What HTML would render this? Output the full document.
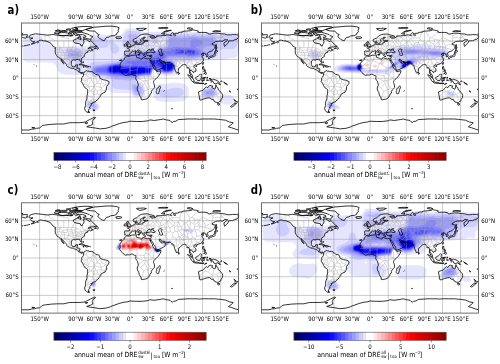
<!DOCTYPE html><html><head><meta charset="utf-8"><style>html,body{margin:0;padding:0;background:#fff;width:500px;height:364px;overflow:hidden}svg{display:block}text{font-family:"DejaVu Sans","Liberation Sans",sans-serif;fill:#000}.tk{font-size:5.45px}.cap{font-size:6.2px}.ss{font-size:4.0px}.ss2{font-size:3.6px}.let{font-size:10.2px;font-weight:bold;fill:#000}.frame{fill:none;stroke:#4a4a4a;stroke-width:0.8}.cbf{fill:none;stroke:#555;stroke-width:0.6}.tick{stroke:#444;stroke-width:0.6}.co{fill:none;stroke:#000;stroke-width:0.8;stroke-linejoin:round}.bd{fill:none;stroke:#a0a0a4;stroke-width:0.4}.gr{fill:none;stroke:#999;stroke-width:0.5}</style></head><body>
<svg width="500" height="364" viewBox="0 0 500 364">
<defs><clipPath id="mapclip"><rect x="21.5" y="23.0" width="217.0" height="110.3"/></clipPath>
<linearGradient id="cbg" x1="0" x2="1" y1="0" y2="0"><stop offset="0.0000" stop-color="#00005d"/><stop offset="0.0238" stop-color="#00005d"/><stop offset="0.0238" stop-color="#00006e"/><stop offset="0.0476" stop-color="#00006e"/><stop offset="0.0476" stop-color="#00007f"/><stop offset="0.0714" stop-color="#00007f"/><stop offset="0.0714" stop-color="#000090"/><stop offset="0.0952" stop-color="#000090"/><stop offset="0.0952" stop-color="#0000a0"/><stop offset="0.1190" stop-color="#0000a0"/><stop offset="0.1190" stop-color="#0000b1"/><stop offset="0.1429" stop-color="#0000b1"/><stop offset="0.1429" stop-color="#0000c2"/><stop offset="0.1667" stop-color="#0000c2"/><stop offset="0.1667" stop-color="#0000d3"/><stop offset="0.1905" stop-color="#0000d3"/><stop offset="0.1905" stop-color="#0000e4"/><stop offset="0.2143" stop-color="#0000e4"/><stop offset="0.2143" stop-color="#0000f4"/><stop offset="0.2381" stop-color="#0000f4"/><stop offset="0.2381" stop-color="#0d0dff"/><stop offset="0.2619" stop-color="#0d0dff"/><stop offset="0.2619" stop-color="#2525ff"/><stop offset="0.2857" stop-color="#2525ff"/><stop offset="0.2857" stop-color="#3d3dff"/><stop offset="0.3095" stop-color="#3d3dff"/><stop offset="0.3095" stop-color="#5555ff"/><stop offset="0.3333" stop-color="#5555ff"/><stop offset="0.3333" stop-color="#6d6dff"/><stop offset="0.3571" stop-color="#6d6dff"/><stop offset="0.3571" stop-color="#8585ff"/><stop offset="0.3810" stop-color="#8585ff"/><stop offset="0.3810" stop-color="#9d9dff"/><stop offset="0.4048" stop-color="#9d9dff"/><stop offset="0.4048" stop-color="#b5b5ff"/><stop offset="0.4286" stop-color="#b5b5ff"/><stop offset="0.4286" stop-color="#cdcdff"/><stop offset="0.4524" stop-color="#cdcdff"/><stop offset="0.4524" stop-color="#e5e5ff"/><stop offset="0.4762" stop-color="#e5e5ff"/><stop offset="0.4762" stop-color="#fffdfd"/><stop offset="0.5000" stop-color="#fffdfd"/><stop offset="0.5000" stop-color="#fffdfd"/><stop offset="0.5238" stop-color="#fffdfd"/><stop offset="0.5238" stop-color="#ffe5e5"/><stop offset="0.5476" stop-color="#ffe5e5"/><stop offset="0.5476" stop-color="#ffcdcd"/><stop offset="0.5714" stop-color="#ffcdcd"/><stop offset="0.5714" stop-color="#ffb5b5"/><stop offset="0.5952" stop-color="#ffb5b5"/><stop offset="0.5952" stop-color="#ff9d9d"/><stop offset="0.6190" stop-color="#ff9d9d"/><stop offset="0.6190" stop-color="#ff8585"/><stop offset="0.6429" stop-color="#ff8585"/><stop offset="0.6429" stop-color="#ff6d6d"/><stop offset="0.6667" stop-color="#ff6d6d"/><stop offset="0.6667" stop-color="#ff5555"/><stop offset="0.6905" stop-color="#ff5555"/><stop offset="0.6905" stop-color="#ff3d3d"/><stop offset="0.7143" stop-color="#ff3d3d"/><stop offset="0.7143" stop-color="#ff2525"/><stop offset="0.7381" stop-color="#ff2525"/><stop offset="0.7381" stop-color="#ff0d0d"/><stop offset="0.7619" stop-color="#ff0d0d"/><stop offset="0.7619" stop-color="#f80000"/><stop offset="0.7857" stop-color="#f80000"/><stop offset="0.7857" stop-color="#ec0000"/><stop offset="0.8095" stop-color="#ec0000"/><stop offset="0.8095" stop-color="#e00000"/><stop offset="0.8333" stop-color="#e00000"/><stop offset="0.8333" stop-color="#d30000"/><stop offset="0.8571" stop-color="#d30000"/><stop offset="0.8571" stop-color="#c80000"/><stop offset="0.8810" stop-color="#c80000"/><stop offset="0.8810" stop-color="#bc0000"/><stop offset="0.9048" stop-color="#bc0000"/><stop offset="0.9048" stop-color="#b00000"/><stop offset="0.9286" stop-color="#b00000"/><stop offset="0.9286" stop-color="#a30000"/><stop offset="0.9524" stop-color="#a30000"/><stop offset="0.9524" stop-color="#980000"/><stop offset="0.9762" stop-color="#980000"/><stop offset="0.9762" stop-color="#8c0000"/><stop offset="1.0000" stop-color="#8c0000"/></linearGradient>
</defs>
<rect width="500" height="364" fill="#fff"/>
<g transform="translate(0,0)">
<text transform="translate(7.60 13.90) scale(1 1.14)" class="let">a)</text>
<g clip-path="url(#mapclip)">
<path fill="#e5e5ff" d="M93 111l2.7 0 2.2-1.1 .9-.9 .8-1.9-.2-1.8-1.9-2.3-4.5-3.3-2.7-.3-1.8 .3-1.2 .9-.7 1.9-.1 3.7 .2 1.9 .5 .9 1.3 .9zM225.1 104.5l2.7 .2 1.8-.3 1.8-.6 1.7-1.3 .7-1 .5-1.8-.4-1.9-.6-.9-1.9-1.4-3.6-1.1-1.8-.1-4.5 .6-.9 .7-1.2 2.2 .2 2.8 1 1.5 .9 .9 1.8 1zM160.9 101.6l10.8 .5 10-.9 2.7-.7 1.3-.8 1.4-1.4 .9-1.4 .6-1.9 .3-3.7-.3-1.9-.8-1.9-1.4-1.8-2-1.4-2.7-.9-2.8-.5-7.2-.1-5.4 1.2-5.4-.2-3.1 .9-2.4 1.8-1.4 2-.9 2.8 .1 3.7 1.1 2.8 1.6 1.9 2.2 1.2zM202.5 98.2l1.8 .4 5.4 .1 1.8-.2 1.8-.5 5.5-3 .2-.9-.4-1.9-2.6-3.9-.9-1-1.8-1-2.7 0-5.4 1.5-2.3 1.6-1.8 2.8-.3 3.7 .2 1zM133.7 96.9l2.7 .5 4.6-.1 2.7-.6 1.1-.8 .5-.9 .2-1.9-.9-6.5-.9-1.9-.9-.9-2.7-1.9-.6-.9 .2-.9 .6-1 1.6-1.2 2.7-.3 4.5-.1 1.8-.3 .9-.5 .3-.4-.1-1.8 .7-3.9 1.8-.2 .7 .3 .7 1 .4 1.4 .9 1.5 8.2 1.3 7.2-.4 6.3-1 2.9-1-2-.9-2.7-.2-.5-.7-.2-1 .5-3.7 0-3.7 .2-.5 .9-.5 3.7-.2 1.8 .1 2.7 1.4 .9 .1 4.5-1.6 9.1-1.1 3.6-.7 8.1 .1 5.4-.5 6.4-.1 6.3-1.7 3.6 .2 1.8-.4 .9-.9 .5-1.2 .6-4.7 .7-2.1 0-15.9-3.6-.5-19.9-.5-3.6 .3-2.7-.5-43.4-.2-10.9 .1-9.9 .5-1.4-.8-1.4-1.9-1.8-.9-2.7-.3-9.9 .2-1.8 .6-.6 .4-3 4.5-1.8 1-10 0-8.1-.6-10 .3-1.1 .4 .6 1 .1 .9-1.4 1.3-.9 .1-.9-.3-2.7 .1-.9-.3 .4-.9-.1-.9-1.2-.5-2.7 0-.9 .3-1 1.1 .9 .9-.9 .8-.9-.4-1.8 .2-1.8 .8-1.4 1.4 0 1 1.4 1.5 3.6 .3 1.5 1 .4 1.1-1 .5-8.1 .1-11.8 .8-2.7 0-2.7-.5-3.6-1.5-.9-.6-1.8-2.7-.9-.5-2.2-.5-.5-.3-1-1.5-.8-2.4-.9-1-.9-.2-12.7-.4-2.7 .8-.9 .7-.9 1.2-.7 2.2-.2 2.8 .2 14 .7 3.1 .9 1.2 .9 .7 1.8 .5 1.8 .2 4.5-.2 14.5 .2 4.5 .5 1.8 1 1.3 1.2 2.8 5.6 1.3 2 1.9 1.3 1.8 .6 12.6 .4 11.8 0 2.7 .5 7.2 2 7.3 .9 1.7 .7 1 1 .5 .9-.5 3.7 .1 2.8 .6 1.9 2 2.3 .9 .2 .9 .7 2.7 .3 14.5 .4 1.8 .9zM83 45.5l.8-1.8 .2-3.2 .9-.8 .9 .1 .9 .5 1.8 1.8 2 .6 .4 1-.4 .9-2 1-4.5 .6zM139.2 37.1l1.8-1.4 3.6-1.3 2 .8-6.6 2.7z"/>
<path fill="#cdcdff" d="M90.3 109.1l3.6 .7 1.8-.2 .9-.4 1.2-1.1 .4-1 .1-.9-.4-.9-1.3-1.4-3.6-2.7-1.8-.5-1.8 .2-.9 .5-.5 1.1-.2 3.7 .5 1.9zM163.6 97l7.2 .4 8.1-.9 1.9-.4 1.7-1.1 .6-.9 .4-1 0-1.8-.9-1.9-.9-.7-1.9-.7-1.8-.3-5.4 .2-6.3 2-4.5-.3-.9 .1-1.1 .6-.8 1-.3 .9 .2 1.9 .5 .9 1 .9zM203.4 97.1l1.8 .4 3.6 0 1.8-.1 2-.5 2.5-1.4 1.5-1.4 .4-1-.4-1.8-2.1-2.8-1.2-.8-.9-.3-2.7 .3-4.5 1.4-.9 .7-1.3 1.5-1.3 2.8 .3 1.8zM136.4 96l5.5-.4 1.2-.6 .6-.9 .1-1.9-.3-3.7-.7-2.2-.9-1.1-4.6-2.3-.8-1 0-.9 .6-.9 1.6-1.9 1.3-.9 2.8-.8 6.3-.1 1.8-.4 .4-.6 1.1-4.7 1.2-.7 .9 0 .9 .5 1.8 1.5 1.8 .4 4.6 1.8 3.6 .2 3.6-.4 1.8-.5 .9-.6 .9-1 1.3-3 .4-2.8-.7-4.7 1.3-.9 5.9-.5 6.3 .5 9.9-1 6.4-1.5 6.3 .4 3.1-.7 2.3-1.9 .6-.9 1.1-3.8 1-1.1 2.6-.7 10.1-.4 1.8-.7 1.8-1.3 1.6-2.3 .5-1.9-.3-3.4-.9-2.2-1.2-.9-1.5-.4-14.5-.6-5.4-.9-4.5-.3-7.2 .1-10-.4-11.7 .2-16.3-.3-11.8 .3-1.7 .4 .6 1.9-1.3 .9 .1 .9 .5 .8 .9 .9 .9 .2 1.8-.2 .4-.7 1.4-.2 1.8-2.7 6.4-.1 .9-.2 .9-.7 .4 .1 .3 1-1.1 3.7-.2 4.7-.3 .8-5.5 1.5-1.8 .8-2.7 2.3-.9 .1-1.8-1.8-.9 0-1.1 1-.7 0-.9-.8-2.7 1.8-.9 .2-3.6 .1-2.8-1.1-.9 0-.9 .9-2.7-.2-2.7 1-1.8 .2-.4-.3-.4-.9-1.2-.9-.5-1 .1-.9-.8-.9 .7-1 0-.9-1.4-1.9 1-.9 .2-.1 .9 .7 .9 1.1 .4 1.1 .9 .9 .2 1 .3 .3 1.8-.5 2.7-1.3 .9-.2 6.4 0 1.3-1.1 .5-1.1 .9-.2 2.7 0 1-.6 .5-1-1.5-1.2-2.7 0-.9-.3-.3-.3 .7-1-.4-.3-.9 0-2.7 1.3-.7 .9-.1 .9-1.1 1.2-.9 .3-1.8-1.4-1.8 .2-.4-.3-.2-.9 .6-.7 1.8-.5 2.7-3.1 1.9-1.3 .3-.9-2.2-1.8-2.7-.6-7.2 .1-1.8 .2-.9 .4-1.5 1.7-.9 1.8-1.8 6.6-.1 1.9 .3 1.8 1.1 1.9 2 1.9 1.8 .8 .7 1-.6 1-2.8 1-.9 .8-1.6 2.8-.8 1-4.9 2.3-1.8 .5-6.3 .7-12.7 .4-3.6 .9-1.8 1-1.8 1.6-1.2 1.9-.2 1.9 .9 1.8 1.8 1.9 4.1 2.4 3.6 1.1 8.2 .9 4.5 1.6 .8 .5 1.1 1.9 .2 .9-.3 3.8 .9 1.8 .9 .7 3.6 .9 10.9 .7 1.8 .3 .9 .6 .9 1.2 2 3.1 .7 .6zM124.4 46.5l-.8-1 .2-.9 .9-.7 .9 .1 .5 .6 .1 .9-.6 .8zM76.7 68.9l1.8 .4 1.9-.5 1.1-.9 1-1.8 0-1-.3-.9-1.6-1.9-.4-.9 1.9-1.9 .9-1.8 .1-2.8-.7-4.7-1.1-1.3-1.9-.5-4.5 .1-5.4-.2-1.8 .3-1.3 .7-.7 .9-.3 .9-.2 2.8 .1 2.8 .6 1.9 .9 1 1.8 1 7.7 .8 .5 .9-1.4 1.9-.4 1.9 .6 1.8zM112.9 53.2l1.8 .6 .9-.1 1.6-.7 1.6-1.9 .4-1.8-.2-1.9-.5-.9-1.1-1.2-2.6-1.6-.8-1.9-1.1-1.2-1.8-.2-1.1 .4-.7 .7-.9 0-1.2-1.6-1.5-1.3-1.8-.8-2.7-.3-7.3 .2-.9 .4-2.5 1.8-.1 .9 .8 .3 2.4 2.6 1.6 .9 .6 .9-1 1.3-4.2 .6 0 .9 .6 .8 .9 .4 1.8 .2 7.3-1.6 4.5-.4 2.3-1.2 1.3-2.4 .9 .8 .2 .6-.4 2.8 .4 1.9 1 1.9zM152.7 42.9l1.8 .5 1.8-.3 1-.4 .7-.9-.3-1-1.4-.6-2.7 .1-1.4 1.5z"/>
<path fill="#b5b5ff" d="M91.2 107.2l2.7 .6 .9-.1 1.1-.6 .1-.9-.6-.9-2.3-1.9-1.9-.6-1.1 .6-.3 1.9 .2 .9zM204.3 96l1.8 .3 3.6 0 2.7-.6 1.8-1.1 .9-1 .4-1.4-.3-.9-1.4-1.9-1.4-.7-1.8 0-4.5 1.3-1.6 1.3-1.1 1.8-.1 1.9zM135.5 94.3l2.7 .2 2.8-.6 .8-.8 .2-.9-.1-3.5-.9-2-1.4-1-3.2-1.4-2.7-.3-1.4 .7-.5 1-.1 .9 .4 1.9 1.6 3.7 .9 1.4zM124.7 80.1l3.6 .5 2.7-.1 3.6-1.1 5.4-3.1 2.8-.5 7.2-.2 .9-.5 .3-.6 1-3.8 .5-.6 .9-.4 .9 0 1.8 .9 2.7 .6 3.7 1.9 1.8 .5 1.8 .1 5.4-.8 1.8-1.2 .7-1 .9-1.8 .4-1.9-.4-2.8-2-3.7-.2-1 2.4-.8 4.5-.4 3.7-.1 6.3 .6 9-.7 2.8-.7 3.6-2.3 .9-.3 .9-.1 3.6 .7 .9-.1 .7-.4 .6-1 1.1-4.6 3.9-5.6 .3-1-.1-.9-3-4.7-1.5-.9-2-.4-8.1 .3-10-.7-11.7 .5-11.8-.4-.9 .3-1.2 2.2-.5 7.5-.6 1-1.3 .7-6.4 1.7-2.7 2-.9 .4-1.8-.7-.9-1.3-.9 0-.9 1.2-.9 0-.9-.8-.9 .3-1.8 1.4-.9 .2-3.6 0-2.8-1.1-.9 1-.9 .1-1.8-.6-.9 0-7.7 2.9-1 1-2.1 3.5-.9 1-4.6 2.3-2.4 .6-5.7 .6-13.6 2-3.6 1.4-1.6 1.6-.4 1-.1 .9 .5 1.9 2.1 1.8 2.2 1.1 2.7 .7 6.4 .4 4.5 1 1.9 .6 3.5 2 1.8 .5 5.5 0zM69.5 57.9l1.8 .4 5.4 .2 2.7-.5 1-.8 .5-1.4 0-2.8-.5-1.7-1-.8-.9-.3-3.6 .5-3.6-.6-1.8 .1-1.1 .9-.6 2.8 .5 2.8zM132.8 45.5l2-.9 .6-1.9-2.3-1.9-.1-.9 .4-.9 1.2-.9 1.8-.7 .9-1.2-.2-1-1.6-.9-1.8-.2-2.9 .2-1.6 .3-1.4 .6 0 1 1.6 1.8 .1 1-.6 1.8 .2 1 1.6 2.8 1.2 .9zM136.4 43.8l4.6 .3 1.8-.2 1.8-2.7 2.7-.1 .9-.3-.9-.2-2.7 0-.9-.3-.9-1.1-.9 0-.7 .7 0 .9-2.1 2.5-.9 .2-.9-.2-.8-1.5-.6 0-.2 .9zM151.8 38.3l1.8 .1 .9-1 1.8-.2 0-1.7-.9 0-.9 1.3-2.9 .3-.1 .9z"/>
<path fill="#9d9dff" d="M206.1 94.3l2.7 .2 2.7-.4 1.3-1 .5-.9-.4-.9-1.4-.7-3.6 .6-1.8 1.1-.5 .8 .1 1zM135.5 91.4l.9 .5 .9-.2 .9-.7 .6-1.6-.4-1.9-1.1-1-1.8-.6-.9 .3-.6 1.3 .6 2.6zM115.6 77.3l7.3 0 5.4 .7 3.6 .1 2.7-.4 3.5-1.4 3.3-.9 8.6-.4 .9-.6 1.1-3.7 .7-.9 .9-.4 5.4 .9 3.7 2.1 1.8 .6 2.7 0 4.5-.8 1.8-1.4 .6-1 .9-2.8-.1-1.9-.8-1.8-1.5-1.9-1.8-.9-2.7-.1-.9-.3-.5-.6 .5-1.1 1.8-.8 9.9-.7 4.6-.1 7.2 .8 9-.9 1.8-.9 1.5-1.9 .5-1.8-.2-3.8 .5-.9 1.4-1 .9-.2 3.6 .3 .9-.2 1.5-.8 1.2-1.4 .6-1.4 .1-1.9-.3-.9-.5-.9-.8-.7-1.8-.5-6.3 .5-9.1-1.3-3 .1-10.5 1.5-7.3-.8-4.5 .2-.8 1-.3 .9-.2 5.6-.5 1.1-1.8 1.3-6.4 1.6-3.6 2.4-.9 .2-.9-.1-1.8-.9-.9 0-.9 .4-2.7 0-1.8 .9-2.7 .2-2.7-.3-3.7 .3-1.8-.3-3.6 1.6-3.6 1.1-1 .8-3.5 4.4-.9 .8-2.9 1.3-2.6 .7-6.3 .7-5.4 1.3-9.1 1.3-2.7 1.1-1.2 1.5-.2 1.8 .5 1 .9 .9 1.8 1.1 2.7 .7 7.3 .5zM71.3 55.9l6.3 .2 .9-.4 .3-.8-.1-1-.2-.4-.9-.3-2.7 1.1-.9 .1-2.7-1-.9 .4-.1 1.1zM141 43.1l.9 .1 .6-.5 .5-.9-.1-1-1 .6-1.2 1.3z"/>
<path fill="#8585ff" d="M125.6 76.3l7.2 .5 1.8-.2 7.3-1.7 7.2-.1 .9-.3 .9-.7 .9-3.1 .9-1.3 .9-.4 5.4 .6 3.7 2.2 1.8 .7 2.7 0 4.5-.8 .9-.6 .9-1.1 .9-2.1 .2-1.8-.5-1.9-1.4-1.9-1-.7-1.8-.5-2.7 0-1.7-.6-.5-1 .2-.9 .8-.9 1.2-.9 1.8-.7 13.6-.5 6.3 .8 2.7 .1 6.3-.7 1.8-.6 1-.7 .7-1.5-.3-1.9-1.4-1.5-2.8-1.3-1.3-.9 1.1-.9 4.9-2 .9-.8 .4-1 0-.9-.9-1-2.1-.9-3.8-1-2.7 .1-2 .9-.8 .9-.4 1.9 .5 1.9 0 1.4-.9 1.4-13.6-.4-6.3 1-9 2.2-3.7 2.3-1.8 .8-3.6 .3-6.3 .1-3.6 .4-2.8 .8-.8 .9 .2 .9-.3 1-1.8 .6-2.7 .5-4.5-.4-1.8 .4-1.8 1.4-2.7 2.7-.9 .3-10.9 1.2-5.4 1.7-8.2 1.1-2.7 1.1-1 1.5 0 .9 .6 1 1.3 1 1.8 .6 7.3 .4 9.9 2.1 3.6-.1z"/>
<path fill="#6d6dff" d="M123.8 75.4l6.3 .6 3.6 0 8.2-1.5 7.2-.2 .9-.2 .9-1 .6-2.4 1.2-1.7 1.8-.5 4.5 .4 .9 .3 2.8 2.1 1.8 .8 1.8 .1 4.5-.7 1.8-1 1.4-2.6 .2-1.8-.7-2.2-1.8-1.7-1.8-.5-2.7 0-1.7-.3-1.6-.9-.6-1 .1-.9 3.8-3.8 .9-.6 1.8-.2 6.3 .7 7.3 0 5.4 .7 3.6 .1 3.2-.6 2.4-1 .8-.9-.2-.9-3.5-2.5-2.7-.9-15.4-.1-5.4 2-3.6 .4-5.4 .1-1.8 .6-2.3 1.3-1.1 .9-1.2 1.9-.9 .7-3.6 1-3.6 2.6-13.6 .8-5.4 0-2.1 .5-.5 .9 .8 .7 5 1.2-1.7 .9-6 .4-4.5-1.1-1.9-.1-6.3 .5-2.7 .8-3.6 1.8-8.2 1.1-1.1 .4-.9 .9 0 .9 .2 .4 .7 .6 1.1 .4 1.8 .3 4.6-.1 8.1 2.3 2.7 .2 2.7-.2 3.7 .7z"/>
<path fill="#5555ff" d="M131.9 75.4l3.6-.1 7.3-1.3 6.3-.1 .9-.3 .8-1 .9-2.8 1-1.5 1.8-.5 3.6 .1 1.8 .5 2.8 2.4 1.8 .8 1.8 .2 4.5-.7 1.8-1.2 .7-1 .6-1.9-.2-1.9-1.1-1.7-1.8-1.1-5.4-.4-1.8-.5-.9-.8-1.8-2.7-.5-.2 .5-.6 2.7-1.1 .6-1.1-.6-1.1-1.8-.4-1.4 .5-.8 1 0 .9 .6 .9-.3 .2-1.8 .8-4.5 .5-1.8 .8-.7 .5-1.4 1.9-.1 .9 .9 1.9 .2 .9-1.6 .9-13.6 0-10.8 .5-1.8-.3-3.7-1.3-2.7-.1-6.3 .9-2 1.3-2.1 2.8 .3 .9 1.9 1.9 2.8 1.2 2.7 .3 3.6-.3 4.6 1zM184.4 53.9l5.4 .7 3.6-.2 1.8-.9 .4-.5 .1-.9-.4-1-1-.9-1.8-.6-14.5-.1-1.8 .5-1 1.1-.2 1 .4 .9 .8 .5 1.8 .3z"/>
<path fill="#3d3dff" d="M126.5 74.5l7.2 .4 8.2-1.2 7.2-.2 1.2-.9 1.5-4.9-.5-.7-1.3-.2-14.5-.2-10.8 .5-1.8-.3-3.7-1.3-2.7-.3-4.5 .5-1.8 .6-1 .7-1.3 1.9 .1 1.8 .5 1 1.1 .9 1.5 .6 2.7 .3 4.5-.3 2.8 .9zM163.6 70.8l.9 .4 1.8 .2 3.6-.5 1.8-.7 1.1-1.3 .7-1.9-.3-1.9-.5-.9-1-1-.9-.4-4.5-.2-3.6-.8-2.5-2.3-1.2-.5-1.8-.2-3.6 .4-.9 .3-1.1 1-.5 .9 .1 .9 1.5 3.1 .6 .7 1.2 .3 4.5 .4 .9 .4zM178.9 53l4.6 0 8.1 .8 1.8-.3 .8-.5 .3-.9-.5-1-.6-.4-1.8-.3-12.7 0-1.8 .3-.5 .4-.1 1 .6 .6z"/>
<path fill="#2525ff" d="M122 73.6l11.7 .9 9.1-1.4 5.4 0 .9-.1 .9-.6 1.1-3.5-.4-1-1.6-.5-13.6-.2-10.8 .5-2.7-.5-3.7-1.4-1.8-.2-5.4 .8-1.1 .6-.9 .9-.4 1 .1 1.8 .6 1 1.7 1 2.7 .3 4.5-.4zM165.4 70.9l4.5-.4 1.8-.9 1.1-1.7 .3-1.8-.5-1.3-.9-1.1-1.8-.7-8.1-.2-2.1-2.3-1.6-.6-3.6 0-1.4 .6-.4 .4-.3 .5 .1 .9 1.1 1.3 1.8 .6 4.5 .3 1.7 3.4 1.1 1.5 .9 .8zM188 52.1l2.7 .5 .9 0 1.2-.5-1.2-.6-.9 0-3.1 .6z"/>
<path fill="#0d0dff" d="M128.3 73.6l6.3 .4 8.2-1.3 5.8-.1 .5-.2 .9-.9 .3-2.6-.3-.5-1.6-.5-10.2-.2-13.5 .6-2.7-.6-3.7-1.4-1.8-.3-5.4 .9-1.3 1-.4 1 .1 1.8 .8 1 1.7 .7 1.8 .1 4.5-.5 2.8 .9zM164.5 70.1l1.8 .3 4.5-.7 1-.8 .8-1.8 0-1-.3-1-.8-.9-1.6-.7-5.4 0-1.8 .6-.7 1 .1 1.9 .9 1.9z"/>
<path fill="#0000f4" d="M132.8 73.5l3.6-.2 6.4-1.3 5.4-.1 .9-.3 .6-1.8-.5-.9-1-.3-10.9-.4-4.5 .1-8.1 .8-2.7-.7-3.7-1.5-1.8-.4-4.5 .5-1.6 .9-.5 1 0 .9 .3 .9 .9 .8 .9 .4 2.7 0 3.6-.6 2.8 .8 3.6 .1 4.5 .9zM165.4 69.8l3.6-.2 1.8-.6 .9-.9 .4-1.1-.4-1.9-.9-.7-.9-.3-4.5 0-1 .1-.8 .5-.7 1.4 .3 1.8 .6 1z"/>
<path fill="#0000e4" d="M130.1 72.6l3.6 .3 3.6-.3 5.5-1.6 5-.3 .3-.9-4.4-.2-4.6-.7-4.5-.1-2.7 .3-3.3 .7-1.5 .9 .5 1zM111.1 70.9l1.8 .6 1.8-.1 3.6-.8 2.8 .4 1.3-.3 0-.9-1.3-.9-3.7-1.7-2.7-.1-2.7 .4-.9 .5-.5 .9-.1 .9zM165.4 68.9l1.8 .1 2.7-.4 1-.7 .4-.9 0-.9-.5-.8-.9-.4-4.5 0-.9 .2-.6 1 0 .9 .6 1.2z"/>
<path fill="#0000d3" d="M131.9 71.8l1.8 .3 2.7-.2 1.1-.2 1.5-1-1.1-.9-4.6 0-2.2 .9 .3 1zM112.9 70.9l2.7-.3 2-.8 .6-.9-1-1-.7-.2-3.9 .2-1.3 1-.1 .9 .8 .8z"/>
<path fill="#0000c2" d="M112.9 69.9l2.2-.1 .7-.9-1.1-.3-1.8 .1-.2 .2-.1 .9z"/>
</g>
<path class="bd" d="M61.4 60.1l.2 .1M63.2 62.8l0 .2M65 58.3l-.4 1.1M64.6 59.4l-1 1.4M64.6 59.4l4.9 3.6M69.5 63l-.2 .7M69.3 63.7l-2.6 .6M85.6 106l.1 .2M85.7 106.2l-.3 .3M68.7 58.3l1.2 4.3M69.9 62.6l-.4 .4M69.9 62.6l1.3-.6M72.4 66.8l-1 .8M71.4 67.6l-1.4-2.3M70 65.3l-.7-1.6M70 65.3l-2.3 1.1M71.4 67.6l-.1 .4M71.8 58.3l.9 1.6M74.9 58.3l-.9 1.3M75.7 65.7l.3 .2M76 65.9l-1.5 2.9M75.9 69.3l-.2 0M76 65.9l.5 .3M76.5 66.2l.4 1.2M76.7 68.4l-.8 .9M75.9 69.3l.1 .2M77.2 65.7l-.7 .5M126.1 56.9l2.3 4M128.4 60.9l-4-1.3M79.6 69.5l-.6 .3M79 69.8l-1-1.3M79 69.8l0 .1M79 69.9l-1 .5M79 69.9l.2 .4M79.2 70.3l-.7 1M79.5 70.7l-.3-.4M80.1 72.4M82 72.6l.4 .3M83.7 74.4l.2 .3M83.9 74.7l-.2 .2M81.8 79.7l3.4 .6M85.2 80.3l-.7 4M84.5 84.3l-1.1 .2M84.8 71.8l-.5 2.8M84.3 74.6l-.4 .1M87.2 98.2l1 4.7M88.2 102.9l-.6 1.8M87.6 104.7l-1.2 1.5M86.4 106.2l-.7 0M92.2 71.9l.4 4M92.6 75.9l-1.7 1.9M90.9 77.8l-1.3 0M89.6 77.8l-3.5-2.6M86.1 75.2l1.5-3.8M99 75.7l-3.7 .4M95.3 76.1l-2.7-.2M86.1 75.2l-1.8-.6M87.5 94.4l.3 1.3M87.8 95.7l-.6 .7M84.5 84.3l2.3 .7M86.8 85l.6 .7M87.4 85.7l-2.8 1.4M89.6 77.8l-2 1.7M87.6 79.5l-2.4 .8M87.6 79.5l-.8 5.5M87.4 85.7l.4 .3M87.8 86l.4 .6M88.2 86.6l-1.3 2.1M88.2 86.6l.6 .1M88.8 86.7l1.4 4.5M90.2 91.2l-2.4 2.1M90.9 77.8l.6 1.9M91.5 79.7l-3.7 6.3M86.4 106.2l2.9 2.5M95.3 76.1l2 6.6M97.3 82.7l-.2 .4M97.1 83.1l-2.5 1.7M94.6 84.8l-3.1-5.1M94.6 84.8l-.1 1.2M94.5 86l-.2 .3M94.3 86.3l-5.5 .4M87.8 95.7l4.3 1.4M92.1 97.1l1 1.8M93.1 98.9l-4.9 4M90.2 91.2l.7-.1M90.9 91.1l2.7 3.3M93.6 94.4l0 .2M93.6 94.6l-1.5 2.5M93.1 98.9l1.1 .9M94.2 99.8l.1 2.1M90.9 104.2l-3.3 .5M94.3 86.3M94.3 86.3l-3.1 4.5M91.2 90.8l-.3 .3M94.5 86l6.6 1.6M101.1 87.6l.1 .1M101.2 87.7l0 1.6M101.2 89.3l-4 1.7M97.2 91l-1.6-1.3M95.6 89.7l-1.3-3.4M91.2 90.8l3 1.1M94.2 91.9l-.6 2.5M94.2 91.9l1.4-2.2M97.2 91l.6 3.1M97.8 94.1l-4.2 .5M97.8 94.1l1.7 1.5M99.5 95.6l.3 .5M99.8 96.1l-.4 1M98.2 98.7l-4 1.1M97.1 83.1l3 .7M100.1 83.8l1 3.8M100.1 78.6l-2.8 4.1M101.2 79.2l.4 3.4M101.6 82.6l-1.5 1.2M105.1 80.3l1 1.3M106.1 81.6l-.5 3.2M105.6 84.8M105.6 84.8l-4-2.2M101.2 89.3l.4 .5M101.6 89.8l-2.1 5.8M101.6 89.8l2.6 1.4M104.2 91.2l0 .2M104.2 91.4l.2 1M100.3 96l-.5 .1M105.6 84.8l-4.4 2.9M105.6 84.8l1.3 1M106.3 87.9l-2.1 3.3M124.9 44.4l.4 .3M125.3 44.7l.1 1.1M105.3 91.2l-1.1 .2M106.1 81.6l1.2-.6M128.4 60.9l.1 .1M128.5 61l-8.2 7.2M123.2 73.6l3.4 1.2M126.6 74.8l.1 0M119.9 69l10-1.3M129.9 67.7l-.2 3M129.7 70.7l-3.1 4.1M124.9 51.7l1.7 .3M126.6 52l-.2 .9M126.4 52.9l-1 1.9M127.2 51.3l0 .1M127.2 51.4l-.1 .2M127.1 51.6l-.3 .1M126.8 51.7l-.3-.4M128.5 61l3.6 0M132.1 61l-2.2 6.7M126.8 51.7l-.2 .3M126.4 52.9l3 1.8M130.3 56l2.2 4.9M132.5 60.9l-.4 .1M125.3 44.7l.1 0M125.4 44.7l.7 .2M127.7 45.4l.5 .1M128.2 45.5l-.1 .4M128 46.5M127.3 42l-.4 1.2M126 44.2l-.6 .5M129.5 44.3l-1.2 1.1M128.3 45.4l-.3-.4M128.3 45.4l-.1 .1M127.1 51.6l2.6 1M129.7 52.6l.1 1.1M129.1 48l.1 0M129.2 48l.7 1.6M129.9 49.6l-.3 .2M127.3 51.3l-.1 .1M129.7 47.7l-.5 .3M129.7 52.6l1.4-1.2M131.1 51.4l.4 .7M133.9 55.4l0 .1M133.9 55.5l-.1 4.1M133.8 59.6l-.2 1.2M133.6 60.8l-1.1 .1M129.9 49.6l1.4 .7M131.3 50.3l-.2 1.1M131.8 46.7l.4 .3M132.2 47l.2 2.5M132.4 49.5l-.2 .2M132.2 49.7l-.9 .6M133.6 60.8l5.8 2.9M139.4 63.7l-2.2 6M137.2 69.7l-7.5 1M141.4 98.5l0 .1M141.4 98.6l.2 .8M137.2 69.7l-.2 5.3M137 75l-.8 1.2M132.2 49.7l1 1.3M133.2 51M133.9 55.4l0 .1M134.4 39.3l-.1 .5M134.3 39.8l-.9 .6M136.9 51.5l.7 .1M137.6 51.6l.6 .6M138.2 52.2l0 .1M136.3 56l-2.5 3.6M134.3 39.8l.8 1.4M135.1 41.2l-.5 .6M136.1 47.9l.3 .4M136.4 48.3l-1 1.1M135.4 49.4l-.9-.2M134.5 49.2l-.3-2.1M134.2 47.1l1.9 .8M136.1 47.9l-.9-1.9M135.2 46l.1-.1M135.3 45.9l.8-1M136.1 44.9l1.6 .9M137.7 45.8l.5 1.3M138.2 47.1l.1 .6M138.3 47.7l-1.9 .6M132.2 47l.9-.4M133.1 46.6l1 .2M134.1 46.8l.1 .3M134.5 49.2l-2.1 .3M133.5 45.3l-.4 1.3M133.2 51l.6 .1M134 45.2l1.3 .7M135.2 46l-1.1 .8M135.4 49.4l.2 .9M136.6 38.2l0 .6M136.6 38.8l-1-.1M136.6 38.8l.1 0M136.7 38.8l0 2M136.7 40.8l-.1 .2M136 41.2l-.9 0M135.5 44.3l.6 .4M136.1 44.7l0 .2M138.3 47.7l.7 .6M139 48.3l-.5 1.3M137.8 51.1l-.2 .5M148.3 97.2l.3-1.4M148.6 95.8l1-.9M157.3 88.6l2.7-.3M141.4 98.6l2.3-7.5M143.7 91.1l4-1.6M147.7 89.5l.9 6.3M140.9 59.4l.7 2.3M141.6 61.7l-1.3 1.8M140.3 63.5l-.9 .2M136.2 44.4l-.1 .3M144.9 34.3l0 .1M144.9 34.4l-1.1 2.6M141.1 38.8l-1.1-.3M140 38.5l-.3-.4M139.7 38.1l-.2-2.3M139.7 38.1l-3 .7M136.7 40.8l1.7 .3M138.4 41.1l.3 .7M138.7 41.8l-.9 1.3M137.8 43.1M137.8 43.1l.2 .2M138.4 44.8l-.7 1M138 86.6l2.8 1.3M140.8 87.9l2.9 3.2M138.2 47.1l2.2-2.2M140.4 44.9l1.2 .6M141.6 45.5l-.5 2.7M141.1 48.2l-1.4 .2M139.7 48.4l-.7-.1M140 38.5l-.2 .4M139.8 38.9l-1.4 2.2M138.7 41.8l1.2 .5M139.9 42.3l0 .2M139.7 48.4l.3 2.4M139.2 52.4l-.1 0M139.1 52.4l-.9-.2M139.1 52.4l0 .5M140.2 44.5l.2 .4M139.8 38.9l.5 3M140.2 42.1l-.3 .2M140.3 63.5l5.7 4.2M146 67.7l-.2 5.7M145.8 73.4l-1.6 2.3M144.2 75.7l-7.2-.7M141.8 59.4l0 2.1M141.8 61.5l-.2 .2M136 77.8l8.1 3.1M144.1 80.9l-5.7 3.6M142.1 44.6l.2 .5M142.3 45.1l-.7 .4M140.8 87.9l4-4.4M144.8 83.5l3 6M147.8 89.5l-.1 0M144.2 75.7l1.1 4.9M145.3 80.6l-.1 .1M145.2 80.7l-1.1 .2M141.1 48.2l.6 .4M141.7 48.6l-.3 2.9M145.2 80.7l-.4 2.8M142.3 45.1l.7-.1M143 45l1.9 1.1M144.9 46.1l-2.2 2.6M142.7 48.7l-1-.1M142.7 48.7l.8 .8M143.5 49.5l-.7 3.1M142.8 52.6l-.6 .4M141.8 61.5l.7-.5M142.5 61l7.4-.4M153.2 67.3l-.2 .2M153 67.5l-7 .2M142.8 52.6l1.3 0M144.1 52.6l.1 .1M144.7 58.5M144.7 58.5l-2.2 2.5M145.3 80.6l1.1 .1M146.4 80.7l4.4 8M150.8 88.7l-3 .8M143.6 42.9l-.6 2.1M148.9 34.8l-.2 .4M148.7 35.2l-1.8 1.2M146.9 36.4l-2-2M144 38.7l.9 1M144.9 39.7l-.4 .9M146.9 36.4l.7 1M147.6 37.4l-.5 1.2M147.1 38.6l-1.9 1.1M145.2 39.7l-.3 0M143.5 49.5l.7 .1M144.2 49.6l.5 .7M144.7 50.3l.2 1.5M144.9 51.8l-.8 .8M145.2 39.7l.5 .7M146.4 41.5l0 .1M146.4 41.6l-1.5 .8M144.9 42.4l-.3-.1M144.9 42.4l2 3.5M146.9 45.9l-.1 .1M146.8 46l-1.9 .1M144.7 50.3l2.5 .3M146.7 51.8M146.7 51.8l-1.8 0M146.8 46l0 1.9M146.8 47.9l-2.6 1.7M146.7 51.8l0 .5M146.7 52.3l-.3 .3M146.9 45.9l1.7-1M148.6 44.9l1.5 .6M150.1 45.5l.8 .8M150.9 46.3l.7 2.8M151.3 49.8l-.7 .5M147.8 49.9l-1-2M147.6 37.4l1.9 .4M149.5 37.8l.1 3.6M149.6 41.4l-1 .8M148.6 42.2l-.9-.8M147.7 41.4l-.1-.1M147.5 40.5l-.4-1.9M146.4 41.6l1.3-.2M148.6 42.2l0 2.7M146.7 52.3l.1 .2M147 53.1l.2 .5M147.2 53.6l-.9 .4M149.7 52.5l0 3M149.6 55.5l-2.4-1.9M144.8 58.5l-.1 0M151.2 58.2l-.2 1.4M145.8 73.4l3.3 1.6M149.1 75l4.2 3.8M153.3 78.8l-6.9 1.9M150.8 88.7l2.6 0M149.6 41.4l2.4-.3M152 41.1l.8 1M152.8 42.1M152.8 42.1l-2.7 3.4M148.7 35.2l.7-.2M151.5 35.5l.3 .9M151.8 36.4l-.1 .3M150.3 37.6l-.8 .2M152.3 38.6l-.3 2.5M153 50l.2 .1M153.2 50.1l.5 .5M153.9 52.9l-1.7 3.2M152.2 56.1l-.2 .1M153 67.5l0 .6M153 68.1l-3.9 6.9M153 35.9l-1.2 .5M153.3 78.8l.3 .1M153.6 78.9l1.1 .7M153 68.1l.6 10.8M155.1 66.1l.3 0M155.4 66.1l1.5 3.9M157.5 71.8l1.3 3.5M199.7 98.1l3.3 .9M154.9 38.1l-.1 .2M154.8 38.3l-.1 .2M154.7 38.5l-.7-.1M152.2 56.1l3.3 1.7M155.5 57.8l.3 7.7M155.8 65.5l-.1 .4M155.7 65.9l-.3 .2M150.9 46.3l2-.6M152.9 45.7l1.4 2.6M154.3 48.3l-1.1 1.8M152.8 42.1l2 1.4M154.8 43.5l.1 1.1M154.9 44.6l-2 1.1M152.8 42.1l1.9-2M154.7 40.1l1.2 2.3M155.9 42.4l-1.1 1.1M154.7 38.5l.3 .3M155 38.8l-.3 1.3M155.5 51.8l3.4 3.5M158.9 55.3l-.2 .3M158.7 55.6l-3.2 2.2M154.9 44.6l1.3 1.5M156.2 46.1l-1.9 2.2M156.2 46.1l3.4 .9M159.6 47l-.9 1.6M158.7 48.6l-3.3 2.9M162.7 35.8l-1.1 1.8M161.6 37.6l-.2 0M161.4 37.6l-.4-1.6M154.8 38.3l.5-.4M157 36.6l.4-.4M157.4 36.2l.2 .2M157.6 36.4l-.6 3.2M157 39.6l-2-.8M157 39.6l.3 .3M157.3 39.9l-1.3 2.4M156 42.3l-.1 .1M156 42.3l1.4 .5M157.4 42.8l2.6 4M160 46.8l-.4 .2M158.7 48.6l.2 .9M159.6 53.2l.1 .1M159.4 54.9l-.5 .4M157.3 36l.1 .2M161.4 37.6l-.6 .1M160.8 37.7l-3.2-1.3M155.7 65.9l6.3 1.9M158.7 55.6l1.6 3.7M159.7 61.4l-3.9 4.1M160.8 37.7l-2.6 2.3M158.2 40l-.9-.1M158.2 40l.8 1.6M159 41.6l-1.6 1.2M160 46.8l.2 0M160.2 46.8l.7 .8M160.9 47.6l1.3 2M162.3 49.9l.4 .5M162.7 50.4l0 .1M162.7 50.5l-.7 1.3M161.6 37.6l1.1 1M162.7 38.6l.4 .6M163.1 39.2l-2.5 3.4M160.6 42.6l-1.6-1M160.6 42.6l0 3.5M160.6 46.1l-.4 .7M162.8 55.2l2.5 1M165.3 56.2l.2 .6M165.5 56.8l-3.8 3.5M161.7 60.3l-.6 0M164.3 66.4l.9-1.1M165.2 65.3l.1-.1M161.7 60.3l.8 .8M163.6 62.8l1.6 2.5M160.6 46.1l3.1-1.4M163.7 44.7l1.8 3.1M165.5 47.8l-4.6-.2M163.1 39.2l4.6 2.3M167.7 41.5l-.1 .2M167.6 41.7l-3.9 3M162.7 50.5l1.5 1.2M164.2 51.7l1.5 3.5M165.7 55.2l-.4 1M162.9 61.3l5.2-1.4M162.7 38.6l2.4-2.8M167.3 35.1l2.8 4.1M170.1 39.2l-1.6 1.8M168.5 41l-.8 .5M162.7 50.4l3.2-1.2M165.9 49.2l.8 1.8M166.7 51l-2.5 .7M165.5 47.8l.8 .3M166.3 48.1l-.4 1.1M165.5 56.8l2.6 2.3M171.2 34.2l.9 1.2M172.1 35.4l-.3 2.6M171.8 38l-1.2 1M170.6 39l-.5 .2M168.5 41l5.2 5.2M173.7 46.2l0 .1M173.7 46.3l-3.9 1.7M169.8 48l-1.5-1.3M168.3 46.7l-.7-5M166.7 51l1.4 1.4M168.1 52.4l-2.4 2.8M168.1 52.4l2.4-.5M170.5 51.9l2.3 1.4M172.8 53.3l.1 3.6M172.9 56.9l-1.8 1.5M168.3 46.7l-2 1.4M169.8 48l.7 3.9M170.6 39l4.2 4.2M174.8 43.2l-1.1 3M176.3 72.1l.1 0M176.4 72.1l.8 .3M174.3 66.4M174.3 66.4l0 .2M173.7 46.3l.6 .6M174.3 46.9l.6 4.7M174.9 51.6l-2.1 1.7M172.9 56.9l3 1.6M175.9 58.5l.4 1.3M176.3 59.8l-3.8 4.9M181.7 32.4l-2 5.6M179.7 38l-7.9 0M172.1 35.4l1.2-1.9M174.9 51.6l2.4-.1M177.3 51.5l1.7 5.2M179 56.7l-3.1 1.8M179.7 38l.3 1.5M180 39.5l-1.6 2.7M178.4 42.2l-3.6 1M178.4 42.2M178.4 42.2l-1.3 4.1M177.1 46.3l-2.8 .6M176.3 59.8l.6 .7M176.9 60.5l-1 5.8M175.9 66.3l-1.6 .1M197.4 32.1l-5.8 5.6M191.6 37.7l-1.7 .4M189.9 38.1l-4.5-6.7M189.9 38.1l-.8 2.7M189.1 40.8l-2.7 1.8M186.4 42.6l-1.5 .3M184.9 42.9l-.6-.1M184.3 42.8l-4.3-3.3M175.9 66.3l1.3 .3M177.2 66.6l1.1 1.2M178.3 67.8l-2 2.9M176.3 70.7l-.8-.5M176.3 70.7l.1 1.4M178.3 67.8l.5 .3M178.8 68.1M178.4 42.2l2 4.4M180.4 46.6l-2.5 .4M177.9 47l-.8-.7M184.3 42.8l-2.8 4.3M181.5 47.1l-1.1-.5M177.9 47l.4 4M178.3 51l-1 .5M179 56.7l.1 0M179.1 56.7l1.1 4.2M180.2 60.9l-.7 .9M179.5 61.8l-2.6-1.3M178.3 51l.7 0M179 51l3.4 3.9M182.4 54.9l-.1 .3M182.3 55.2l-2.2 1.4M180.1 56.6l-1 .1M179.5 61.8l.4 1.2M179.9 63l-2.7 3.6M181.5 47.1l.3 2M181.8 49.1l-2.8 1.9M178.8 68.1l1-.7M179.9 63l1.2 .5M181.1 63.5l1 1M182.1 64.5l-.2 .6M182.3 55.2l.6 1.3M182.9 56.5l1 3.6M183.9 60.1M183.9 60.1l-2.2-.3M181.7 59.8l-1.6-3.2M180.2 60.9l1.5-1.1M183.9 60.1l0 .2M183.9 60.3l-2.8 3.2M181.8 49.1l3.4 1.6M185.2 50.7l-1.8 3.6M183.4 54.3l-1 .6M184.9 42.9l1.1 7.2M186 50.1l-.5 .5M185.5 50.6l-.3 .1M182.1 64.5l1.2 0M183.9 60.3l.6 3.9M182.9 56.5l5.7 2M188.6 58.5l.3 .4M188.9 58.9l-5 1.2M183.4 54.3l4.3 2.6M187.7 56.9l.9 1.6M188.9 58.9l.6 .4M189.5 59.3l-2.4 5.3M187.1 64.6l-.9 .4M186.2 65l-.1-.1M186.2 65l-.1 .1M204.6 88.8l.5 2.6M205.1 91.4l-5.5 4.9M185.5 50.6l2.1 3.1M187.6 53.7l.1 3.2M187.1 64.6l2.1 1.8M189.2 66.4l-1.3 1.1M189.7 70.9M189.7 70.9l.1 .1M189.1 40.8l1.3 1.4M190.4 42.2l-.5 6.8M189.9 49l-.2 0M189.7 49l-3.3-6.4M191.6 37.7l2.9 1.6M194.5 39.3l-.6 5M193.9 44.3l-3.5-2.1M187.6 53.7l4.1-1.1M191.7 52.6l.6 5.6M192.3 58.2l-1.4 .9M190.9 59.1l-1.4 .2M190.9 59.1l1 3.2M191.9 62.3l-2.5 4.3M189.4 66.6l-.2-.2M189.7 49l-3.7 1.1M189.9 49l2.4 .9M192.3 49.9l-.6 2.7M189.4 66.6l.5 .6M189.9 67.2l.1 2.9M190 70.1l-.2 .4M193.9 44.3l.9 .8M194.8 45.1l-.1 1.6M194.7 46.7l-.5 2.3M194.2 49l-1.9 .9M194.2 49l.7 .4M194.9 49.4l2.1 7.1M197 56.5l-2.5 1.7M194.5 58.2l-2.2 0M191.9 62.3l1.8 3.2M193.7 65.5l0 .2M193.7 65.7l-3.8 1.5M194.5 58.2l2.6 4.1M197.1 62.3M197.1 62.3l-3.4 3.2M193.7 65.7l.1 0M193.8 65.7l-.1 .4M193.6 66.5l-.4 2.9M193.2 69.4l-1.9 .4M190.1 70.1l-.1 0M218 33.4l-5.7 2.6M212.3 36l-1.8-1.9M202.6 32.7l-.3 4.5M202.3 37.2l-.3 1M202 38.2l-2.3 1.8M199.7 40l-5.2-.7M197.1 62.3l-.5 2.6M193.9 65.8l-.1-.1M193.2 69.4l1.6 1M194.8 70.4l-1.2 1.4M193.6 71.8l-.1-.1M189.9 71l-.2-.1M193.6 72l0-.2M194.8 70.4l.9 .1M194.7 46.7l4.3-.1M199 46.6l1.3 .3M200.3 46.9l-1.8 3.3M198.5 50.2l-3.6-.8M197.1 62.3l1.3 .4M198.4 62.7l.1 .2M198.5 62.9l-.1 1.3M197 56.5l4.9-.8M201.9 55.7l-1.5 5.4M200.4 61.1l-2 1.6M199.7 40l-.9 1.6M198.8 41.6l-1.1 1.1M197.7 42.7l-2.9 2.4M212.3 36l.4 1.7M212.7 37.7l-.2 4.5M212.5 42.2l-10.2-5M202 38.2l3.4 7.6M205.4 45.8l-.5 1.3M204.9 47.1l-4.5-.3M200.4 46.8l-1.6-5.2M198.5 50.2l3.6 3.2M202.6 55.2l-.7 .5M197.7 42.7l1.3 3.9M211.6 87.7l-3.8 4.5M207.8 92.2l-2.7-.8M203.3 59.9l-.5 1M201.9 62.2l-1.5-1.1M200.4 46.8l-.1 .1M198.5 62.9l.3 .2M198.8 63.1l.5 .7M204.9 47.1l.1 .5M205 47.6l-.7 5.4M200 63.6l-1.2-.5M212.5 42.2l.3 .9M212.1 43.6l-6.7 2.2M205 47.6l6.5 1.9M211.5 56.5l-1.2 0M207.7 56.1l-1.2-.3M207.8 92.2l4.4 2.9M212.2 95.1l-.5 4.1M213.5 45.1l.6 2M212.2 95.1l.4-.1M212.6 95l4-.5M216.6 94.5l2.9 6.9M214.2 89.1l-1.6 5.9M216.4 87l-.7 0M212.7 37.7l8.8-.4M221.5 37.3l-2.2 3.6M220.7 34l1.4 2.6M222.1 36.6l0 .1M222.1 36.7l-.6 .6M226.2 34.8l-4.1 1.8M220.2 92l-3.6 2.5M222.1 36.7l1.9 2.3M224 39l.2 .7M224.7 42.6l.6 2.8M234.5 39.6l3.9-3.9M224 39l1.8 .5M227.9 40.2l1.6 .5M55.9 47.7l16.9 0 0-.3 3.6 .9 2.7 1 1.3 .7 0 1.4-.3 .7 2.4-.5 0-.4 1.5-.4 .9-.6 2.1 0 .6-.4 .3-.7 .5-.4 .7 .1 .1 1 .5 .4M59.5 58l1.4 0 2.3 .7 1.7 0 0-.3 1 0 1.2 1.4 .9 .3 .9-.5 1.2 1.5 1.4 1M55.3 49.4l3 .2 1.2 0M59.5 47.7l0 4.4M55.2 52.1l8 0M60.2 47.7l0 .9 .9 1.3 2.1 .6 0 2.2 1.2 0M63.2 50.2l4.2 0M63.2 52.7l4.2 0M67.4 47.7l0 5M57.7 52.1l0 1.8 3.3 2.5 0 1.4M61.4 52.1l0 3.1-.4 .5M61.4 55.2l11.7 0M64.4 52.7l0 6M68.6 52.7l0 2.5M68 55.2l0 3.1-2.2 0M68 55.5l1.8 0 0 1.2 3.3 .6 .3 .4 0 2M67.4 49.6l4.5 0M67.4 51.4l4.5 0M68.6 53.3l4 0M71.9 47.7l0 2.2 0 1.2 0 .6 .4 1.2 .8 .4 0 2.2 0 1.8M71.9 51.1l3.2 0M72.3 52.9l2.7 0M73.1 55.5l2.9 0M73.4 57.7l1.7 0M75.1 51.1l.4 .6-.5 1.4 1.1 2.1-.3 1.2-.6 1.3-.3 1.2 1.1 0 .1 .5M75.5 51.7l1.7 0M77.3 52.2l0 2.3M79 52.2l0 1.7M76.4 55.2l.9-.6 .9-.1 .8-.6 1.3 .4 1.2-1.4M77.3 52.2l2.5 0M76.1 55.4l4.7 0 3.5 0M75.8 56.4l3.5 0M76.9 56.4l0 2.5-.1 .4M78.5 56.4l.3 1.9 0 .6-1.5 0M78.8 58.9l1.9 .3 .3-.1M80 56.4l1.3 1.8M79.3 56.4l2.1 0 1.3 .7M80.3 54.3l.5 .7 .9-.1 1.4-1.2 .1-.2M81.6 53.5l2.8 0M81.9 52.1l2.8 0M81.6 52.1l0 1.4M85.8 50.2l0 2.5M85.8 52.1l1 0M86.4 50.2l0 1.4M87.3 50l.2 1.4M85.9 51.6l1.5 0M75.6 49.3l1.6 .6M74.4 49.1l-.2 .8 .9 1.2M57.7 40.8l0 3.9 3.7 3M63.8 40.8l0 6.9M68.6 40.8l0 6.9M45.1 40.8l27.8 0M48.1 35.2l2.4 3.2 4.8 2.4M45.1 34.9l0 5.8 2.4 .8 1.8 .6 2.4 1.4M72.8 47.7l0-2.4 3.6-2.5M82.2 46.1l0 2.8 3 1.1M68.6 40.8l0-2.4-4.8-.7-6.1-1.8 0-1.3M95.7 46.2l-4.2-.4-1.8-.3 1.8-1.2-1.8-.3 1.5-3.3M89.2 48.9l1.1-.6"/>
<path class="gr" d="M39.6 23V133.3M57.7 23V133.3M75.8 23V133.3M93.9 23V133.3M112 23V133.3M130.1 23V133.3M148.2 23V133.3M166.3 23V133.3M184.4 23V133.3M202.5 23V133.3M220.6 23V133.3M21.5 115.6H238.5M21.5 96.9H238.5M21.5 78.2H238.5M21.5 59.5H238.5M21.5 40.9H238.5"/>
<path class="co" d="M28.8 37.4l1.2-2.1 1.8-.7 3.7-.8 2.9 .3 4.3 .5 2.4 .3 3 .3 3.6-.6 1.2-.1 2.4 .4 4.2 .5 4.3 .5 2.4-.3 4.8 .4 1.8-.4 .6-2.1 2.4 2.1 3-.7 1.9 1.6-2.5 .6-.6 1.3-4.2 1.8 0 1.3 .9 1.2 2.7 .6 3.4 .7 .3 1.5 1.5 .6 .4-1.5 1.1-1.3 .3-1.8-.9-2.1 2.4 0 2.4 .8 1.2 1.6 1.8-1.1 1.8 1.7 .9 1.3 2.1 1.5 .6 .9-2.4 .9-3.6 0-2.4 1.6 3-.8 .3 1.5 2.1 .6-2.7 1.2-.9-.8-2.1 1.1 .3 .8-2.4 .8-.6 1.2-.6 1 .3 1.1-1.5 .9-1.8 1.4 .3 2.2 .3 1.5-.9 0-.8-1.2-.5-1.5-1.2 0-2.1-.2-.3 .7-.9-.1-1.8-.2-1.8 1.1-.3 2 0 1.6 .8 1.7 1 .7 2.1-.3 .3-1.5 2.1-.3-.3 1.9-.4 1.5 2.5 .2 .5 .5-.3 2.5 1.1 1.2 1.5-.3 1.2 .5 .9-.4 .3-.7 .9-.5 1.2-.7 .6 .9 .6-.7 1.2 1 2.4-.1 1.2 .1 .6 1.2 1.2 .3 1.2 1.3 1.8 .2 1.2 .5 .6 .5 .6 1.4 0 1.1 1 .6 2.4 1 2.1 .3 1.5 .4 2 1.1 .1 1.6-1.2 1.8-1.2 1.6 0 2.7-.9 1.7-.9 1.5-1.8 .5-2.1 1.4-.2 1.5-1.4 1.6-1.2 1.7-.9 .8-1.2 .8-.6 1.2-2.7 .5-.2 1-1.6 .2 .6 1-.9 1.5-1.2 .9 .9 1-1.5 1.5-.3 1.2 .3 1.3 .9 .3-1.8 .2-1.2-.8-1.5-1.2-.6-2.5 .9-2.5 .1-1.6 .2-2.8 1.1-2.5 .1-3.1 .6-2.5 .1-3.4-1-.9-2.1-1.3-.9-1.8-1.2-2.5-1.4-1.9 .5-1.2 0-1.6 .3-.9 .6-.5 .9-1.4 .1-1.9-.7-.9-.9 .8-.9-.5-1.6-.9-1-.3-.2-1-.9-.9-1.2-.3-1.5-.6-1.5-1-1.2 .2-1.2-.3-1.5-.8-1.5-.6-1.2-1.3 .2-.8-.8-.9-1.2-1.4-1.2-1.2-1.2-1.3-1.2-1.2 .6 1.2 .6 1 .9 1.5 .9 1.6-.6-.2-.9-.9-1.2-1.7-.3-1.3-1.2-1.2-.5-.8-.8-.8-1.2-.3-.9-1.4-.3-.6-.9-1.6-.1-1.7 .1-2.1-.4-1.2 1 .1-1.2-1.1-1.5-.6-1.5-2.2-1.8-1.6-1.8-.9-2.4-.8-2.4-.2-1.5-.6-2.2 0-.9 1-1.5 .6-1.5 .9-1.5 .8-2.1 .5-.9 .1 1.8-1.1 1.8-1.2-2.4-.3-1.5-1-.6-.9 .6-.7 2.1-.8-2.1-.1-1.2-.1-.9-.5zM86.1 29.6l4.2-1.5 3.6-.9 6-.4 6.1-.6 6 0 4.8 .6 2.4 1-.6 1.2-.6 1.9 .6 .9-1.8 1.3 0 1.2-2.4 1.3-3.6 .3-1.8 1.2-2.4 .3-1.2 1.6-1.2 1.8-1.8-.6-1.8-.9-1.3-1.3-1.5-1.2 .3-1.2 1.2-1-1.8-.6-1.2-1.6-1.8-1.2-4.2-.3-3-.6zM115.6 37.4l1.2-.5 3.7-.1 1.5 .8-.9 .6-2.2 .5-2.4-.2 .3-.5zM94.3 48.6l2-1.2 .3-1.3 1.5 1.4 .2 1.1-.8 .5-1.2-.5zM124.7 55.2l.1-1.3-.4-.6 .4-1.2-.3-.7 .8-.4 2.4 .1 1.5 .1 .2-1 0-.8-.8-.6-1.2-.5 1.5-.4 .3-.6 .9 .1 .9-.4 .6-.5 .9-.4 .5-.9 1.3-.3 .9-.3 0-.9-.2-.8 1.4-.6-.1 .9-.2 .8 .6 .6 1.2-.3 .8 .3 1.3-.3 1.3-.2 .9 .2 .7-.6-.1-1 1.5-.1 .3-.7-.3-.6 2.7-.1 1.2-.4-1.8-.3-2.5 .4-.8-.5-.1-1.4 2.2-1.3 .3-.3-1.8-.2-.6 .8-1.5 .7-.9 .8-.2 .9 .9 .4-.4 .7-1 1.2-.3 .5-1 .5-.9-.2-.8-1.2-.1-.8-.5-.3-1.2 .8-1.2 0-.6-.5-.3-1.3 .2-.7 1.6-.8 1.5-.7 1.2-.9 1.2-1.1 .9-.6 1.9-.8 2.7-.5 1.5-.1 1.5 .1 1.5 .3 1.2 .7 1.8 .1 2.7 .9 .3 .8-1.8 .2-2.1-.3-1.2-.3 1.4 1.5 1.3 .4 1.8-.4 2.4-.9 .3-1.5 .9 .4 2.4-.1 2.2-.3 1.5 0 1.8-.1 1.2-.7 2.4 .3 2.1 .6-.9-1.1 .9-.9 .9-1.1 .9 .3 .6 1.1 .2 1.4 .7 .8 .9-1-1.2-1.5 1.5-.4 2.4 0 .3-.9 4-.3-.3-.5 2.1-.4 4.2-.3 2.4-.3 1.8-.8 1.8 .5 1.8 .2 2.1 .5-.9 1.1 .9 .5 2.8-.2 3.6 0 2.7 .5 .6 1.1 1.2 .1 2.1-.5 3-.5 3.6 .1 3.1 .6 3.6 .2 2.4 .9 3.6 0 1.8-.3 3.6 .1 2.4 .6 0 2.4-.9 .3-.9 1.3-2.4 .6-1.8 .9-2.4 0-1.5 .2-.3 1.2-.6 1-1.2 1.4-.9 .7-1.1 1.2-.4-1.3-.3-1.9 .8-1.1 1.3-.7 1.8-1.6-1.2-.2-2.4 .2-1.2 1.4-2.4-.2-3.1 .2-1.8 .2-2.4 1.5-1.5 1.1 .9 .6 2.1 .4 .5 .7-.5 2.2-1.2 1.1-1.8 1.9-1.8 .6-1.1 .3-.6 .8-1.3 .8 .6 .9 .6 1.4-.2 .5-1.6 .5-.1-1.3 .2-.8-.8 0-.4-1.2-1.6-.4-.5 .8 .2-1.1-1.5 1-.8 .4 .6 .8 2.3 0-1.4 .8-.6 .7 .9 1.5 .7 .9-.2 .6 .3 .6-.9 1.3-.6 .9-1.2 1.1-2.2 .9-1.8 .5-.4 .6-.5-.6-.9 0-.9 .6-.5 1 .7 1.2 1.2 1.1 .3 1.7-.3 1-1.2 .3-1.1 1.1-.1-1-1.1-.4-.3-.8-1-.7-.5 .1-.5 1.7 .7 1.3 .4 .9 .8 .5 .7 1 0 1.2 .4 .7-.7 0-1-.8-.6-1.4-.1-.9-1.1-.9 0-1.3 .2-1.9-.6-2.2-1-.2-1 .5 .1-1.5-.9-.9-.6-1.3-.9-.1-1.2 .3-1.1 .3-1 1.1-1.7 1.8-1.2 .7 0 1.5-.3 1.7-.8 .8-.6 .6-.7-.9-.8-1.9-.6-1.5-.7-2.5-.1-1.4-1.3 .3-.9-1 .7-.4-1-.3-.7-.7-.5-.5-3 .1-2.5-.3-.6-.9-1.1 .3-1.9-.8-.7-1.3-1.1 0-.3 .6 1.2 1.6 .5 .6 .5-.2 0 1 1.5 .1 1.2-.9 .1-.5 .2 1.1 1.4 .7 .6 .7-.8 1.2-.5 .9-1.3 .8-2 1.2-2 1-2.4 .8-1 .1-.4-1.7-.1-1-.8-1.2-1.2-1.6-.4-1.4-.8-1.1-1.2-1.5-.3-1-.3 1.2-.4-.4-.5-1 .6 1.6 .1 .4 1 1.7 .9 1.2 .2 1.9 .8 .7 .6 1.7 1.1 .8 1.1 .9-.1 .5 .8 .7 1.8-.5 2.3-.4-.1 .9-.7 1.8-1.2 1.9-1.2 1.6-1.5 1.5-1.2 .9-.9 1-.5 .9-.2 1.3 .4 .6 .2 1.2 .4 .6 .1 2.5-1 1.3-1.3 1.1-1 1.7 .2 1.5-1.5 1-.1 .6-.2 1.2-.9 1-.6 .9-1.2 .9-1.2 .5-1.8 .2-1.8 .5-1-.4-.1-1.4-.7-1.5-1.1-1.6-.5-2.5-.9-1.5-.7-1.9 .3-2.2 .9-1.5-.3-1.6-.6-1.9 0-.6-.8-.7-1-1.8 .1-1.2 .2-1.4-.6-.8-1.1 .1-.9-.4-.6-.8-1.5 0-1.8 .7-1.2 0-1.2 0-1.5 .5-1.2-.7-1.2-.9-.9-.9-.3-.7-.9-.9-1.1-1-.5-1.4 .7-1.1 .1-1.8-.5-1 .7-1.7 .9-1.4 .9-1 1.2-.7 .7-.8 .1-1.5 1-.7 1-.9 .5-.5 .9 .4 1.2 .1 1.2-.5 1.8-.6 2.4-.1 1.7-.2 .7 .2-.3 .6 .3 .4-.6 .7 .7 .6 1.1 .3 1.4 .3 1.1 .8 1.2 .4 .6-.4 0-.8 .9-.4 .9 .2 1.2 .5 2.4 .6 1.2-.5 .8 .2 1.1 0 .5-1 .5-1.1 0-1 .2-.4-1 .1-1.2 .4-1.2-.2-1.5-.1-.4-.5-.5-.7-.1-.9 .2-.2 1.4-.4 0-.1 1.2 0 1.2-.5 1.2 0 1.8 .6 1.2 0 .9-.3 .1-.7-1-.5-1.2-.7-.3-.4 .9-1.3-1.8 .3-.3 .9 .6 0-.6 .1-.9 .5-.4-.2-.5-.5 .6-.3-1.2-.4-.6 .4-.6 .5-.5 .7-.5 .6 .1 .7 .6 .4-.6 .2-.7 .2-.4 .1-.4-.2-.9 0-.6 .2-.3 .2 .3 .4-.2 .4 .8 .5-.6 .4-.2 .6-.6-.2-.3-.6 .2-.3-.8-.8-.4-.7 0-.7-.6-.5-.9-.5-1-.4-.3-.6-.4-.2-.4-.2-.8 .2 .1 .6 .7 .5 .5 1 .9 .3 1.6 .8-.9 .5-.4 .5-.4 .3 0-.9-.5-.4-.6-.4-.9-.5-.9-.6-.4-.8-.8-.3-.9 .3-.9 .5-1.2-.3-.5 .3 0 .7-1.3 .6-.6 .7-.2 .7-.3 .7-.7 .6-1.5 0-.7 .4-.4-.5-.7-.3zM198.5 91.9l.3 2.5 .6 2.5 0 2.2 .6 .9 1.3 0 1.8-.8 1.8-.5 1.2-.4 1.8-.4 1.5-.1 1.5 .8 1.1 1.3 1-1 .2 1.4 1 .3 .6 1.3 1.8 .5 1.7 .1 1-.8 1.3-.3 .6-2 1.2-1.6 .3-2.2-.3-1.5-.9-1-.9-1-.7-1.1-1.5-1-.3-1.2-.4-1.3-1.1-.6-.6-2-.5 1.4-.1 1.9-.6 .9-.9-.4-.9-.5-1.2-.7 .8-1.6-1.1-.1-1.5-.5-.9 .5-.9 1.6-.9 .1-.6-.7-1 .4-1.1 1.3-.9 1-.6 .8-1.2 .3-1.2 .4-1.6 .6zM75.8 33.5l3-1.2 3.1 0 2.4 .8 3 .9 1.8 .6 .9 1 2.7 .9 .3 .3-1.5 .9-.6 1 .3 .6-.9 .3-1.2-.5-1.8-.4-1.5-.5-2.4 0-.3-.8 1.8-.3 1.2-.6-.3-.6-1.8-.7-1.5-.6-3.1 0-2.4-.1-.6-.5zM74.6 30.6l1.8 .1 4.3 .1 2.4-.2 1.2-.8 1.8-.5 1.8-.7 3-.5 1.8-.7-1.2-.6-3.6-.3-4.8 0-4.9 .5-3.6 .6 1.2 .6 1.8 .6 .6 .5-2.4 .6zM71.6 28.3l3-.7 2.4 .4 .6 .8-2.4 .7-2.4-.2zM66.2 29.3l3-.5 1.8 .3-1.2 .7-2.4 0zM72.2 31.1l2.4 .7 5.5 0 1.8-.2-.6-.8-3.1-.2-3.6-.1-2.4 .2zM69.2 30.9l2.4-.2 .6 .8-1.8 .2zM59.5 31.4l1.9-.8 3.6-.1 2.4 .5-1.2 .5-2.4 .1zM55.3 30.7l3-.8 1.9 .5-2.5 .6zM54.4 33.4l.6-1.3 2.4-.3 3.1 .6-1.3 .7-2.1 .7zM58.3 33.7l.9-.8 2.2-.3 3.6 0 2.1 .3 2.1 .9 0 .8-1.2 .6-2.4 .2-3.6 .3-2.8-.5-.6-.9zM68.6 32.8l1.8-.6 1.5 .6-.3 .8-1.8-.1zM72.2 32.3l3-.2 .6 .7-2.1 .6zM69.8 35.2l2.1-.4 .6 .6-1.8 .2zM77.6 38l2.1-.8 1.6 1.2-1.9 .8-1.2-.5zM80.1 39.1l1.2 .2-.6 .2zM78.9 64.6l1.8-.8 1.2 .1 1.8 .9 1.7 .8-2 .2-.3-.5-1.8-.5-1.2 0zM85.2 65.9l1.8-.1 1.9 .8-1 .3-.9 .3-1.8-.5zM82.9 66.7l1.3 .3-.8 .1zM89.6 66.7l.9 .1-.2 .2zM83.1 61.6l.6 .4-.5 .9-.3-.6zM126.7 47l1.6-.3 2.6-.3 .2-1-.9-.5-.4-.6-.7-.7-.3-1.1 .2-.2-1.3 0 .5-.6-1.1 0-.7 .7 .3 .9 .5 .2-.1 .6 1.1-.1 0 .6-.9 .4 .3 .6-.6 .4 1.1 .2-.7 .2zM126.5 45.7l-.1-1 .3-.5-.9-.4-.8 .3-.9 .4 .2 .7-.4 .8 1.4 .1zM135.3 52.7l.6 0 0 1.1-.7 .1 0-.6zM135.3 51.7l.5-.2 0 .9-.5-.1zM137.6 54.5l1.9-.1-.3 1-1.6-.6zM144.3 56.2l1.6 .1-1 .2zM149.6 56.4l1.4-.4-.5 .7zM178.3 72.1l1.2 1.4-.8 1-.5-1.4zM208.6 57.3l1-.7 1-.5 1.5-.1 .9-.8 1.2-.8 .3-1.4 .9-.5 .3 1.1-.6 .9-.1 1.3-.6 .6-.8 .3-.9 0-.9 .6-1.5 0-.8 1.3-.8 .2-.3-1zM214.5 52.4l.9-.7 1.2 .4 1.2-.9-.6-.4-1.6-.9-.2 1.2-.6 .3zM215.7 49.6l.9-.3-.3-1.6 .9 0-.9-1.6 0-1.5-.3-.2-.2 2.1-.2 1.5zM202.9 64.5l.7-1.9-.5-.1-.6 1.1zM195.6 66.2l1.1-.5 .3 .3-.8 .9zM202.8 66.7l1 0-.1 1.5 1.1 1.4 .1 .8-1.5-.8-.6-.3-.5-1.3zM203.7 73.8l1.2-.6 .9-1.1 .6 1.7-.7 .9-1.1-1.2zM203.7 71l.6 1 1.2-.6 0-1-.9 0zM195.8 77.3l.6-.2 .6-.5 1.2-.4 1.5-1.3 1-1.1 1.2 1.2-.6 .5-.3 1.5 .8 .6-.8 .6-.7 1.2-.3 1.2-.9 .1-2.1-.6-.4-.3-.8-1zM187.6 74.8l1.3 .2 1.7 1.6 1.9 1.3 .6 1.2 .9 1-.1 1.7-.8 .1-1.5-1.2-.9-1.8-1.1-1.8-1.3-1.2zM193.5 82.4l.8-.5 1.2 .5 1.5-.2 1.1 .4 1 .5-1.5 .3-2.4-.3-1.2-.3zM199.1 83.2l.9 .4 1.9-.1 .6 .2 1.7-.4-2.9-.1zM204.6 84.6l.9-1 1.4-.2-1.7 1zM202 81.6l.7 .1 .1-1.6 .3-.3 .9 1.2 .4-2.2-1.3 0 .6-1.1 1.9-.4-.4 .7-2.7-.2-.3 .7-.5 1.4zM207 77.1l.6 .2-.3 .9-.4 .3zM206.4 80.1l.9 .5 1.2-.2-.6-.5zM209.1 78.8l.9-.4 1.2 .5 .6 1.4 1.5-1 1.8 .5 2.4 .9 .5 .9 1 .5 .5 1.4 1.1 1.1-1.6-.2-.9-1.2-1.2-.3-.6 .9-1.2 .1-1.2-.7-.7-1.6-1.7-.8-1.2-.1-.6-.7 .9-.4zM220.6 81.6l1.2-.8 .3 .4-.6 .6zM223.6 81.9l.5 .5 .7 1.1 1.2 .3 1.1 .5 .4 .4zM159.8 85.7l.8 2.1-.7 1-.6 2.2-.7 2.6-1.4 .4-.8-1.2-.2-1.2 .6-1-.2-1.5 .6-.9 1.2-.5 .6-1.1zM136.7 29.1l3 1.5 3.4-.5 3.3-1.4-3-.5-3 .2-3.7 .1zM161.5 33.7l2.4 .5 1.2-.1-1.5-1 1.5-1.3 3.6-.8 2.7-.6-1.5-.1-4.2 .6-1.8 .9-1.5 1zM187.4 28.7l3 .6 2.4-.4-2.4-1.1-3 .2zM212.7 31.5l3-.3 2.4 .2 2.5-.1-2.5-.5-3.6 .1zM158.4 28.1l4.9-.6 4.8 .4-3.6 .5zM233.8 99.6l1.2 .5 1.2 1.4 1.5 .2-.6 .9-.4 .8-1.1 .7-.2-1.1-.5-.4 .5-1.4-1-1.2zM234.3 103.5l.9 .5-.6 1-.3 .5-1.1 .6-.6 .7-.9 .4-1.2-.4 .9-1.1 1.8-1.4zM229 90.8l.9 .5 .9 .8-.3-.1zM237 89.1l.7 0-.1 .4-.5 0zM171.6 108.5l.9 .2-.5 .4zM217.5 103.5l2 .2-.2 1.4-.9 .2-.7-.8zM93 109.9l2.1 .2-.9 .7-.9-.2zM163.4 91.2l.3 .3zM164.7 90.6l.3 .3zM119.5 60.5l2.5-.4zM211.1 81.9l.3-.3-.2 .8zM87.9 111.2l.9 0-.3 .6zM31.8 127.4l3 .3-1.8 .5zM84.9 123l3-.3-1.2 .9zM36 65.6l.6 .5-.4 .3M33.7 64.4l.3 .1M34.7 64.8l.3 .1M24 45.8l2.4-.3 2.4-.6 1.2-.3M21.6 46l1.8 0M37.8 42.2l.6 .3-1.2 .3M21.6 35.3l2.4-.5 2.4-.1 1.2 .1-.3 .8-.9 1 1.4 .5-1.1 .4-.9 .7-1.8-.4-1.5-.4-.9 .3M21.6 33.7l1.2 .2 .3 0-1.5 .2M237.7 33.9l.9-.2 0 .4M21.6 130l7.2 0 3-.8 3-.3 1.8-.6 3-.3 1.9-1.6 1.2-.9 3-.5 6-.7 6-.3 6.1 0 3-.7 3-.6 3 0 6 0 4.3-.3 2.4-.6 2.4-1.3 2.4-1.2 1.8-.9 2.4-1 1.2 .2-.6 .8-1.8 .9-.6 1.2-.6 1.3 .6 1.2 0 1.3-2.4 1.2-2.4 .6-1.2 .7 3.6 .6 4.8 .6 4.8 .9 6.1-.6 4.2-1.2 1.8-1 3-.9 4.2-1.6 4.9-1.2 3-.3 3-.9 6 .3 6.1 0 6-.7 1.8-.9 4.2 .6 6-.9 3.1-.6 3 .9 3.6 .5 1.2 1.4 1.2 .6 1.2-.9 2.4-.3 2.4-1.6 4.9-.3 4.2-.3 3 0 3 0 3 0 3 .3 3.1-.3 6 0 6 0 3 .3 3.1 .3 4.8 .6 4.2 1.9 3.6 .6-.6 .9-2.4 1.9-1.8 1.3 3 .9 4.2 1.5 3 .8M158.4 50.2l1.2-1 1.6-.3 .9 1-.9 .6-.2 .8 .9 .8 .2 .9 .6 1.2-.2 1-1.6 .2-1.3-.6 .3-1.6-.9-1.1-.3-1z"/>
<rect x="21.5" y="23.0" width="217.0" height="110.3" class="frame"/>
<text transform="translate(39.65 18.80) scale(1 1.14)" class="tk" text-anchor="middle">150°W</text>
<text transform="translate(39.65 140.80) scale(1 1.14)" class="tk" text-anchor="middle">150°W</text>
<text transform="translate(75.83 18.80) scale(1 1.14)" class="tk" text-anchor="middle">90°W</text>
<text transform="translate(75.83 140.80) scale(1 1.14)" class="tk" text-anchor="middle">90°W</text>
<text transform="translate(93.92 18.80) scale(1 1.14)" class="tk" text-anchor="middle">60°W</text>
<text transform="translate(93.92 140.80) scale(1 1.14)" class="tk" text-anchor="middle">60°W</text>
<text transform="translate(112.01 18.80) scale(1 1.14)" class="tk" text-anchor="middle">30°W</text>
<text transform="translate(112.01 140.80) scale(1 1.14)" class="tk" text-anchor="middle">30°W</text>
<text transform="translate(130.10 18.80) scale(1 1.14)" class="tk" text-anchor="middle">0°</text>
<text transform="translate(130.10 140.80) scale(1 1.14)" class="tk" text-anchor="middle">0°</text>
<text transform="translate(148.19 18.80) scale(1 1.14)" class="tk" text-anchor="middle">30°E</text>
<text transform="translate(148.19 140.80) scale(1 1.14)" class="tk" text-anchor="middle">30°E</text>
<text transform="translate(166.28 18.80) scale(1 1.14)" class="tk" text-anchor="middle">60°E</text>
<text transform="translate(166.28 140.80) scale(1 1.14)" class="tk" text-anchor="middle">60°E</text>
<text transform="translate(184.37 18.80) scale(1 1.14)" class="tk" text-anchor="middle">90°E</text>
<text transform="translate(184.37 140.80) scale(1 1.14)" class="tk" text-anchor="middle">90°E</text>
<text transform="translate(202.46 18.80) scale(1 1.14)" class="tk" text-anchor="middle">120°E</text>
<text transform="translate(202.46 140.80) scale(1 1.14)" class="tk" text-anchor="middle">120°E</text>
<text transform="translate(220.55 18.80) scale(1 1.14)" class="tk" text-anchor="middle">150°E</text>
<text transform="translate(220.55 140.80) scale(1 1.14)" class="tk" text-anchor="middle">150°E</text>
<rect x="53.9" y="152.4" width="152.3" height="8.1" fill="url(#cbg)"/>
<rect x="53.9" y="152.4" width="152.3" height="8.1" class="cbf"/>
<path d="M57.53 160.5v2" class="tick"/>
<text transform="translate(57.53 169.20) scale(1 1.14)" class="tk" text-anchor="middle">−8</text>
<path d="M75.66 160.5v2" class="tick"/>
<text transform="translate(75.66 169.20) scale(1 1.14)" class="tk" text-anchor="middle">−6</text>
<path d="M93.79 160.5v2" class="tick"/>
<text transform="translate(93.79 169.20) scale(1 1.14)" class="tk" text-anchor="middle">−4</text>
<path d="M111.92 160.5v2" class="tick"/>
<text transform="translate(111.92 169.20) scale(1 1.14)" class="tk" text-anchor="middle">−2</text>
<path d="M130.05 160.5v2" class="tick"/>
<text transform="translate(130.05 169.20) scale(1 1.14)" class="tk" text-anchor="middle">0</text>
<path d="M148.18 160.5v2" class="tick"/>
<text transform="translate(148.18 169.20) scale(1 1.14)" class="tk" text-anchor="middle">2</text>
<path d="M166.31 160.5v2" class="tick"/>
<text transform="translate(166.31 169.20) scale(1 1.14)" class="tk" text-anchor="middle">4</text>
<path d="M184.44 160.5v2" class="tick"/>
<text transform="translate(184.44 169.20) scale(1 1.14)" class="tk" text-anchor="middle">6</text>
<path d="M202.57 160.5v2" class="tick"/>
<text transform="translate(202.57 169.20) scale(1 1.14)" class="tk" text-anchor="middle">8</text>
<text transform="translate(74.14 177.40) scale(1 1.14)" class="cap">annual mean of DRE</text><text transform="translate(138.22 174.60) scale(1 1.14)" class="ss">dustA</text><text transform="translate(138.22 178.60) scale(1 1.14)" class="ss">sw</text><text transform="translate(150.58 178.00) scale(1 1.14)" class="cap">|</text><text transform="translate(153.42 178.50) scale(1 1.14)" class="ss">toa</text><text transform="translate(161.89 177.40) scale(1 1.14)" class="cap">[W m</text><text transform="translate(178.15 174.40) scale(1 1.14)" class="ss2">−2</text><text transform="translate(182.85 177.40) scale(1 1.14)" class="cap">]</text>
</g>
<g transform="translate(240,0)">
<text transform="translate(10.80 13.90) scale(1 1.14)" class="let">b)</text>
<g clip-path="url(#mapclip)">
<path fill="#e5e5ff" d="M89.4 109.4l1.8 .2 2.7-.6 2.7 .4 1.8-.1 1-.3 .8-.9-.1-1-.6-.9-1.1-.8-3.6-1.5-2.7-2.8-1.8-.7-.9 .2-1.3 .9-1 1.9-.2 .9 .4 2.8 1.2 1.7zM207.9 96.9l1.8 .3 1.8-.1 2.7-.8 1.5-1.3 .4-.9-.1-1-.5-.9-1.2-.9-1.9-.7-2.7-.3-2.7 .6-1.9 1.3-.5 .9-.1 1 .4 .9 .9 .9zM122.9 73.5l10.8 .5 9.1-.1 8.1-.8 6.3-1.2 5.5-1.6 1.8-.8 5.4-3.7 .9-.4 3.6-.2 1.8-.5 4.6-3.3 1.8-.6 12.6-1.3 7.3-.3 2.7-.6 1.8-.9 2.2-1.9 .8-1.9-.2-.9-1.6-3.7-1.2-1.6-1.8-.9-4.5-.8-19-2-3.7-.1-3.6 .1-19 1.9-4.5 1.1-1.7 1.3-.4 1-.4 2.8 .1 4.6 .2 1.9 1.3 3.7 .1 1.9-1 1.9-1.8 1.9-.9 .6-1.8 .3-5.5-.1-4.5 .3-9-.6-.9-.4-.9-.8-1.8-3.6-.9-.8-1.9-.4-.9 .2-2.7 1.5-8.1-.6-3.6 .2-3.6 .7-2.8 .9-1.8 .9-1.6 1.6-.2 1 .3 .9 1.5 1.3 1.8 .8 2.8 .6 5.4 .6zM73.1 59.6l1.8 .1 2.7-.6 1.8-1 1.3-1.4 .6-1.8-.3-1.9-1.4-1.9-1.1-.7-2.7-.9-2.7 0-2.7 1.1-1.6 1.5-.8 1.8 .2 1.9 .4 .9 1.8 1.8z"/>
<path fill="#ffe5e5" d="M132.8 67.2l.9 .5 1.8 .2 1.8-.9 .4-.9-.7-1-.6-.4-.9-.2-1.8 .1-.9 .5-.7 1zM125.6 66.6l1.8 .3 1.8-.5 .5-.3 .3-1-.3-.9-1.4-.9-.9-.2-1.8 .3-1 .8-.2 .9 .5 1zM140 64.4l1 .5 1.8 .1 1.5-.8 .4-.9-.4-1-.6-.5-.9-.3-1.8 .1-1.1 .7-.4 1z"/>
<path fill="#cdcdff" d="M89.4 108.3l1.8 .3 2.7-.9 2.7 0 .9-.6-.8-.9-1.9-.7-.9-.8-1.8-2.4-.9-.6-.9-.2-.9 .2-.9 .8-.8 1.8 .1 1.9 .7 1.3zM208.8 95.3l1.8 .2 1.8-.5 .9-.9-.2-1-1.6-1-2.7 .1-1.3 .9-.2 1 .9 .9zM131 72.6l8.1 .1 7.3-.7 1.8-.6 3.4-2.5 2-1 1.8-.4 2.3 .4 2.2 1.4 2.8 0 2.7-1.1 4.4-3.1 4.6-1 1.8-.8 1.6-1.9 2-3.2 1-.5 2.7-.5 8.1 .2 8.1-.2 3.7-.4 1.8-.4 1.8-1.1 .8-1.4-.1-.9-.7-1.3-1.8-1.7-1.8-.6-3.7-.6-23.5-1.8-9.9 .3-9.1 1-3.8 1-1.1 .9-.5 .9-.1 1.9 .3 2.8 .7 1.8 1.7 1.9 .3 1-.5 .9-6.9 7.9-1.8 1-7.3-.3-12.6 .1-1.8-.9-1.4-4.1-.7-.9-.6-.6-1.9-.5-.9 .3-2.7 1.7-7.2-.6-3.6 .2-2.7 .6-2.5 .8-1.6 .9-.8 .9-.2 1 .5 .9 1.5 .9 4.9 1.1 15.3 .7 5.5-.4zM164.4 60.5l-.9-1 .1-1 1.8-.3 .9 .3-.2 1zM73.1 56.9l.9 .3 1.8-.2 .9-.3 .9-.9 .4-.9 0-1-.6-.9-1.5-.9-1-.2-1.8 .2-1.3 .9-.5 .9-.1 1 .4 .9z"/>
<path fill="#ffcdcd" d="M133.7 67.1l1.8 .2 .7-.3 .4-.9-1.1-.8-.9-.1-1.3 .9zM126.5 66.3l.9 .1 1-.3 .6-1-.5-.9-1.1-.4-1.6 .4-.6 .9zM141.9 64.3l.9-.1 .9-.9-.9-1-1.3 0-.9 1 .4 .5z"/>
<path fill="#b5b5ff" d="M89.4 107.5l.9 .4 .9-.1 1.3-.7 .8-.9-.1-.9-1-1.9-1-.9-.9-.3-.9 .4-.7 .8-.4 .9 .2 1.9zM117.4 71.7l1.8 .1 1.9-.3 1.3-.8 .3-.9-.3-3.7-1.2-1.9-1-.6-1.9 .2-2.7 1.9-6.3-.6-5.4 .6-2.7 .9-1.7 1.3-.1 1 .9 .9 2.7 .9 6.3 .8zM149.1 69.1l2.7-.8 3.6-1.9 3.6-2.7 1.2 .5-.6 2.8 .4 .9 .9 .7 .9 .2 2.7-.5 1.8-1 2.8-2.2 5.6-1.8 1-1 .4-.9 .2-1.9-1-1.3-.9-.4-1.8-.1-1.8 .5-6.3 3-.9 0-2.7-2.5-1.9-.7-.9 .1-.6 .5-.2 1.9-.6 .9-2.2 1.1-3.6 3.1-1.9 2.3-.2 1zM192.5 55.9l6.3 .1 4.6-.6 1.8-.8 .6-.7-.1-.9-.9-.9-1.4-.7-3.7-.8-13.5-.7-13.6-1.3-5.4 0-3.6 .4-3.7 1.2-.8 .9 0 1 .8 .9 1.9 1 2.7 .7 7.2 .5 6.3-.7 3.7-.1z"/>
<path fill="#ffb5b5" d="M126.5 65.4l.9 .2 .6-.5-.6-.5-.9 .2-.3 .3z"/>
<path fill="#9d9dff" d="M90.3 107.2l.9-.1 .9-.8 .3-1-1-1.9-1.1-.4-.9 .4-.5 .9-.1 1 .6 1.3zM108.4 70.8l11.8 .4 1-.5 .8-.9 .4-1.9-.3-1.8-1-1.7-.9-.5-1-.1-.9 .4-2.7 2.2-5.4-.7-3.6 .1-3.6 1-1.5 1.1 0 1 1.4 .9zM150 68.2l.9 0 3.6-1.8 2.7-2.2 .9-1.6 .9-.1 1.5 .8 .7 .9-.8 2.8 .5 .9 .9 .5 1.8-.1 1.8-.7 3.6-2.6 4.7-1.7 .9-1-.2-1.7-.9-.9-2.7-.1-2.7 .5-4.5 1.7-2.7-2.4-1.9-.4-.7 .5-.4 1.9-.7 .6-2.7 1.1-1.8 1.3-2.5 2.6-.4 .9zM192.5 55l4.5 .2 3.7-.3 2.5-1 0-.9-1.8-.9-3.5-.8-13.5-.4-11.8-1.4-6.3 .2-2.2 .5-1.5 .9 0 1 1.1 .9 3.5 .9 4.5 .1 10-.8 3.6 .3z"/>
<path fill="#8585ff" d="M90.3 106.4l.9-.2 .4-.9-.4-1.1-.9-.4-.7 .5-.2 1zM118.3 70.8l1.9-.1 .9-.4 .8-1.4 .2-1-.2-1.8-.8-1.3-.9-.6-1-.1-.9 .3-1.8 2-.9 .6-4.5-.8-2.7 0-3.6 .7-1.4 1 .2 1 3 1.1 4.5 .5 5.4-.2zM162.7 68.1l2.7-.8 4.5-3 3-1 .8-1-.4-.9-.7-.5-1.8-.6-1.8 0-2.7 .7-2.7 1.3-.9-.2-1.8-2.1-1-.4-.9 .3-.2 .6 0 .9 2.8 1.9 .2 .3 0 .6-.7 1.9-.1 .9 .8 .9zM150.9 67.5l1.8-.4 1.7-1 2.1-1.9 .4-.9-.6-.4-.9 .2-1.8 .9-2.3 2.1-.7 .9zM191.6 54l3.6 .4 2.7-.1 1.8-.4 .4-.9-3.1-.9-3.6-.2-3.6 .2-1.2 .9zM168.1 53l4.5 0 5.1-.9-.3-1-4.8-.8-3.6 0-3.3 .8-.2 1z"/>
<path fill="#6d6dff" d="M109.3 69.8l3.6 .1 2.7-.6 2.7 1.1 1.9 0 .9-.6 .6-.9 .2-1-.2-1.8-.6-1-.9-.7-1-.1-1.4 .8-2.2 2.7-3.6-.9-2.7-.2-2.3 .3-1.7 .9 .5 1zM151.8 67.1l2.1-1 2-1.9-.5-.5-.9 .2-1.8 1.2-1 1-.2 .9zM161.8 67.3l.9 .5 1.8-.3 1.8-.9 3.4-2.4 2.6-.9 .8-1-.8-.9-1.5-.7-2.7 0-1.8 .5-3.6 2.1-1.2 2.8 0 .9zM159.9 61.6l1 .5 .5-.7-.5-.7-1-.4-.2 .2 0 .9z"/>
<path fill="#5555ff" d="M118.3 70.1l1.9 0 1.2-1.2 .3-1-.2-1.8-1.3-1.5-1-.1-.9 .4-1.5 2.1-.1 1.9zM108.4 68.9l2.7 .3 2.4-.3-.4-1-2.9-.5-2.6 .5zM162.7 67.5l.9 0 1.8-.6 3.6-2.5 2.8-1.1 .7-1-1-.9-1.6-.6-1.8 0-2.7 1.1-2.1 1.4-1.2 1.8-.3 1 .1 .9zM153.6 65.7l1-.6-.1-.4-1.3 .4z"/>
<path fill="#3d3dff" d="M119.2 70l1-.2 .9-.8 .4-1.1 0-.9-.2-.9-.8-1-1.3-.4-.9 .5-.7 .9-.7 1.8 .5 1.2 .9 .7zM162.7 67.2l.9 .1 1.8-.6 3.6-2.5 2.4-.9 .7-1-1.2-.9-1-.4-1.8 0-1.8 .6-2.6 1.7-.8 .9-.8 1.9z"/>
<path fill="#2525ff" d="M118.3 69.5l.9 .2 1-.1 .9-1 .3-1.6-.3-1-.9-.9-1-.2-.9 .5-.9 1.6-.1 .9 .3 1zM163.6 67.1l1.8-.5 3.3-2.4 2.3-.9 .7-1-1.3-.9-1.4-.3-2.7 .6-2.3 1.6-1.4 1.8-.2 1 .3 .6z"/>
<path fill="#0d0dff" d="M118.3 69.2l.9 .3 1-.2 .9-1.2 0-1.6-.9-1.2-1-.2-1.2 1-.5 1.8zM162.7 66.1l.9 .7 1.8-.4 3.1-2.2 2.1-.9 .8-1-1.5-.9-.9-.1-2.7 .6-2.9 2.3z"/>
<path fill="#0000f4" d="M118.3 68.9l.9 .4 1-.2 .8-1.2 0-.9-.3-.9-.5-.6-1-.2-1 .8-.4 .9 0 .9zM163.6 66.6l1.8-.4 2.9-2 2-.9 .7-1-1.1-.7-.9-.2-2.7 .6-1.7 1.3-1.5 1.8-.1 1z"/>
<path fill="#0000e4" d="M119.2 69.1l1-.3 .6-.9 .1-.9-.7-1.3-1-.2-.8 .6-.4 .9 0 .9 .3 .6zM163.6 66.3l.9 .1 .9-.3 2.7-1.9 1.9-.9 .7-1-1.7-.7-1.8 .2-.9 .3-2.4 2.1-.6 .9 0 1z"/>
<path fill="#0000d3" d="M118.3 68.2l.9 .6 1-.3 .4-.6 .1-.9-.5-1.1-1-.2-.5 .4-.6 .9zM164.5 66.2l.9-.3 2.7-1.9 1.6-.7 .7-1-1.4-.6-.9 0-1.9 .6-2.1 1.9-.6 .9 .2 1z"/>
<path fill="#0000c2" d="M119.2 68.6l1-.3 .3-1.3-.3-.9-1-.2-.9 1.1 .1 .9zM164.5 66l1.8-.8 3.1-1.9 .7-1-1.1-.4-.9-.1-1.6 .5-2.2 1.9-.5 .9z"/>
<path fill="#0000b1" d="M119.2 68.3l1-.3 .2-1-.2-.5-1-.4-.6 .9 .1 .9zM164.5 65.7l1.6-.6 3-1.8 .7-1-1.7-.4-1.4 .4-2.1 1.9-.5 .9z"/>
<path fill="#0000a0" d="M119.2 68.1l.5-.2 .5-.9-1-.6-.4 .6zM164.5 65.3l1.3-.2 3-1.8 .6-1-1.3-.2-1.1 .2-2.1 1.9-.6 .9z"/>
<path fill="#000090" d="M165.4 65.1l3.1-1.8 .6-1-1.8 0-1 .7-1.2 1.2z"/>
<path fill="#00007f" d="M166.3 64.2l1.9-.9 0-1-1.9 1-.5 .9z"/>
</g>
<path class="bd" d="M61.4 60.1l.2 .1M63.2 62.8l0 .2M65 58.3l-.4 1.1M64.6 59.4l-1 1.4M64.6 59.4l4.9 3.6M69.5 63l-.2 .7M69.3 63.7l-2.6 .6M85.6 106l.1 .2M85.7 106.2l-.3 .3M68.7 58.3l1.2 4.3M69.9 62.6l-.4 .4M69.9 62.6l1.3-.6M72.4 66.8l-1 .8M71.4 67.6l-1.4-2.3M70 65.3l-.7-1.6M70 65.3l-2.3 1.1M71.4 67.6l-.1 .4M71.8 58.3l.9 1.6M74.9 58.3l-.9 1.3M75.7 65.7l.3 .2M76 65.9l-1.5 2.9M75.9 69.3l-.2 0M76 65.9l.5 .3M76.5 66.2l.4 1.2M76.7 68.4l-.8 .9M75.9 69.3l.1 .2M77.2 65.7l-.7 .5M126.1 56.9l2.3 4M128.4 60.9l-4-1.3M79.6 69.5l-.6 .3M79 69.8l-1-1.3M79 69.8l0 .1M79 69.9l-1 .5M79 69.9l.2 .4M79.2 70.3l-.7 1M79.5 70.7l-.3-.4M80.1 72.4M82 72.6l.4 .3M83.7 74.4l.2 .3M83.9 74.7l-.2 .2M81.8 79.7l3.4 .6M85.2 80.3l-.7 4M84.5 84.3l-1.1 .2M84.8 71.8l-.5 2.8M84.3 74.6l-.4 .1M87.2 98.2l1 4.7M88.2 102.9l-.6 1.8M87.6 104.7l-1.2 1.5M86.4 106.2l-.7 0M92.2 71.9l.4 4M92.6 75.9l-1.7 1.9M90.9 77.8l-1.3 0M89.6 77.8l-3.5-2.6M86.1 75.2l1.5-3.8M99 75.7l-3.7 .4M95.3 76.1l-2.7-.2M86.1 75.2l-1.8-.6M87.5 94.4l.3 1.3M87.8 95.7l-.6 .7M84.5 84.3l2.3 .7M86.8 85l.6 .7M87.4 85.7l-2.8 1.4M89.6 77.8l-2 1.7M87.6 79.5l-2.4 .8M87.6 79.5l-.8 5.5M87.4 85.7l.4 .3M87.8 86l.4 .6M88.2 86.6l-1.3 2.1M88.2 86.6l.6 .1M88.8 86.7l1.4 4.5M90.2 91.2l-2.4 2.1M90.9 77.8l.6 1.9M91.5 79.7l-3.7 6.3M86.4 106.2l2.9 2.5M95.3 76.1l2 6.6M97.3 82.7l-.2 .4M97.1 83.1l-2.5 1.7M94.6 84.8l-3.1-5.1M94.6 84.8l-.1 1.2M94.5 86l-.2 .3M94.3 86.3l-5.5 .4M87.8 95.7l4.3 1.4M92.1 97.1l1 1.8M93.1 98.9l-4.9 4M90.2 91.2l.7-.1M90.9 91.1l2.7 3.3M93.6 94.4l0 .2M93.6 94.6l-1.5 2.5M93.1 98.9l1.1 .9M94.2 99.8l.1 2.1M90.9 104.2l-3.3 .5M94.3 86.3M94.3 86.3l-3.1 4.5M91.2 90.8l-.3 .3M94.5 86l6.6 1.6M101.1 87.6l.1 .1M101.2 87.7l0 1.6M101.2 89.3l-4 1.7M97.2 91l-1.6-1.3M95.6 89.7l-1.3-3.4M91.2 90.8l3 1.1M94.2 91.9l-.6 2.5M94.2 91.9l1.4-2.2M97.2 91l.6 3.1M97.8 94.1l-4.2 .5M97.8 94.1l1.7 1.5M99.5 95.6l.3 .5M99.8 96.1l-.4 1M98.2 98.7l-4 1.1M97.1 83.1l3 .7M100.1 83.8l1 3.8M100.1 78.6l-2.8 4.1M101.2 79.2l.4 3.4M101.6 82.6l-1.5 1.2M105.1 80.3l1 1.3M106.1 81.6l-.5 3.2M105.6 84.8M105.6 84.8l-4-2.2M101.2 89.3l.4 .5M101.6 89.8l-2.1 5.8M101.6 89.8l2.6 1.4M104.2 91.2l0 .2M104.2 91.4l.2 1M100.3 96l-.5 .1M105.6 84.8l-4.4 2.9M105.6 84.8l1.3 1M106.3 87.9l-2.1 3.3M124.9 44.4l.4 .3M125.3 44.7l.1 1.1M105.3 91.2l-1.1 .2M106.1 81.6l1.2-.6M128.4 60.9l.1 .1M128.5 61l-8.2 7.2M123.2 73.6l3.4 1.2M126.6 74.8l.1 0M119.9 69l10-1.3M129.9 67.7l-.2 3M129.7 70.7l-3.1 4.1M124.9 51.7l1.7 .3M126.6 52l-.2 .9M126.4 52.9l-1 1.9M127.2 51.3l0 .1M127.2 51.4l-.1 .2M127.1 51.6l-.3 .1M126.8 51.7l-.3-.4M128.5 61l3.6 0M132.1 61l-2.2 6.7M126.8 51.7l-.2 .3M126.4 52.9l3 1.8M130.3 56l2.2 4.9M132.5 60.9l-.4 .1M125.3 44.7l.1 0M125.4 44.7l.7 .2M127.7 45.4l.5 .1M128.2 45.5l-.1 .4M128 46.5M127.3 42l-.4 1.2M126 44.2l-.6 .5M129.5 44.3l-1.2 1.1M128.3 45.4l-.3-.4M128.3 45.4l-.1 .1M127.1 51.6l2.6 1M129.7 52.6l.1 1.1M129.1 48l.1 0M129.2 48l.7 1.6M129.9 49.6l-.3 .2M127.3 51.3l-.1 .1M129.7 47.7l-.5 .3M129.7 52.6l1.4-1.2M131.1 51.4l.4 .7M133.9 55.4l0 .1M133.9 55.5l-.1 4.1M133.8 59.6l-.2 1.2M133.6 60.8l-1.1 .1M129.9 49.6l1.4 .7M131.3 50.3l-.2 1.1M131.8 46.7l.4 .3M132.2 47l.2 2.5M132.4 49.5l-.2 .2M132.2 49.7l-.9 .6M133.6 60.8l5.8 2.9M139.4 63.7l-2.2 6M137.2 69.7l-7.5 1M141.4 98.5l0 .1M141.4 98.6l.2 .8M137.2 69.7l-.2 5.3M137 75l-.8 1.2M132.2 49.7l1 1.3M133.2 51M133.9 55.4l0 .1M134.4 39.3l-.1 .5M134.3 39.8l-.9 .6M136.9 51.5l.7 .1M137.6 51.6l.6 .6M138.2 52.2l0 .1M136.3 56l-2.5 3.6M134.3 39.8l.8 1.4M135.1 41.2l-.5 .6M136.1 47.9l.3 .4M136.4 48.3l-1 1.1M135.4 49.4l-.9-.2M134.5 49.2l-.3-2.1M134.2 47.1l1.9 .8M136.1 47.9l-.9-1.9M135.2 46l.1-.1M135.3 45.9l.8-1M136.1 44.9l1.6 .9M137.7 45.8l.5 1.3M138.2 47.1l.1 .6M138.3 47.7l-1.9 .6M132.2 47l.9-.4M133.1 46.6l1 .2M134.1 46.8l.1 .3M134.5 49.2l-2.1 .3M133.5 45.3l-.4 1.3M133.2 51l.6 .1M134 45.2l1.3 .7M135.2 46l-1.1 .8M135.4 49.4l.2 .9M136.6 38.2l0 .6M136.6 38.8l-1-.1M136.6 38.8l.1 0M136.7 38.8l0 2M136.7 40.8l-.1 .2M136 41.2l-.9 0M135.5 44.3l.6 .4M136.1 44.7l0 .2M138.3 47.7l.7 .6M139 48.3l-.5 1.3M137.8 51.1l-.2 .5M148.3 97.2l.3-1.4M148.6 95.8l1-.9M157.3 88.6l2.7-.3M141.4 98.6l2.3-7.5M143.7 91.1l4-1.6M147.7 89.5l.9 6.3M140.9 59.4l.7 2.3M141.6 61.7l-1.3 1.8M140.3 63.5l-.9 .2M136.2 44.4l-.1 .3M144.9 34.3l0 .1M144.9 34.4l-1.1 2.6M141.1 38.8l-1.1-.3M140 38.5l-.3-.4M139.7 38.1l-.2-2.3M139.7 38.1l-3 .7M136.7 40.8l1.7 .3M138.4 41.1l.3 .7M138.7 41.8l-.9 1.3M137.8 43.1M137.8 43.1l.2 .2M138.4 44.8l-.7 1M138 86.6l2.8 1.3M140.8 87.9l2.9 3.2M138.2 47.1l2.2-2.2M140.4 44.9l1.2 .6M141.6 45.5l-.5 2.7M141.1 48.2l-1.4 .2M139.7 48.4l-.7-.1M140 38.5l-.2 .4M139.8 38.9l-1.4 2.2M138.7 41.8l1.2 .5M139.9 42.3l0 .2M139.7 48.4l.3 2.4M139.2 52.4l-.1 0M139.1 52.4l-.9-.2M139.1 52.4l0 .5M140.2 44.5l.2 .4M139.8 38.9l.5 3M140.2 42.1l-.3 .2M140.3 63.5l5.7 4.2M146 67.7l-.2 5.7M145.8 73.4l-1.6 2.3M144.2 75.7l-7.2-.7M141.8 59.4l0 2.1M141.8 61.5l-.2 .2M136 77.8l8.1 3.1M144.1 80.9l-5.7 3.6M142.1 44.6l.2 .5M142.3 45.1l-.7 .4M140.8 87.9l4-4.4M144.8 83.5l3 6M147.8 89.5l-.1 0M144.2 75.7l1.1 4.9M145.3 80.6l-.1 .1M145.2 80.7l-1.1 .2M141.1 48.2l.6 .4M141.7 48.6l-.3 2.9M145.2 80.7l-.4 2.8M142.3 45.1l.7-.1M143 45l1.9 1.1M144.9 46.1l-2.2 2.6M142.7 48.7l-1-.1M142.7 48.7l.8 .8M143.5 49.5l-.7 3.1M142.8 52.6l-.6 .4M141.8 61.5l.7-.5M142.5 61l7.4-.4M153.2 67.3l-.2 .2M153 67.5l-7 .2M142.8 52.6l1.3 0M144.1 52.6l.1 .1M144.7 58.5M144.7 58.5l-2.2 2.5M145.3 80.6l1.1 .1M146.4 80.7l4.4 8M150.8 88.7l-3 .8M143.6 42.9l-.6 2.1M148.9 34.8l-.2 .4M148.7 35.2l-1.8 1.2M146.9 36.4l-2-2M144 38.7l.9 1M144.9 39.7l-.4 .9M146.9 36.4l.7 1M147.6 37.4l-.5 1.2M147.1 38.6l-1.9 1.1M145.2 39.7l-.3 0M143.5 49.5l.7 .1M144.2 49.6l.5 .7M144.7 50.3l.2 1.5M144.9 51.8l-.8 .8M145.2 39.7l.5 .7M146.4 41.5l0 .1M146.4 41.6l-1.5 .8M144.9 42.4l-.3-.1M144.9 42.4l2 3.5M146.9 45.9l-.1 .1M146.8 46l-1.9 .1M144.7 50.3l2.5 .3M146.7 51.8M146.7 51.8l-1.8 0M146.8 46l0 1.9M146.8 47.9l-2.6 1.7M146.7 51.8l0 .5M146.7 52.3l-.3 .3M146.9 45.9l1.7-1M148.6 44.9l1.5 .6M150.1 45.5l.8 .8M150.9 46.3l.7 2.8M151.3 49.8l-.7 .5M147.8 49.9l-1-2M147.6 37.4l1.9 .4M149.5 37.8l.1 3.6M149.6 41.4l-1 .8M148.6 42.2l-.9-.8M147.7 41.4l-.1-.1M147.5 40.5l-.4-1.9M146.4 41.6l1.3-.2M148.6 42.2l0 2.7M146.7 52.3l.1 .2M147 53.1l.2 .5M147.2 53.6l-.9 .4M149.7 52.5l0 3M149.6 55.5l-2.4-1.9M144.8 58.5l-.1 0M151.2 58.2l-.2 1.4M145.8 73.4l3.3 1.6M149.1 75l4.2 3.8M153.3 78.8l-6.9 1.9M150.8 88.7l2.6 0M149.6 41.4l2.4-.3M152 41.1l.8 1M152.8 42.1M152.8 42.1l-2.7 3.4M148.7 35.2l.7-.2M151.5 35.5l.3 .9M151.8 36.4l-.1 .3M150.3 37.6l-.8 .2M152.3 38.6l-.3 2.5M153 50l.2 .1M153.2 50.1l.5 .5M153.9 52.9l-1.7 3.2M152.2 56.1l-.2 .1M153 67.5l0 .6M153 68.1l-3.9 6.9M153 35.9l-1.2 .5M153.3 78.8l.3 .1M153.6 78.9l1.1 .7M153 68.1l.6 10.8M155.1 66.1l.3 0M155.4 66.1l1.5 3.9M157.5 71.8l1.3 3.5M199.7 98.1l3.3 .9M154.9 38.1l-.1 .2M154.8 38.3l-.1 .2M154.7 38.5l-.7-.1M152.2 56.1l3.3 1.7M155.5 57.8l.3 7.7M155.8 65.5l-.1 .4M155.7 65.9l-.3 .2M150.9 46.3l2-.6M152.9 45.7l1.4 2.6M154.3 48.3l-1.1 1.8M152.8 42.1l2 1.4M154.8 43.5l.1 1.1M154.9 44.6l-2 1.1M152.8 42.1l1.9-2M154.7 40.1l1.2 2.3M155.9 42.4l-1.1 1.1M154.7 38.5l.3 .3M155 38.8l-.3 1.3M155.5 51.8l3.4 3.5M158.9 55.3l-.2 .3M158.7 55.6l-3.2 2.2M154.9 44.6l1.3 1.5M156.2 46.1l-1.9 2.2M156.2 46.1l3.4 .9M159.6 47l-.9 1.6M158.7 48.6l-3.3 2.9M162.7 35.8l-1.1 1.8M161.6 37.6l-.2 0M161.4 37.6l-.4-1.6M154.8 38.3l.5-.4M157 36.6l.4-.4M157.4 36.2l.2 .2M157.6 36.4l-.6 3.2M157 39.6l-2-.8M157 39.6l.3 .3M157.3 39.9l-1.3 2.4M156 42.3l-.1 .1M156 42.3l1.4 .5M157.4 42.8l2.6 4M160 46.8l-.4 .2M158.7 48.6l.2 .9M159.6 53.2l.1 .1M159.4 54.9l-.5 .4M157.3 36l.1 .2M161.4 37.6l-.6 .1M160.8 37.7l-3.2-1.3M155.7 65.9l6.3 1.9M158.7 55.6l1.6 3.7M159.7 61.4l-3.9 4.1M160.8 37.7l-2.6 2.3M158.2 40l-.9-.1M158.2 40l.8 1.6M159 41.6l-1.6 1.2M160 46.8l.2 0M160.2 46.8l.7 .8M160.9 47.6l1.3 2M162.3 49.9l.4 .5M162.7 50.4l0 .1M162.7 50.5l-.7 1.3M161.6 37.6l1.1 1M162.7 38.6l.4 .6M163.1 39.2l-2.5 3.4M160.6 42.6l-1.6-1M160.6 42.6l0 3.5M160.6 46.1l-.4 .7M162.8 55.2l2.5 1M165.3 56.2l.2 .6M165.5 56.8l-3.8 3.5M161.7 60.3l-.6 0M164.3 66.4l.9-1.1M165.2 65.3l.1-.1M161.7 60.3l.8 .8M163.6 62.8l1.6 2.5M160.6 46.1l3.1-1.4M163.7 44.7l1.8 3.1M165.5 47.8l-4.6-.2M163.1 39.2l4.6 2.3M167.7 41.5l-.1 .2M167.6 41.7l-3.9 3M162.7 50.5l1.5 1.2M164.2 51.7l1.5 3.5M165.7 55.2l-.4 1M162.9 61.3l5.2-1.4M162.7 38.6l2.4-2.8M167.3 35.1l2.8 4.1M170.1 39.2l-1.6 1.8M168.5 41l-.8 .5M162.7 50.4l3.2-1.2M165.9 49.2l.8 1.8M166.7 51l-2.5 .7M165.5 47.8l.8 .3M166.3 48.1l-.4 1.1M165.5 56.8l2.6 2.3M171.2 34.2l.9 1.2M172.1 35.4l-.3 2.6M171.8 38l-1.2 1M170.6 39l-.5 .2M168.5 41l5.2 5.2M173.7 46.2l0 .1M173.7 46.3l-3.9 1.7M169.8 48l-1.5-1.3M168.3 46.7l-.7-5M166.7 51l1.4 1.4M168.1 52.4l-2.4 2.8M168.1 52.4l2.4-.5M170.5 51.9l2.3 1.4M172.8 53.3l.1 3.6M172.9 56.9l-1.8 1.5M168.3 46.7l-2 1.4M169.8 48l.7 3.9M170.6 39l4.2 4.2M174.8 43.2l-1.1 3M176.3 72.1l.1 0M176.4 72.1l.8 .3M174.3 66.4M174.3 66.4l0 .2M173.7 46.3l.6 .6M174.3 46.9l.6 4.7M174.9 51.6l-2.1 1.7M172.9 56.9l3 1.6M175.9 58.5l.4 1.3M176.3 59.8l-3.8 4.9M181.7 32.4l-2 5.6M179.7 38l-7.9 0M172.1 35.4l1.2-1.9M174.9 51.6l2.4-.1M177.3 51.5l1.7 5.2M179 56.7l-3.1 1.8M179.7 38l.3 1.5M180 39.5l-1.6 2.7M178.4 42.2l-3.6 1M178.4 42.2M178.4 42.2l-1.3 4.1M177.1 46.3l-2.8 .6M176.3 59.8l.6 .7M176.9 60.5l-1 5.8M175.9 66.3l-1.6 .1M197.4 32.1l-5.8 5.6M191.6 37.7l-1.7 .4M189.9 38.1l-4.5-6.7M189.9 38.1l-.8 2.7M189.1 40.8l-2.7 1.8M186.4 42.6l-1.5 .3M184.9 42.9l-.6-.1M184.3 42.8l-4.3-3.3M175.9 66.3l1.3 .3M177.2 66.6l1.1 1.2M178.3 67.8l-2 2.9M176.3 70.7l-.8-.5M176.3 70.7l.1 1.4M178.3 67.8l.5 .3M178.8 68.1M178.4 42.2l2 4.4M180.4 46.6l-2.5 .4M177.9 47l-.8-.7M184.3 42.8l-2.8 4.3M181.5 47.1l-1.1-.5M177.9 47l.4 4M178.3 51l-1 .5M179 56.7l.1 0M179.1 56.7l1.1 4.2M180.2 60.9l-.7 .9M179.5 61.8l-2.6-1.3M178.3 51l.7 0M179 51l3.4 3.9M182.4 54.9l-.1 .3M182.3 55.2l-2.2 1.4M180.1 56.6l-1 .1M179.5 61.8l.4 1.2M179.9 63l-2.7 3.6M181.5 47.1l.3 2M181.8 49.1l-2.8 1.9M178.8 68.1l1-.7M179.9 63l1.2 .5M181.1 63.5l1 1M182.1 64.5l-.2 .6M182.3 55.2l.6 1.3M182.9 56.5l1 3.6M183.9 60.1M183.9 60.1l-2.2-.3M181.7 59.8l-1.6-3.2M180.2 60.9l1.5-1.1M183.9 60.1l0 .2M183.9 60.3l-2.8 3.2M181.8 49.1l3.4 1.6M185.2 50.7l-1.8 3.6M183.4 54.3l-1 .6M184.9 42.9l1.1 7.2M186 50.1l-.5 .5M185.5 50.6l-.3 .1M182.1 64.5l1.2 0M183.9 60.3l.6 3.9M182.9 56.5l5.7 2M188.6 58.5l.3 .4M188.9 58.9l-5 1.2M183.4 54.3l4.3 2.6M187.7 56.9l.9 1.6M188.9 58.9l.6 .4M189.5 59.3l-2.4 5.3M187.1 64.6l-.9 .4M186.2 65l-.1-.1M186.2 65l-.1 .1M204.6 88.8l.5 2.6M205.1 91.4l-5.5 4.9M185.5 50.6l2.1 3.1M187.6 53.7l.1 3.2M187.1 64.6l2.1 1.8M189.2 66.4l-1.3 1.1M189.7 70.9M189.7 70.9l.1 .1M189.1 40.8l1.3 1.4M190.4 42.2l-.5 6.8M189.9 49l-.2 0M189.7 49l-3.3-6.4M191.6 37.7l2.9 1.6M194.5 39.3l-.6 5M193.9 44.3l-3.5-2.1M187.6 53.7l4.1-1.1M191.7 52.6l.6 5.6M192.3 58.2l-1.4 .9M190.9 59.1l-1.4 .2M190.9 59.1l1 3.2M191.9 62.3l-2.5 4.3M189.4 66.6l-.2-.2M189.7 49l-3.7 1.1M189.9 49l2.4 .9M192.3 49.9l-.6 2.7M189.4 66.6l.5 .6M189.9 67.2l.1 2.9M190 70.1l-.2 .4M193.9 44.3l.9 .8M194.8 45.1l-.1 1.6M194.7 46.7l-.5 2.3M194.2 49l-1.9 .9M194.2 49l.7 .4M194.9 49.4l2.1 7.1M197 56.5l-2.5 1.7M194.5 58.2l-2.2 0M191.9 62.3l1.8 3.2M193.7 65.5l0 .2M193.7 65.7l-3.8 1.5M194.5 58.2l2.6 4.1M197.1 62.3M197.1 62.3l-3.4 3.2M193.7 65.7l.1 0M193.8 65.7l-.1 .4M193.6 66.5l-.4 2.9M193.2 69.4l-1.9 .4M190.1 70.1l-.1 0M218 33.4l-5.7 2.6M212.3 36l-1.8-1.9M202.6 32.7l-.3 4.5M202.3 37.2l-.3 1M202 38.2l-2.3 1.8M199.7 40l-5.2-.7M197.1 62.3l-.5 2.6M193.9 65.8l-.1-.1M193.2 69.4l1.6 1M194.8 70.4l-1.2 1.4M193.6 71.8l-.1-.1M189.9 71l-.2-.1M193.6 72l0-.2M194.8 70.4l.9 .1M194.7 46.7l4.3-.1M199 46.6l1.3 .3M200.3 46.9l-1.8 3.3M198.5 50.2l-3.6-.8M197.1 62.3l1.3 .4M198.4 62.7l.1 .2M198.5 62.9l-.1 1.3M197 56.5l4.9-.8M201.9 55.7l-1.5 5.4M200.4 61.1l-2 1.6M199.7 40l-.9 1.6M198.8 41.6l-1.1 1.1M197.7 42.7l-2.9 2.4M212.3 36l.4 1.7M212.7 37.7l-.2 4.5M212.5 42.2l-10.2-5M202 38.2l3.4 7.6M205.4 45.8l-.5 1.3M204.9 47.1l-4.5-.3M200.4 46.8l-1.6-5.2M198.5 50.2l3.6 3.2M202.6 55.2l-.7 .5M197.7 42.7l1.3 3.9M211.6 87.7l-3.8 4.5M207.8 92.2l-2.7-.8M203.3 59.9l-.5 1M201.9 62.2l-1.5-1.1M200.4 46.8l-.1 .1M198.5 62.9l.3 .2M198.8 63.1l.5 .7M204.9 47.1l.1 .5M205 47.6l-.7 5.4M200 63.6l-1.2-.5M212.5 42.2l.3 .9M212.1 43.6l-6.7 2.2M205 47.6l6.5 1.9M211.5 56.5l-1.2 0M207.7 56.1l-1.2-.3M207.8 92.2l4.4 2.9M212.2 95.1l-.5 4.1M213.5 45.1l.6 2M212.2 95.1l.4-.1M212.6 95l4-.5M216.6 94.5l2.9 6.9M214.2 89.1l-1.6 5.9M216.4 87l-.7 0M212.7 37.7l8.8-.4M221.5 37.3l-2.2 3.6M220.7 34l1.4 2.6M222.1 36.6l0 .1M222.1 36.7l-.6 .6M226.2 34.8l-4.1 1.8M220.2 92l-3.6 2.5M222.1 36.7l1.9 2.3M224 39l.2 .7M224.7 42.6l.6 2.8M234.5 39.6l3.9-3.9M224 39l1.8 .5M227.9 40.2l1.6 .5M55.9 47.7l16.9 0 0-.3 3.6 .9 2.7 1 1.3 .7 0 1.4-.3 .7 2.4-.5 0-.4 1.5-.4 .9-.6 2.1 0 .6-.4 .3-.7 .5-.4 .7 .1 .1 1 .5 .4M59.5 58l1.4 0 2.3 .7 1.7 0 0-.3 1 0 1.2 1.4 .9 .3 .9-.5 1.2 1.5 1.4 1M55.3 49.4l3 .2 1.2 0M59.5 47.7l0 4.4M55.2 52.1l8 0M60.2 47.7l0 .9 .9 1.3 2.1 .6 0 2.2 1.2 0M63.2 50.2l4.2 0M63.2 52.7l4.2 0M67.4 47.7l0 5M57.7 52.1l0 1.8 3.3 2.5 0 1.4M61.4 52.1l0 3.1-.4 .5M61.4 55.2l11.7 0M64.4 52.7l0 6M68.6 52.7l0 2.5M68 55.2l0 3.1-2.2 0M68 55.5l1.8 0 0 1.2 3.3 .6 .3 .4 0 2M67.4 49.6l4.5 0M67.4 51.4l4.5 0M68.6 53.3l4 0M71.9 47.7l0 2.2 0 1.2 0 .6 .4 1.2 .8 .4 0 2.2 0 1.8M71.9 51.1l3.2 0M72.3 52.9l2.7 0M73.1 55.5l2.9 0M73.4 57.7l1.7 0M75.1 51.1l.4 .6-.5 1.4 1.1 2.1-.3 1.2-.6 1.3-.3 1.2 1.1 0 .1 .5M75.5 51.7l1.7 0M77.3 52.2l0 2.3M79 52.2l0 1.7M76.4 55.2l.9-.6 .9-.1 .8-.6 1.3 .4 1.2-1.4M77.3 52.2l2.5 0M76.1 55.4l4.7 0 3.5 0M75.8 56.4l3.5 0M76.9 56.4l0 2.5-.1 .4M78.5 56.4l.3 1.9 0 .6-1.5 0M78.8 58.9l1.9 .3 .3-.1M80 56.4l1.3 1.8M79.3 56.4l2.1 0 1.3 .7M80.3 54.3l.5 .7 .9-.1 1.4-1.2 .1-.2M81.6 53.5l2.8 0M81.9 52.1l2.8 0M81.6 52.1l0 1.4M85.8 50.2l0 2.5M85.8 52.1l1 0M86.4 50.2l0 1.4M87.3 50l.2 1.4M85.9 51.6l1.5 0M75.6 49.3l1.6 .6M74.4 49.1l-.2 .8 .9 1.2M57.7 40.8l0 3.9 3.7 3M63.8 40.8l0 6.9M68.6 40.8l0 6.9M45.1 40.8l27.8 0M48.1 35.2l2.4 3.2 4.8 2.4M45.1 34.9l0 5.8 2.4 .8 1.8 .6 2.4 1.4M72.8 47.7l0-2.4 3.6-2.5M82.2 46.1l0 2.8 3 1.1M68.6 40.8l0-2.4-4.8-.7-6.1-1.8 0-1.3M95.7 46.2l-4.2-.4-1.8-.3 1.8-1.2-1.8-.3 1.5-3.3M89.2 48.9l1.1-.6"/>
<path class="gr" d="M39.6 23V133.3M57.7 23V133.3M75.8 23V133.3M93.9 23V133.3M112 23V133.3M130.1 23V133.3M148.2 23V133.3M166.3 23V133.3M184.4 23V133.3M202.5 23V133.3M220.6 23V133.3M21.5 115.6H238.5M21.5 96.9H238.5M21.5 78.2H238.5M21.5 59.5H238.5M21.5 40.9H238.5"/>
<path class="co" d="M28.8 37.4l1.2-2.1 1.8-.7 3.7-.8 2.9 .3 4.3 .5 2.4 .3 3 .3 3.6-.6 1.2-.1 2.4 .4 4.2 .5 4.3 .5 2.4-.3 4.8 .4 1.8-.4 .6-2.1 2.4 2.1 3-.7 1.9 1.6-2.5 .6-.6 1.3-4.2 1.8 0 1.3 .9 1.2 2.7 .6 3.4 .7 .3 1.5 1.5 .6 .4-1.5 1.1-1.3 .3-1.8-.9-2.1 2.4 0 2.4 .8 1.2 1.6 1.8-1.1 1.8 1.7 .9 1.3 2.1 1.5 .6 .9-2.4 .9-3.6 0-2.4 1.6 3-.8 .3 1.5 2.1 .6-2.7 1.2-.9-.8-2.1 1.1 .3 .8-2.4 .8-.6 1.2-.6 1 .3 1.1-1.5 .9-1.8 1.4 .3 2.2 .3 1.5-.9 0-.8-1.2-.5-1.5-1.2 0-2.1-.2-.3 .7-.9-.1-1.8-.2-1.8 1.1-.3 2 0 1.6 .8 1.7 1 .7 2.1-.3 .3-1.5 2.1-.3-.3 1.9-.4 1.5 2.5 .2 .5 .5-.3 2.5 1.1 1.2 1.5-.3 1.2 .5 .9-.4 .3-.7 .9-.5 1.2-.7 .6 .9 .6-.7 1.2 1 2.4-.1 1.2 .1 .6 1.2 1.2 .3 1.2 1.3 1.8 .2 1.2 .5 .6 .5 .6 1.4 0 1.1 1 .6 2.4 1 2.1 .3 1.5 .4 2 1.1 .1 1.6-1.2 1.8-1.2 1.6 0 2.7-.9 1.7-.9 1.5-1.8 .5-2.1 1.4-.2 1.5-1.4 1.6-1.2 1.7-.9 .8-1.2 .8-.6 1.2-2.7 .5-.2 1-1.6 .2 .6 1-.9 1.5-1.2 .9 .9 1-1.5 1.5-.3 1.2 .3 1.3 .9 .3-1.8 .2-1.2-.8-1.5-1.2-.6-2.5 .9-2.5 .1-1.6 .2-2.8 1.1-2.5 .1-3.1 .6-2.5 .1-3.4-1-.9-2.1-1.3-.9-1.8-1.2-2.5-1.4-1.9 .5-1.2 0-1.6 .3-.9 .6-.5 .9-1.4 .1-1.9-.7-.9-.9 .8-.9-.5-1.6-.9-1-.3-.2-1-.9-.9-1.2-.3-1.5-.6-1.5-1-1.2 .2-1.2-.3-1.5-.8-1.5-.6-1.2-1.3 .2-.8-.8-.9-1.2-1.4-1.2-1.2-1.2-1.3-1.2-1.2 .6 1.2 .6 1 .9 1.5 .9 1.6-.6-.2-.9-.9-1.2-1.7-.3-1.3-1.2-1.2-.5-.8-.8-.8-1.2-.3-.9-1.4-.3-.6-.9-1.6-.1-1.7 .1-2.1-.4-1.2 1 .1-1.2-1.1-1.5-.6-1.5-2.2-1.8-1.6-1.8-.9-2.4-.8-2.4-.2-1.5-.6-2.2 0-.9 1-1.5 .6-1.5 .9-1.5 .8-2.1 .5-.9 .1 1.8-1.1 1.8-1.2-2.4-.3-1.5-1-.6-.9 .6-.7 2.1-.8-2.1-.1-1.2-.1-.9-.5zM86.1 29.6l4.2-1.5 3.6-.9 6-.4 6.1-.6 6 0 4.8 .6 2.4 1-.6 1.2-.6 1.9 .6 .9-1.8 1.3 0 1.2-2.4 1.3-3.6 .3-1.8 1.2-2.4 .3-1.2 1.6-1.2 1.8-1.8-.6-1.8-.9-1.3-1.3-1.5-1.2 .3-1.2 1.2-1-1.8-.6-1.2-1.6-1.8-1.2-4.2-.3-3-.6zM115.6 37.4l1.2-.5 3.7-.1 1.5 .8-.9 .6-2.2 .5-2.4-.2 .3-.5zM94.3 48.6l2-1.2 .3-1.3 1.5 1.4 .2 1.1-.8 .5-1.2-.5zM124.7 55.2l.1-1.3-.4-.6 .4-1.2-.3-.7 .8-.4 2.4 .1 1.5 .1 .2-1 0-.8-.8-.6-1.2-.5 1.5-.4 .3-.6 .9 .1 .9-.4 .6-.5 .9-.4 .5-.9 1.3-.3 .9-.3 0-.9-.2-.8 1.4-.6-.1 .9-.2 .8 .6 .6 1.2-.3 .8 .3 1.3-.3 1.3-.2 .9 .2 .7-.6-.1-1 1.5-.1 .3-.7-.3-.6 2.7-.1 1.2-.4-1.8-.3-2.5 .4-.8-.5-.1-1.4 2.2-1.3 .3-.3-1.8-.2-.6 .8-1.5 .7-.9 .8-.2 .9 .9 .4-.4 .7-1 1.2-.3 .5-1 .5-.9-.2-.8-1.2-.1-.8-.5-.3-1.2 .8-1.2 0-.6-.5-.3-1.3 .2-.7 1.6-.8 1.5-.7 1.2-.9 1.2-1.1 .9-.6 1.9-.8 2.7-.5 1.5-.1 1.5 .1 1.5 .3 1.2 .7 1.8 .1 2.7 .9 .3 .8-1.8 .2-2.1-.3-1.2-.3 1.4 1.5 1.3 .4 1.8-.4 2.4-.9 .3-1.5 .9 .4 2.4-.1 2.2-.3 1.5 0 1.8-.1 1.2-.7 2.4 .3 2.1 .6-.9-1.1 .9-.9 .9-1.1 .9 .3 .6 1.1 .2 1.4 .7 .8 .9-1-1.2-1.5 1.5-.4 2.4 0 .3-.9 4-.3-.3-.5 2.1-.4 4.2-.3 2.4-.3 1.8-.8 1.8 .5 1.8 .2 2.1 .5-.9 1.1 .9 .5 2.8-.2 3.6 0 2.7 .5 .6 1.1 1.2 .1 2.1-.5 3-.5 3.6 .1 3.1 .6 3.6 .2 2.4 .9 3.6 0 1.8-.3 3.6 .1 2.4 .6 0 2.4-.9 .3-.9 1.3-2.4 .6-1.8 .9-2.4 0-1.5 .2-.3 1.2-.6 1-1.2 1.4-.9 .7-1.1 1.2-.4-1.3-.3-1.9 .8-1.1 1.3-.7 1.8-1.6-1.2-.2-2.4 .2-1.2 1.4-2.4-.2-3.1 .2-1.8 .2-2.4 1.5-1.5 1.1 .9 .6 2.1 .4 .5 .7-.5 2.2-1.2 1.1-1.8 1.9-1.8 .6-1.1 .3-.6 .8-1.3 .8 .6 .9 .6 1.4-.2 .5-1.6 .5-.1-1.3 .2-.8-.8 0-.4-1.2-1.6-.4-.5 .8 .2-1.1-1.5 1-.8 .4 .6 .8 2.3 0-1.4 .8-.6 .7 .9 1.5 .7 .9-.2 .6 .3 .6-.9 1.3-.6 .9-1.2 1.1-2.2 .9-1.8 .5-.4 .6-.5-.6-.9 0-.9 .6-.5 1 .7 1.2 1.2 1.1 .3 1.7-.3 1-1.2 .3-1.1 1.1-.1-1-1.1-.4-.3-.8-1-.7-.5 .1-.5 1.7 .7 1.3 .4 .9 .8 .5 .7 1 0 1.2 .4 .7-.7 0-1-.8-.6-1.4-.1-.9-1.1-.9 0-1.3 .2-1.9-.6-2.2-1-.2-1 .5 .1-1.5-.9-.9-.6-1.3-.9-.1-1.2 .3-1.1 .3-1 1.1-1.7 1.8-1.2 .7 0 1.5-.3 1.7-.8 .8-.6 .6-.7-.9-.8-1.9-.6-1.5-.7-2.5-.1-1.4-1.3 .3-.9-1 .7-.4-1-.3-.7-.7-.5-.5-3 .1-2.5-.3-.6-.9-1.1 .3-1.9-.8-.7-1.3-1.1 0-.3 .6 1.2 1.6 .5 .6 .5-.2 0 1 1.5 .1 1.2-.9 .1-.5 .2 1.1 1.4 .7 .6 .7-.8 1.2-.5 .9-1.3 .8-2 1.2-2 1-2.4 .8-1 .1-.4-1.7-.1-1-.8-1.2-1.2-1.6-.4-1.4-.8-1.1-1.2-1.5-.3-1-.3 1.2-.4-.4-.5-1 .6 1.6 .1 .4 1 1.7 .9 1.2 .2 1.9 .8 .7 .6 1.7 1.1 .8 1.1 .9-.1 .5 .8 .7 1.8-.5 2.3-.4-.1 .9-.7 1.8-1.2 1.9-1.2 1.6-1.5 1.5-1.2 .9-.9 1-.5 .9-.2 1.3 .4 .6 .2 1.2 .4 .6 .1 2.5-1 1.3-1.3 1.1-1 1.7 .2 1.5-1.5 1-.1 .6-.2 1.2-.9 1-.6 .9-1.2 .9-1.2 .5-1.8 .2-1.8 .5-1-.4-.1-1.4-.7-1.5-1.1-1.6-.5-2.5-.9-1.5-.7-1.9 .3-2.2 .9-1.5-.3-1.6-.6-1.9 0-.6-.8-.7-1-1.8 .1-1.2 .2-1.4-.6-.8-1.1 .1-.9-.4-.6-.8-1.5 0-1.8 .7-1.2 0-1.2 0-1.5 .5-1.2-.7-1.2-.9-.9-.9-.3-.7-.9-.9-1.1-1-.5-1.4 .7-1.1 .1-1.8-.5-1 .7-1.7 .9-1.4 .9-1 1.2-.7 .7-.8 .1-1.5 1-.7 1-.9 .5-.5 .9 .4 1.2 .1 1.2-.5 1.8-.6 2.4-.1 1.7-.2 .7 .2-.3 .6 .3 .4-.6 .7 .7 .6 1.1 .3 1.4 .3 1.1 .8 1.2 .4 .6-.4 0-.8 .9-.4 .9 .2 1.2 .5 2.4 .6 1.2-.5 .8 .2 1.1 0 .5-1 .5-1.1 0-1 .2-.4-1 .1-1.2 .4-1.2-.2-1.5-.1-.4-.5-.5-.7-.1-.9 .2-.2 1.4-.4 0-.1 1.2 0 1.2-.5 1.2 0 1.8 .6 1.2 0 .9-.3 .1-.7-1-.5-1.2-.7-.3-.4 .9-1.3-1.8 .3-.3 .9 .6 0-.6 .1-.9 .5-.4-.2-.5-.5 .6-.3-1.2-.4-.6 .4-.6 .5-.5 .7-.5 .6 .1 .7 .6 .4-.6 .2-.7 .2-.4 .1-.4-.2-.9 0-.6 .2-.3 .2 .3 .4-.2 .4 .8 .5-.6 .4-.2 .6-.6-.2-.3-.6 .2-.3-.8-.8-.4-.7 0-.7-.6-.5-.9-.5-1-.4-.3-.6-.4-.2-.4-.2-.8 .2 .1 .6 .7 .5 .5 1 .9 .3 1.6 .8-.9 .5-.4 .5-.4 .3 0-.9-.5-.4-.6-.4-.9-.5-.9-.6-.4-.8-.8-.3-.9 .3-.9 .5-1.2-.3-.5 .3 0 .7-1.3 .6-.6 .7-.2 .7-.3 .7-.7 .6-1.5 0-.7 .4-.4-.5-.7-.3zM198.5 91.9l.3 2.5 .6 2.5 0 2.2 .6 .9 1.3 0 1.8-.8 1.8-.5 1.2-.4 1.8-.4 1.5-.1 1.5 .8 1.1 1.3 1-1 .2 1.4 1 .3 .6 1.3 1.8 .5 1.7 .1 1-.8 1.3-.3 .6-2 1.2-1.6 .3-2.2-.3-1.5-.9-1-.9-1-.7-1.1-1.5-1-.3-1.2-.4-1.3-1.1-.6-.6-2-.5 1.4-.1 1.9-.6 .9-.9-.4-.9-.5-1.2-.7 .8-1.6-1.1-.1-1.5-.5-.9 .5-.9 1.6-.9 .1-.6-.7-1 .4-1.1 1.3-.9 1-.6 .8-1.2 .3-1.2 .4-1.6 .6zM75.8 33.5l3-1.2 3.1 0 2.4 .8 3 .9 1.8 .6 .9 1 2.7 .9 .3 .3-1.5 .9-.6 1 .3 .6-.9 .3-1.2-.5-1.8-.4-1.5-.5-2.4 0-.3-.8 1.8-.3 1.2-.6-.3-.6-1.8-.7-1.5-.6-3.1 0-2.4-.1-.6-.5zM74.6 30.6l1.8 .1 4.3 .1 2.4-.2 1.2-.8 1.8-.5 1.8-.7 3-.5 1.8-.7-1.2-.6-3.6-.3-4.8 0-4.9 .5-3.6 .6 1.2 .6 1.8 .6 .6 .5-2.4 .6zM71.6 28.3l3-.7 2.4 .4 .6 .8-2.4 .7-2.4-.2zM66.2 29.3l3-.5 1.8 .3-1.2 .7-2.4 0zM72.2 31.1l2.4 .7 5.5 0 1.8-.2-.6-.8-3.1-.2-3.6-.1-2.4 .2zM69.2 30.9l2.4-.2 .6 .8-1.8 .2zM59.5 31.4l1.9-.8 3.6-.1 2.4 .5-1.2 .5-2.4 .1zM55.3 30.7l3-.8 1.9 .5-2.5 .6zM54.4 33.4l.6-1.3 2.4-.3 3.1 .6-1.3 .7-2.1 .7zM58.3 33.7l.9-.8 2.2-.3 3.6 0 2.1 .3 2.1 .9 0 .8-1.2 .6-2.4 .2-3.6 .3-2.8-.5-.6-.9zM68.6 32.8l1.8-.6 1.5 .6-.3 .8-1.8-.1zM72.2 32.3l3-.2 .6 .7-2.1 .6zM69.8 35.2l2.1-.4 .6 .6-1.8 .2zM77.6 38l2.1-.8 1.6 1.2-1.9 .8-1.2-.5zM80.1 39.1l1.2 .2-.6 .2zM78.9 64.6l1.8-.8 1.2 .1 1.8 .9 1.7 .8-2 .2-.3-.5-1.8-.5-1.2 0zM85.2 65.9l1.8-.1 1.9 .8-1 .3-.9 .3-1.8-.5zM82.9 66.7l1.3 .3-.8 .1zM89.6 66.7l.9 .1-.2 .2zM83.1 61.6l.6 .4-.5 .9-.3-.6zM126.7 47l1.6-.3 2.6-.3 .2-1-.9-.5-.4-.6-.7-.7-.3-1.1 .2-.2-1.3 0 .5-.6-1.1 0-.7 .7 .3 .9 .5 .2-.1 .6 1.1-.1 0 .6-.9 .4 .3 .6-.6 .4 1.1 .2-.7 .2zM126.5 45.7l-.1-1 .3-.5-.9-.4-.8 .3-.9 .4 .2 .7-.4 .8 1.4 .1zM135.3 52.7l.6 0 0 1.1-.7 .1 0-.6zM135.3 51.7l.5-.2 0 .9-.5-.1zM137.6 54.5l1.9-.1-.3 1-1.6-.6zM144.3 56.2l1.6 .1-1 .2zM149.6 56.4l1.4-.4-.5 .7zM178.3 72.1l1.2 1.4-.8 1-.5-1.4zM208.6 57.3l1-.7 1-.5 1.5-.1 .9-.8 1.2-.8 .3-1.4 .9-.5 .3 1.1-.6 .9-.1 1.3-.6 .6-.8 .3-.9 0-.9 .6-1.5 0-.8 1.3-.8 .2-.3-1zM214.5 52.4l.9-.7 1.2 .4 1.2-.9-.6-.4-1.6-.9-.2 1.2-.6 .3zM215.7 49.6l.9-.3-.3-1.6 .9 0-.9-1.6 0-1.5-.3-.2-.2 2.1-.2 1.5zM202.9 64.5l.7-1.9-.5-.1-.6 1.1zM195.6 66.2l1.1-.5 .3 .3-.8 .9zM202.8 66.7l1 0-.1 1.5 1.1 1.4 .1 .8-1.5-.8-.6-.3-.5-1.3zM203.7 73.8l1.2-.6 .9-1.1 .6 1.7-.7 .9-1.1-1.2zM203.7 71l.6 1 1.2-.6 0-1-.9 0zM195.8 77.3l.6-.2 .6-.5 1.2-.4 1.5-1.3 1-1.1 1.2 1.2-.6 .5-.3 1.5 .8 .6-.8 .6-.7 1.2-.3 1.2-.9 .1-2.1-.6-.4-.3-.8-1zM187.6 74.8l1.3 .2 1.7 1.6 1.9 1.3 .6 1.2 .9 1-.1 1.7-.8 .1-1.5-1.2-.9-1.8-1.1-1.8-1.3-1.2zM193.5 82.4l.8-.5 1.2 .5 1.5-.2 1.1 .4 1 .5-1.5 .3-2.4-.3-1.2-.3zM199.1 83.2l.9 .4 1.9-.1 .6 .2 1.7-.4-2.9-.1zM204.6 84.6l.9-1 1.4-.2-1.7 1zM202 81.6l.7 .1 .1-1.6 .3-.3 .9 1.2 .4-2.2-1.3 0 .6-1.1 1.9-.4-.4 .7-2.7-.2-.3 .7-.5 1.4zM207 77.1l.6 .2-.3 .9-.4 .3zM206.4 80.1l.9 .5 1.2-.2-.6-.5zM209.1 78.8l.9-.4 1.2 .5 .6 1.4 1.5-1 1.8 .5 2.4 .9 .5 .9 1 .5 .5 1.4 1.1 1.1-1.6-.2-.9-1.2-1.2-.3-.6 .9-1.2 .1-1.2-.7-.7-1.6-1.7-.8-1.2-.1-.6-.7 .9-.4zM220.6 81.6l1.2-.8 .3 .4-.6 .6zM223.6 81.9l.5 .5 .7 1.1 1.2 .3 1.1 .5 .4 .4zM159.8 85.7l.8 2.1-.7 1-.6 2.2-.7 2.6-1.4 .4-.8-1.2-.2-1.2 .6-1-.2-1.5 .6-.9 1.2-.5 .6-1.1zM136.7 29.1l3 1.5 3.4-.5 3.3-1.4-3-.5-3 .2-3.7 .1zM161.5 33.7l2.4 .5 1.2-.1-1.5-1 1.5-1.3 3.6-.8 2.7-.6-1.5-.1-4.2 .6-1.8 .9-1.5 1zM187.4 28.7l3 .6 2.4-.4-2.4-1.1-3 .2zM212.7 31.5l3-.3 2.4 .2 2.5-.1-2.5-.5-3.6 .1zM158.4 28.1l4.9-.6 4.8 .4-3.6 .5zM233.8 99.6l1.2 .5 1.2 1.4 1.5 .2-.6 .9-.4 .8-1.1 .7-.2-1.1-.5-.4 .5-1.4-1-1.2zM234.3 103.5l.9 .5-.6 1-.3 .5-1.1 .6-.6 .7-.9 .4-1.2-.4 .9-1.1 1.8-1.4zM229 90.8l.9 .5 .9 .8-.3-.1zM237 89.1l.7 0-.1 .4-.5 0zM171.6 108.5l.9 .2-.5 .4zM217.5 103.5l2 .2-.2 1.4-.9 .2-.7-.8zM93 109.9l2.1 .2-.9 .7-.9-.2zM163.4 91.2l.3 .3zM164.7 90.6l.3 .3zM119.5 60.5l2.5-.4zM211.1 81.9l.3-.3-.2 .8zM87.9 111.2l.9 0-.3 .6zM31.8 127.4l3 .3-1.8 .5zM84.9 123l3-.3-1.2 .9zM36 65.6l.6 .5-.4 .3M33.7 64.4l.3 .1M34.7 64.8l.3 .1M24 45.8l2.4-.3 2.4-.6 1.2-.3M21.6 46l1.8 0M37.8 42.2l.6 .3-1.2 .3M21.6 35.3l2.4-.5 2.4-.1 1.2 .1-.3 .8-.9 1 1.4 .5-1.1 .4-.9 .7-1.8-.4-1.5-.4-.9 .3M21.6 33.7l1.2 .2 .3 0-1.5 .2M237.7 33.9l.9-.2 0 .4M21.6 130l7.2 0 3-.8 3-.3 1.8-.6 3-.3 1.9-1.6 1.2-.9 3-.5 6-.7 6-.3 6.1 0 3-.7 3-.6 3 0 6 0 4.3-.3 2.4-.6 2.4-1.3 2.4-1.2 1.8-.9 2.4-1 1.2 .2-.6 .8-1.8 .9-.6 1.2-.6 1.3 .6 1.2 0 1.3-2.4 1.2-2.4 .6-1.2 .7 3.6 .6 4.8 .6 4.8 .9 6.1-.6 4.2-1.2 1.8-1 3-.9 4.2-1.6 4.9-1.2 3-.3 3-.9 6 .3 6.1 0 6-.7 1.8-.9 4.2 .6 6-.9 3.1-.6 3 .9 3.6 .5 1.2 1.4 1.2 .6 1.2-.9 2.4-.3 2.4-1.6 4.9-.3 4.2-.3 3 0 3 0 3 0 3 .3 3.1-.3 6 0 6 0 3 .3 3.1 .3 4.8 .6 4.2 1.9 3.6 .6-.6 .9-2.4 1.9-1.8 1.3 3 .9 4.2 1.5 3 .8M158.4 50.2l1.2-1 1.6-.3 .9 1-.9 .6-.2 .8 .9 .8 .2 .9 .6 1.2-.2 1-1.6 .2-1.3-.6 .3-1.6-.9-1.1-.3-1z"/>
<rect x="21.5" y="23.0" width="217.0" height="110.3" class="frame"/>
<text transform="translate(39.65 18.80) scale(1 1.14)" class="tk" text-anchor="middle">150°W</text>
<text transform="translate(39.65 140.80) scale(1 1.14)" class="tk" text-anchor="middle">150°W</text>
<text transform="translate(75.83 18.80) scale(1 1.14)" class="tk" text-anchor="middle">90°W</text>
<text transform="translate(75.83 140.80) scale(1 1.14)" class="tk" text-anchor="middle">90°W</text>
<text transform="translate(93.92 18.80) scale(1 1.14)" class="tk" text-anchor="middle">60°W</text>
<text transform="translate(93.92 140.80) scale(1 1.14)" class="tk" text-anchor="middle">60°W</text>
<text transform="translate(112.01 18.80) scale(1 1.14)" class="tk" text-anchor="middle">30°W</text>
<text transform="translate(112.01 140.80) scale(1 1.14)" class="tk" text-anchor="middle">30°W</text>
<text transform="translate(130.10 18.80) scale(1 1.14)" class="tk" text-anchor="middle">0°</text>
<text transform="translate(130.10 140.80) scale(1 1.14)" class="tk" text-anchor="middle">0°</text>
<text transform="translate(148.19 18.80) scale(1 1.14)" class="tk" text-anchor="middle">30°E</text>
<text transform="translate(148.19 140.80) scale(1 1.14)" class="tk" text-anchor="middle">30°E</text>
<text transform="translate(166.28 18.80) scale(1 1.14)" class="tk" text-anchor="middle">60°E</text>
<text transform="translate(166.28 140.80) scale(1 1.14)" class="tk" text-anchor="middle">60°E</text>
<text transform="translate(184.37 18.80) scale(1 1.14)" class="tk" text-anchor="middle">90°E</text>
<text transform="translate(184.37 140.80) scale(1 1.14)" class="tk" text-anchor="middle">90°E</text>
<text transform="translate(202.46 18.80) scale(1 1.14)" class="tk" text-anchor="middle">120°E</text>
<text transform="translate(202.46 140.80) scale(1 1.14)" class="tk" text-anchor="middle">120°E</text>
<text transform="translate(220.55 18.80) scale(1 1.14)" class="tk" text-anchor="middle">150°E</text>
<text transform="translate(220.55 140.80) scale(1 1.14)" class="tk" text-anchor="middle">150°E</text>
<rect x="53.9" y="152.4" width="152.3" height="8.1" fill="url(#cbg)"/>
<rect x="53.9" y="152.4" width="152.3" height="8.1" class="cbf"/>
<path d="M71.47 160.5v2" class="tick"/>
<text transform="translate(71.47 169.20) scale(1 1.14)" class="tk" text-anchor="middle">−3</text>
<path d="M91.00 160.5v2" class="tick"/>
<text transform="translate(91.00 169.20) scale(1 1.14)" class="tk" text-anchor="middle">−2</text>
<path d="M110.52 160.5v2" class="tick"/>
<text transform="translate(110.52 169.20) scale(1 1.14)" class="tk" text-anchor="middle">−1</text>
<path d="M130.05 160.5v2" class="tick"/>
<text transform="translate(130.05 169.20) scale(1 1.14)" class="tk" text-anchor="middle">0</text>
<path d="M149.58 160.5v2" class="tick"/>
<text transform="translate(149.58 169.20) scale(1 1.14)" class="tk" text-anchor="middle">1</text>
<path d="M169.10 160.5v2" class="tick"/>
<text transform="translate(169.10 169.20) scale(1 1.14)" class="tk" text-anchor="middle">2</text>
<path d="M188.63 160.5v2" class="tick"/>
<text transform="translate(188.63 169.20) scale(1 1.14)" class="tk" text-anchor="middle">3</text>
<text transform="translate(74.11 177.40) scale(1 1.14)" class="cap">annual mean of DRE</text><text transform="translate(138.19 174.60) scale(1 1.14)" class="ss">dustC</text><text transform="translate(138.19 178.60) scale(1 1.14)" class="ss">lw</text><text transform="translate(150.61 178.00) scale(1 1.14)" class="cap">|</text><text transform="translate(153.45 178.50) scale(1 1.14)" class="ss">toa</text><text transform="translate(161.91 177.40) scale(1 1.14)" class="cap">[W m</text><text transform="translate(178.17 174.40) scale(1 1.14)" class="ss2">−2</text><text transform="translate(182.87 177.40) scale(1 1.14)" class="cap">]</text>
</g>
<g transform="translate(0,179.8)">
<text transform="translate(7.60 13.90) scale(1 1.14)" class="let">c)</text>
<g clip-path="url(#mapclip)">
<path fill="#e5e5ff" d="M93 107.3l1.8-.3 .9-.6 .8-1.1 .2-1-.2-.9-.6-.9-1.1-.8-.9-.2-.9-.1-1.8 .6-1.1 1.4-.2 .9 .2 1 .6 .9 .5 .5zM155.4 72.9l1.8 .2 2.7-.7 1.8-1.7 .1-.9-1.9-1.3-1.8-.2-1.8-.9-.9 0-1.6 1.5-.6 1.8 .4 1zM116.5 69.9l1.8 .6 .9 0 1-.8 .4-.8 .2-1.9-.3-2.8-.3-.7-1-.6-.9 .4-.7 .9-1.1 2.1-1.3 1.6 .1 1zM162.7 66.2l.9 .2 2.7-.6 2.7-1.1 3.1-2.4 .7-.9-.2-.9-1.8-.3-2.7 .7-1.8 .8-2.5 1.6-1.1 .9-.5 .9zM160.9 62.7l.9 .1 .6-.5 0-.9-1.5-1.9-1-.6-.9-.2-.9 .8 .2 1 .7 1zM186.2 52.2l3.6 .4 3.6-.2 1.7-.3 .5-1-4-1.4-5.4-.6-3.6 .2-2.4 .9 2.4 1.3z"/>
<path fill="#ffe5e5" d="M122 71.2l5.4-.8 4.5 .9 .9-.3 .9-.9 .9-.4 1.8 .8 1.8-.6 1.8 .6 1-.1 1.9-1.5 .8-.3 .9 .3 1.8 2.7 2.7-.5 2.7-1.4 .8-.8 .4-1 .1-.9-.4-.9-.9-.8-1.2-.2-.6-.9 .9-.7 .9-.2 .6-1-.2-.9-1.3-2.3-4.5-1.8-6.4-.4-6.3 1.2-2.7-.3-2.7 .4-5.4-.6-1.3 1-.8 1.9 .4 7.4-.2 1.9 .4 .9zM137.9 61.4l-.1-.9 .4-.6 .9-.3 .9 .1 1.1 .8-.5 .9-.6 .2-.9 .2zM142.7 61.4l1-.2 .3 .2-.3 .8z"/>
<path fill="#cdcdff" d="M92.1 106.4l1.8 .2 .9-.4 .9-.9 .3-1-.3-.9-.9-.9-1.8-.5-1.2 .5-.9 .9-.2 .9 .2 1zM154.5 72l1.8 .6 2.7-.2 1.3-.7 .9-1 0-.9-1.3-.8-1.8-.2-1.8-.8-.9 0-.9 .5-.7 1.3-.1 .9zM118.3 69.9l.9 0 1-.7 .4-1.3-.4-3.7-1-.6-1 .6-2 3.7 .3 1.1zM163.6 65.5l1.8 .1 2.7-.9 2.2-1.4 1-1 .4-.9-.9-.5-.9 0-2.7 .8-1.8 1-1.8 1.5-.4 .9zM159.9 61.5l1 .4 .5-.5-.4-.9-1.1-.8-.8 .8zM184.4 51.3l5.4 .6 1.8-.1 1.7-.7-2.4-.9-2.9-.5-2.7 0-2.6 .5z"/>
<path fill="#ffcdcd" d="M147.3 70.7l2.7-.7 1.8-1.1 .6-1 0-.9-.6-1-1.8-.8-.4-1.9-1.8-1.9 0-1.9-1.4-.9-3.6-.7-2.7 .7 .9 .1 .9 1.2 .9 .5 1.8-.2 .4 .3 .1 .9-.7 .9-.7 .3-1.3-.3-.5-.6-3.7 .6-1.1-.9-.7-2.1-5.4-.8-3.6 1.5-1.8-.2-1.8 1.8-1.8 .5-.5 1.2-.4 2.8 .4 2.8 .5 1.2 .9 .1 4.5-.6 3.6 .8 .9-.1 1.8-.9 .9-.1 1.8 .2 1.8-.2 2.8 .5 2.7-1.5 1.3 .6 1.4 1.8zM150.9 62.6l.4-.3-.4-1.2-.4 .3-.3 .9z"/>
<path fill="#b5b5ff" d="M92.1 105.8l.9 .3 .9-.1 .9-.5 .6-1.2-.3-.9-1.2-.7-.9-.1-.9 .3-.5 .5-.3 .9 .3 1zM155.4 72.1l1.8 .3 1.8-.3 1.8-1.4-.1-.9-.8-.5-2.7-.4-.9-.6-.9 0-.8 .6-.6 .9 0 .9 .7 1zM117.4 69.1l.9 .4 .9 0 1-.8 .3-.8-.3-3.2-1-.6-.9 .7-1.5 3.1zM164.5 65.2l2.7-.5 1.8-.9 1.7-1.5-.2-.9-2.4 .3-2.7 1.4-1.2 1.1zM186.2 51.1l2.7 .3 2.2-.3-3.5-.9-1.7 0z"/>
<path fill="#ffb5b5" d="M131 69.9l3.6-1.1 3.6 .1 1.8 .6 1 0 2.7-1.5 .9 .2 1.8 1.6 .9 .3 .9-.1 1.8-.5 1.2-.6 .7-1 .1-.9-2-1.5-.9-2-1.8-1.9-.9-.3-1.3 1-1.4 .7-2.7-.8-2.8 .5-.9-.4-1.8-2.3-3.6-1-.9-.1-.9 .3-2.7 2.1-1.8 .3-1.8 1.3-1.8 .6-.7 2.6 .7 2.9 .9 .4 4.5-.2zM130 63.3l0-1 1 0 0 1.1zM142.8 59.6l1-.1-.1-.7-1-.2z"/>
<path fill="#9d9dff" d="M93 105.6l1.3-.3 .6-1-1-1.2-.9 0-.7 .3-.5 .9 .5 1zM155.4 71.8l1.8 .5 1.8-.4 1.5-1.2-.2-.9-1.3-.6-1.8-.1-1.8-.6-1.1 1.3 .1 .9zM118.3 69.1l.9 0 1.1-1.2-.1-2.5-1-.9-.9 .9-.9 2.5 .5 1zM165.4 64.7l2.2-.5 1.7-.9 .9-1-.3-.3-.9-.2-1.7 .5-1.6 1-.9 .9z"/>
<path fill="#ff9d9d" d="M128.3 69l.9 .4 1.8 .1 2.7-.8 3.6-.1 2.7 .7 1-.1 2.7-1.4 .9 0 1.8 1.6 1.8 .2 1.8-.4 .9-.6 .6-.7 0-.9-1.5-1.2-1.6-2.5-1.1-.9-.9-.2-2.7 1.1-2.7-.8-2.8 .6-1.4-.8-1.9-1.8-3-1.2-.9 0-2.7 2.1 .9 .5 .9-.3 .9 .2 .6 .5 .1 1-.7 .6-.9-.1-.9-.5-1.8 0-.9-.6-.9 0-1.8 1-.9 .1-.9 .6-.3 .7-.3 1 .2 .9 .4 1.1 .9 .7 1.8-.1 1.8-.7zM126 67l.5-.5 0 1.3z"/>
<path fill="#8585ff" d="M93 105l.9-.2 .3-.5-.3-.4-.9-.2-.5 .6zM156.3 72l1.8 0 .9-.3 1.2-1-.3-.9-.9-.4-3.6-.6-.8 1 .1 .9 .7 .8zM118.3 68.6l.9 .1 1-1.2-.2-1.4-.8-1.1-1.2 2-.2 .9zM166.3 64.3l2.5-1 .6-1-1.3 0-1.8 .9-.8 1z"/>
<path fill="#ff8585" d="M129.2 69.1l1.8 0 2.7-.6 3.6-.2 2.7 .7 1-.1 2.7-1.4 .9-.1 1.8 1.5 1.8 .4 1.8-.5 .9-.7 .2-1.1-1.2-.9-1.7-2.7-.9-.6-.9-.1-2.7 .8-2.7-.7-2.8 .6-.9-.3-2.7-2.2-2.7-1.1-.9-.1-.8 .8 1.7 1.5 .2 1.3-1.1 1.1-.9-.1-.9-.4-3.6-.3-1.3 .6-1.4 .1-.9 .6-.4 1.2 .4 1.5 .9 .7 .9 .1 1.3-.5 .5-1.3 .9-.8 .6 2.1z"/>
<path fill="#6d6dff" d="M156.3 71.8l1.8 .1 1.8-1.2-.4-.9-.5-.2-3.6-.4-.5 .6 .1 .9zM118.3 68l.9 .3 .4-.4 .3-.9-.7-1.5-.9 1.5zM167.2 63.5l1-.2-.1-.2-1.3 .2z"/>
<path fill="#ff6d6d" d="M147.3 68.9l1.8-.1 1.5-.9 0-.9-1-.9-1.4-2.4-1.8-.5-2.7 .4-2.7-.5-2.8 .6-.9-.3-2.7-2-2.7-1.1-1 .2 1.1 .9 .5 .9-.1 1-1.4 1.4-2.7-.5-1.8 .6-3.6-.1-.9 .7-.3 .7 .3 1.1 .9 .7 .9 .2 .9-.3 .5-.8 .4-1.5 .9-.3 1.1 2.7 1.6 .9 8.1-.8 2.7 .8 1-.1 3.6-1.7 1.8 1.6z"/>
<path fill="#5555ff" d="M157.2 71.8l1-.1 1.5-1-.6-.9-3.7-.2-.1 1.1 1 .9zM119.2 67.9l.3-.9-.3-.9-.3 .9z"/>
<path fill="#ff5555" d="M128.3 68.1l.9 .5 8.1-.8 2.7 .8 1-.1 3.6-1.8 1.8 1.5 1.8 .5 1.9-.8 0-.9-.8-.9-.9-1.9-1.1-.7-3.6 .3-2.7-.4-2.8 .6-.9-.2-2.7-1.9-.9-.3-.8 .7-.8 1.9-1.1 .9-2.7-.5-1.1 .5 .3 1.9zM122.9 67.7l.9 .1 .9-.4 .5-1.3-.3-1-1.1-.2-.9 .1-.9 .9 .1 1.1z"/>
<path fill="#3d3dff" d="M156.3 71.3l.9 .3 .9-.1 1.3-.8-.4-.6-.9-.3-1.8 .1-.7 .8z"/>
<path fill="#ff3d3d" d="M129.2 68.3l1.8-.4 4.5-.1 1.8-.3 2.7 .9 1 0 3.6-2.1 .9 .4 1 1.2 1.7 .5 1.4-.5 .1-.9-1.5-2.7-.9-.5-2.7 .3-3.6-.5-2.8 .7-.9-.2-2.7-1.7-.9-.2-1.3 2-1.4 1.5-1.8-.8-1.4 .2-.2 1 .2 .9 .5 .8zM122.9 67.4l.9 .1 .9-.4 .3-1-.3-.6-.9-.3-.9 .1-.8 .8 .3 .9z"/>
<path fill="#2525ff" d="M156.3 71l.9 .4 .9-.1 1.1-.6-1.1-.7-.9 .1-.9 .3-.3 .3z"/>
<path fill="#ff2525" d="M129.2 68.1l1.8-1 .9 .5 .9 .1 2.7 0 1.8-.4 2.7 .9 1 0 3.6-2.3 .9 .2 1.8 1.8 1.7 0 .3-.9-1.1-2.4-.9-.6-1.8 .6-4.5-.7-2.8 .6-.9 0-2.7-1.7-.9 .1-2.6 3.2-.1 .7-.3-.7-1.5-.9-.9 .1-.5 .8 .2 .9zM122.9 67.2l.9 .1 .5-.3 .4-1-.9-.5-.9 .1-.5 .5z"/>
<path fill="#0d0dff" d="M157.2 71.2l.9-.1 .8-.4-.8-.4-.9 0-.8 .4z"/>
<path fill="#ff0d0d" d="M140 68.1l1-.1 1.8-1 1.3-.9 .5-.9 .4-.1-3.1-1-4.6 .8-2.7-1.7-.9 .3-2.2 2.6 0 .9 1.3 .5 2.7 0 1.8-.4zM123.8 67.1l.5-1-.5-.4-.9 .2 0 .7zM128.3 67l.9 .8 .8-.8-.2-.9-.6-.5-.9 .1-.2 .4zM147.3 67.3l.9 .3 .5-.6-.4-1.9-1-.8-.9 .2-.9 .6 .9 1.5z"/>
<path fill="#0000f4" d="M157.2 70.9l1.4-.2-.5-.2-1.3 .2z"/>
<path fill="#f80000" d="M129.2 67.3l.3-.3-.3-1.1-.5 .2 .2 .9zM132.8 67.3l2.7 0 1.8-.8 2.7 1.4 1-.1 2.7-1.7 .5-1-1.4-.6-1.8-.1-3.7 1.1-2.7-1.8-.9 .3-1.2 1.1-.6 1 .2 .9zM147.3 66.7l.7-.6 .1-1-.8-.5-1.2 .5 .4 1z"/>
<path fill="#ec0000" d="M132.8 67.1l2.7 0 1.6-1-1.6-1.5-.9-.4-.9 .2-.9 .7-.6 1zM139.1 67.3l.9 .4 1.9-.5 1.5-1.1 .3-1-2.7-.5-2.2 .5-1.3 1zM147.3 66l.3-.9-.3-.2-.6 .2z"/>
<path fill="#e00000" d="M133.7 67.1l1.7-.1 .9-.9-.8-1-.9-.4-.9 .1-1.2 1.3 .3 .6zM139.1 67.1l.9 .4 1.9-.5 1.2-.9 0-1-2.1-.3-1.6 .3-1.1 1z"/>
<path fill="#d30000" d="M140 67.3l1-.1 1.8-1.1-.5-1-2.3 0-1.3 1 .6 .9zM132.8 66.1l.9 .7 .9 0 1.2-.7-1.2-.9-.9 0z"/>
<path fill="#c80000" d="M140 67.1l1 0 1.4-1-.5-.7-1.9 0-1 .7zM133.7 66.3l.9 .1 .5-.3-.5-.4-.9 .1-.3 .3z"/>
<path fill="#bc0000" d="M140 66.8l1-.1 1-.6-1-.6-1 .1-.6 .5z"/>
<path fill="#b00000" d="M140 66.3l1 0 .4-.2-1.4-.2-.2 .2z"/>
</g>
<path class="bd" d="M61.4 60.1l.2 .1M63.2 62.8l0 .2M65 58.3l-.4 1.1M64.6 59.4l-1 1.4M64.6 59.4l4.9 3.6M69.5 63l-.2 .7M69.3 63.7l-2.6 .6M85.6 106l.1 .2M85.7 106.2l-.3 .3M68.7 58.3l1.2 4.3M69.9 62.6l-.4 .4M69.9 62.6l1.3-.6M72.4 66.8l-1 .8M71.4 67.6l-1.4-2.3M70 65.3l-.7-1.6M70 65.3l-2.3 1.1M71.4 67.6l-.1 .4M71.8 58.3l.9 1.6M74.9 58.3l-.9 1.3M75.7 65.7l.3 .2M76 65.9l-1.5 2.9M75.9 69.3l-.2 0M76 65.9l.5 .3M76.5 66.2l.4 1.2M76.7 68.4l-.8 .9M75.9 69.3l.1 .2M77.2 65.7l-.7 .5M126.1 56.9l2.3 4M128.4 60.9l-4-1.3M79.6 69.5l-.6 .3M79 69.8l-1-1.3M79 69.8l0 .1M79 69.9l-1 .5M79 69.9l.2 .4M79.2 70.3l-.7 1M79.5 70.7l-.3-.4M80.1 72.4M82 72.6l.4 .3M83.7 74.4l.2 .3M83.9 74.7l-.2 .2M81.8 79.7l3.4 .6M85.2 80.3l-.7 4M84.5 84.3l-1.1 .2M84.8 71.8l-.5 2.8M84.3 74.6l-.4 .1M87.2 98.2l1 4.7M88.2 102.9l-.6 1.8M87.6 104.7l-1.2 1.5M86.4 106.2l-.7 0M92.2 71.9l.4 4M92.6 75.9l-1.7 1.9M90.9 77.8l-1.3 0M89.6 77.8l-3.5-2.6M86.1 75.2l1.5-3.8M99 75.7l-3.7 .4M95.3 76.1l-2.7-.2M86.1 75.2l-1.8-.6M87.5 94.4l.3 1.3M87.8 95.7l-.6 .7M84.5 84.3l2.3 .7M86.8 85l.6 .7M87.4 85.7l-2.8 1.4M89.6 77.8l-2 1.7M87.6 79.5l-2.4 .8M87.6 79.5l-.8 5.5M87.4 85.7l.4 .3M87.8 86l.4 .6M88.2 86.6l-1.3 2.1M88.2 86.6l.6 .1M88.8 86.7l1.4 4.5M90.2 91.2l-2.4 2.1M90.9 77.8l.6 1.9M91.5 79.7l-3.7 6.3M86.4 106.2l2.9 2.5M95.3 76.1l2 6.6M97.3 82.7l-.2 .4M97.1 83.1l-2.5 1.7M94.6 84.8l-3.1-5.1M94.6 84.8l-.1 1.2M94.5 86l-.2 .3M94.3 86.3l-5.5 .4M87.8 95.7l4.3 1.4M92.1 97.1l1 1.8M93.1 98.9l-4.9 4M90.2 91.2l.7-.1M90.9 91.1l2.7 3.3M93.6 94.4l0 .2M93.6 94.6l-1.5 2.5M93.1 98.9l1.1 .9M94.2 99.8l.1 2.1M90.9 104.2l-3.3 .5M94.3 86.3M94.3 86.3l-3.1 4.5M91.2 90.8l-.3 .3M94.5 86l6.6 1.6M101.1 87.6l.1 .1M101.2 87.7l0 1.6M101.2 89.3l-4 1.7M97.2 91l-1.6-1.3M95.6 89.7l-1.3-3.4M91.2 90.8l3 1.1M94.2 91.9l-.6 2.5M94.2 91.9l1.4-2.2M97.2 91l.6 3.1M97.8 94.1l-4.2 .5M97.8 94.1l1.7 1.5M99.5 95.6l.3 .5M99.8 96.1l-.4 1M98.2 98.7l-4 1.1M97.1 83.1l3 .7M100.1 83.8l1 3.8M100.1 78.6l-2.8 4.1M101.2 79.2l.4 3.4M101.6 82.6l-1.5 1.2M105.1 80.3l1 1.3M106.1 81.6l-.5 3.2M105.6 84.8M105.6 84.8l-4-2.2M101.2 89.3l.4 .5M101.6 89.8l-2.1 5.8M101.6 89.8l2.6 1.4M104.2 91.2l0 .2M104.2 91.4l.2 1M100.3 96l-.5 .1M105.6 84.8l-4.4 2.9M105.6 84.8l1.3 1M106.3 87.9l-2.1 3.3M124.9 44.4l.4 .3M125.3 44.7l.1 1.1M105.3 91.2l-1.1 .2M106.1 81.6l1.2-.6M128.4 60.9l.1 .1M128.5 61l-8.2 7.2M123.2 73.6l3.4 1.2M126.6 74.8l.1 0M119.9 69l10-1.3M129.9 67.7l-.2 3M129.7 70.7l-3.1 4.1M124.9 51.7l1.7 .3M126.6 52l-.2 .9M126.4 52.9l-1 1.9M127.2 51.3l0 .1M127.2 51.4l-.1 .2M127.1 51.6l-.3 .1M126.8 51.7l-.3-.4M128.5 61l3.6 0M132.1 61l-2.2 6.7M126.8 51.7l-.2 .3M126.4 52.9l3 1.8M130.3 56l2.2 4.9M132.5 60.9l-.4 .1M125.3 44.7l.1 0M125.4 44.7l.7 .2M127.7 45.4l.5 .1M128.2 45.5l-.1 .4M128 46.5M127.3 42l-.4 1.2M126 44.2l-.6 .5M129.5 44.3l-1.2 1.1M128.3 45.4l-.3-.4M128.3 45.4l-.1 .1M127.1 51.6l2.6 1M129.7 52.6l.1 1.1M129.1 48l.1 0M129.2 48l.7 1.6M129.9 49.6l-.3 .2M127.3 51.3l-.1 .1M129.7 47.7l-.5 .3M129.7 52.6l1.4-1.2M131.1 51.4l.4 .7M133.9 55.4l0 .1M133.9 55.5l-.1 4.1M133.8 59.6l-.2 1.2M133.6 60.8l-1.1 .1M129.9 49.6l1.4 .7M131.3 50.3l-.2 1.1M131.8 46.7l.4 .3M132.2 47l.2 2.5M132.4 49.5l-.2 .2M132.2 49.7l-.9 .6M133.6 60.8l5.8 2.9M139.4 63.7l-2.2 6M137.2 69.7l-7.5 1M141.4 98.5l0 .1M141.4 98.6l.2 .8M137.2 69.7l-.2 5.3M137 75l-.8 1.2M132.2 49.7l1 1.3M133.2 51M133.9 55.4l0 .1M134.4 39.3l-.1 .5M134.3 39.8l-.9 .6M136.9 51.5l.7 .1M137.6 51.6l.6 .6M138.2 52.2l0 .1M136.3 56l-2.5 3.6M134.3 39.8l.8 1.4M135.1 41.2l-.5 .6M136.1 47.9l.3 .4M136.4 48.3l-1 1.1M135.4 49.4l-.9-.2M134.5 49.2l-.3-2.1M134.2 47.1l1.9 .8M136.1 47.9l-.9-1.9M135.2 46l.1-.1M135.3 45.9l.8-1M136.1 44.9l1.6 .9M137.7 45.8l.5 1.3M138.2 47.1l.1 .6M138.3 47.7l-1.9 .6M132.2 47l.9-.4M133.1 46.6l1 .2M134.1 46.8l.1 .3M134.5 49.2l-2.1 .3M133.5 45.3l-.4 1.3M133.2 51l.6 .1M134 45.2l1.3 .7M135.2 46l-1.1 .8M135.4 49.4l.2 .9M136.6 38.2l0 .6M136.6 38.8l-1-.1M136.6 38.8l.1 0M136.7 38.8l0 2M136.7 40.8l-.1 .2M136 41.2l-.9 0M135.5 44.3l.6 .4M136.1 44.7l0 .2M138.3 47.7l.7 .6M139 48.3l-.5 1.3M137.8 51.1l-.2 .5M148.3 97.2l.3-1.4M148.6 95.8l1-.9M157.3 88.6l2.7-.3M141.4 98.6l2.3-7.5M143.7 91.1l4-1.6M147.7 89.5l.9 6.3M140.9 59.4l.7 2.3M141.6 61.7l-1.3 1.8M140.3 63.5l-.9 .2M136.2 44.4l-.1 .3M144.9 34.3l0 .1M144.9 34.4l-1.1 2.6M141.1 38.8l-1.1-.3M140 38.5l-.3-.4M139.7 38.1l-.2-2.3M139.7 38.1l-3 .7M136.7 40.8l1.7 .3M138.4 41.1l.3 .7M138.7 41.8l-.9 1.3M137.8 43.1M137.8 43.1l.2 .2M138.4 44.8l-.7 1M138 86.6l2.8 1.3M140.8 87.9l2.9 3.2M138.2 47.1l2.2-2.2M140.4 44.9l1.2 .6M141.6 45.5l-.5 2.7M141.1 48.2l-1.4 .2M139.7 48.4l-.7-.1M140 38.5l-.2 .4M139.8 38.9l-1.4 2.2M138.7 41.8l1.2 .5M139.9 42.3l0 .2M139.7 48.4l.3 2.4M139.2 52.4l-.1 0M139.1 52.4l-.9-.2M139.1 52.4l0 .5M140.2 44.5l.2 .4M139.8 38.9l.5 3M140.2 42.1l-.3 .2M140.3 63.5l5.7 4.2M146 67.7l-.2 5.7M145.8 73.4l-1.6 2.3M144.2 75.7l-7.2-.7M141.8 59.4l0 2.1M141.8 61.5l-.2 .2M136 77.8l8.1 3.1M144.1 80.9l-5.7 3.6M142.1 44.6l.2 .5M142.3 45.1l-.7 .4M140.8 87.9l4-4.4M144.8 83.5l3 6M147.8 89.5l-.1 0M144.2 75.7l1.1 4.9M145.3 80.6l-.1 .1M145.2 80.7l-1.1 .2M141.1 48.2l.6 .4M141.7 48.6l-.3 2.9M145.2 80.7l-.4 2.8M142.3 45.1l.7-.1M143 45l1.9 1.1M144.9 46.1l-2.2 2.6M142.7 48.7l-1-.1M142.7 48.7l.8 .8M143.5 49.5l-.7 3.1M142.8 52.6l-.6 .4M141.8 61.5l.7-.5M142.5 61l7.4-.4M153.2 67.3l-.2 .2M153 67.5l-7 .2M142.8 52.6l1.3 0M144.1 52.6l.1 .1M144.7 58.5M144.7 58.5l-2.2 2.5M145.3 80.6l1.1 .1M146.4 80.7l4.4 8M150.8 88.7l-3 .8M143.6 42.9l-.6 2.1M148.9 34.8l-.2 .4M148.7 35.2l-1.8 1.2M146.9 36.4l-2-2M144 38.7l.9 1M144.9 39.7l-.4 .9M146.9 36.4l.7 1M147.6 37.4l-.5 1.2M147.1 38.6l-1.9 1.1M145.2 39.7l-.3 0M143.5 49.5l.7 .1M144.2 49.6l.5 .7M144.7 50.3l.2 1.5M144.9 51.8l-.8 .8M145.2 39.7l.5 .7M146.4 41.5l0 .1M146.4 41.6l-1.5 .8M144.9 42.4l-.3-.1M144.9 42.4l2 3.5M146.9 45.9l-.1 .1M146.8 46l-1.9 .1M144.7 50.3l2.5 .3M146.7 51.8M146.7 51.8l-1.8 0M146.8 46l0 1.9M146.8 47.9l-2.6 1.7M146.7 51.8l0 .5M146.7 52.3l-.3 .3M146.9 45.9l1.7-1M148.6 44.9l1.5 .6M150.1 45.5l.8 .8M150.9 46.3l.7 2.8M151.3 49.8l-.7 .5M147.8 49.9l-1-2M147.6 37.4l1.9 .4M149.5 37.8l.1 3.6M149.6 41.4l-1 .8M148.6 42.2l-.9-.8M147.7 41.4l-.1-.1M147.5 40.5l-.4-1.9M146.4 41.6l1.3-.2M148.6 42.2l0 2.7M146.7 52.3l.1 .2M147 53.1l.2 .5M147.2 53.6l-.9 .4M149.7 52.5l0 3M149.6 55.5l-2.4-1.9M144.8 58.5l-.1 0M151.2 58.2l-.2 1.4M145.8 73.4l3.3 1.6M149.1 75l4.2 3.8M153.3 78.8l-6.9 1.9M150.8 88.7l2.6 0M149.6 41.4l2.4-.3M152 41.1l.8 1M152.8 42.1M152.8 42.1l-2.7 3.4M148.7 35.2l.7-.2M151.5 35.5l.3 .9M151.8 36.4l-.1 .3M150.3 37.6l-.8 .2M152.3 38.6l-.3 2.5M153 50l.2 .1M153.2 50.1l.5 .5M153.9 52.9l-1.7 3.2M152.2 56.1l-.2 .1M153 67.5l0 .6M153 68.1l-3.9 6.9M153 35.9l-1.2 .5M153.3 78.8l.3 .1M153.6 78.9l1.1 .7M153 68.1l.6 10.8M155.1 66.1l.3 0M155.4 66.1l1.5 3.9M157.5 71.8l1.3 3.5M199.7 98.1l3.3 .9M154.9 38.1l-.1 .2M154.8 38.3l-.1 .2M154.7 38.5l-.7-.1M152.2 56.1l3.3 1.7M155.5 57.8l.3 7.7M155.8 65.5l-.1 .4M155.7 65.9l-.3 .2M150.9 46.3l2-.6M152.9 45.7l1.4 2.6M154.3 48.3l-1.1 1.8M152.8 42.1l2 1.4M154.8 43.5l.1 1.1M154.9 44.6l-2 1.1M152.8 42.1l1.9-2M154.7 40.1l1.2 2.3M155.9 42.4l-1.1 1.1M154.7 38.5l.3 .3M155 38.8l-.3 1.3M155.5 51.8l3.4 3.5M158.9 55.3l-.2 .3M158.7 55.6l-3.2 2.2M154.9 44.6l1.3 1.5M156.2 46.1l-1.9 2.2M156.2 46.1l3.4 .9M159.6 47l-.9 1.6M158.7 48.6l-3.3 2.9M162.7 35.8l-1.1 1.8M161.6 37.6l-.2 0M161.4 37.6l-.4-1.6M154.8 38.3l.5-.4M157 36.6l.4-.4M157.4 36.2l.2 .2M157.6 36.4l-.6 3.2M157 39.6l-2-.8M157 39.6l.3 .3M157.3 39.9l-1.3 2.4M156 42.3l-.1 .1M156 42.3l1.4 .5M157.4 42.8l2.6 4M160 46.8l-.4 .2M158.7 48.6l.2 .9M159.6 53.2l.1 .1M159.4 54.9l-.5 .4M157.3 36l.1 .2M161.4 37.6l-.6 .1M160.8 37.7l-3.2-1.3M155.7 65.9l6.3 1.9M158.7 55.6l1.6 3.7M159.7 61.4l-3.9 4.1M160.8 37.7l-2.6 2.3M158.2 40l-.9-.1M158.2 40l.8 1.6M159 41.6l-1.6 1.2M160 46.8l.2 0M160.2 46.8l.7 .8M160.9 47.6l1.3 2M162.3 49.9l.4 .5M162.7 50.4l0 .1M162.7 50.5l-.7 1.3M161.6 37.6l1.1 1M162.7 38.6l.4 .6M163.1 39.2l-2.5 3.4M160.6 42.6l-1.6-1M160.6 42.6l0 3.5M160.6 46.1l-.4 .7M162.8 55.2l2.5 1M165.3 56.2l.2 .6M165.5 56.8l-3.8 3.5M161.7 60.3l-.6 0M164.3 66.4l.9-1.1M165.2 65.3l.1-.1M161.7 60.3l.8 .8M163.6 62.8l1.6 2.5M160.6 46.1l3.1-1.4M163.7 44.7l1.8 3.1M165.5 47.8l-4.6-.2M163.1 39.2l4.6 2.3M167.7 41.5l-.1 .2M167.6 41.7l-3.9 3M162.7 50.5l1.5 1.2M164.2 51.7l1.5 3.5M165.7 55.2l-.4 1M162.9 61.3l5.2-1.4M162.7 38.6l2.4-2.8M167.3 35.1l2.8 4.1M170.1 39.2l-1.6 1.8M168.5 41l-.8 .5M162.7 50.4l3.2-1.2M165.9 49.2l.8 1.8M166.7 51l-2.5 .7M165.5 47.8l.8 .3M166.3 48.1l-.4 1.1M165.5 56.8l2.6 2.3M171.2 34.2l.9 1.2M172.1 35.4l-.3 2.6M171.8 38l-1.2 1M170.6 39l-.5 .2M168.5 41l5.2 5.2M173.7 46.2l0 .1M173.7 46.3l-3.9 1.7M169.8 48l-1.5-1.3M168.3 46.7l-.7-5M166.7 51l1.4 1.4M168.1 52.4l-2.4 2.8M168.1 52.4l2.4-.5M170.5 51.9l2.3 1.4M172.8 53.3l.1 3.6M172.9 56.9l-1.8 1.5M168.3 46.7l-2 1.4M169.8 48l.7 3.9M170.6 39l4.2 4.2M174.8 43.2l-1.1 3M176.3 72.1l.1 0M176.4 72.1l.8 .3M174.3 66.4M174.3 66.4l0 .2M173.7 46.3l.6 .6M174.3 46.9l.6 4.7M174.9 51.6l-2.1 1.7M172.9 56.9l3 1.6M175.9 58.5l.4 1.3M176.3 59.8l-3.8 4.9M181.7 32.4l-2 5.6M179.7 38l-7.9 0M172.1 35.4l1.2-1.9M174.9 51.6l2.4-.1M177.3 51.5l1.7 5.2M179 56.7l-3.1 1.8M179.7 38l.3 1.5M180 39.5l-1.6 2.7M178.4 42.2l-3.6 1M178.4 42.2M178.4 42.2l-1.3 4.1M177.1 46.3l-2.8 .6M176.3 59.8l.6 .7M176.9 60.5l-1 5.8M175.9 66.3l-1.6 .1M197.4 32.1l-5.8 5.6M191.6 37.7l-1.7 .4M189.9 38.1l-4.5-6.7M189.9 38.1l-.8 2.7M189.1 40.8l-2.7 1.8M186.4 42.6l-1.5 .3M184.9 42.9l-.6-.1M184.3 42.8l-4.3-3.3M175.9 66.3l1.3 .3M177.2 66.6l1.1 1.2M178.3 67.8l-2 2.9M176.3 70.7l-.8-.5M176.3 70.7l.1 1.4M178.3 67.8l.5 .3M178.8 68.1M178.4 42.2l2 4.4M180.4 46.6l-2.5 .4M177.9 47l-.8-.7M184.3 42.8l-2.8 4.3M181.5 47.1l-1.1-.5M177.9 47l.4 4M178.3 51l-1 .5M179 56.7l.1 0M179.1 56.7l1.1 4.2M180.2 60.9l-.7 .9M179.5 61.8l-2.6-1.3M178.3 51l.7 0M179 51l3.4 3.9M182.4 54.9l-.1 .3M182.3 55.2l-2.2 1.4M180.1 56.6l-1 .1M179.5 61.8l.4 1.2M179.9 63l-2.7 3.6M181.5 47.1l.3 2M181.8 49.1l-2.8 1.9M178.8 68.1l1-.7M179.9 63l1.2 .5M181.1 63.5l1 1M182.1 64.5l-.2 .6M182.3 55.2l.6 1.3M182.9 56.5l1 3.6M183.9 60.1M183.9 60.1l-2.2-.3M181.7 59.8l-1.6-3.2M180.2 60.9l1.5-1.1M183.9 60.1l0 .2M183.9 60.3l-2.8 3.2M181.8 49.1l3.4 1.6M185.2 50.7l-1.8 3.6M183.4 54.3l-1 .6M184.9 42.9l1.1 7.2M186 50.1l-.5 .5M185.5 50.6l-.3 .1M182.1 64.5l1.2 0M183.9 60.3l.6 3.9M182.9 56.5l5.7 2M188.6 58.5l.3 .4M188.9 58.9l-5 1.2M183.4 54.3l4.3 2.6M187.7 56.9l.9 1.6M188.9 58.9l.6 .4M189.5 59.3l-2.4 5.3M187.1 64.6l-.9 .4M186.2 65l-.1-.1M186.2 65l-.1 .1M204.6 88.8l.5 2.6M205.1 91.4l-5.5 4.9M185.5 50.6l2.1 3.1M187.6 53.7l.1 3.2M187.1 64.6l2.1 1.8M189.2 66.4l-1.3 1.1M189.7 70.9M189.7 70.9l.1 .1M189.1 40.8l1.3 1.4M190.4 42.2l-.5 6.8M189.9 49l-.2 0M189.7 49l-3.3-6.4M191.6 37.7l2.9 1.6M194.5 39.3l-.6 5M193.9 44.3l-3.5-2.1M187.6 53.7l4.1-1.1M191.7 52.6l.6 5.6M192.3 58.2l-1.4 .9M190.9 59.1l-1.4 .2M190.9 59.1l1 3.2M191.9 62.3l-2.5 4.3M189.4 66.6l-.2-.2M189.7 49l-3.7 1.1M189.9 49l2.4 .9M192.3 49.9l-.6 2.7M189.4 66.6l.5 .6M189.9 67.2l.1 2.9M190 70.1l-.2 .4M193.9 44.3l.9 .8M194.8 45.1l-.1 1.6M194.7 46.7l-.5 2.3M194.2 49l-1.9 .9M194.2 49l.7 .4M194.9 49.4l2.1 7.1M197 56.5l-2.5 1.7M194.5 58.2l-2.2 0M191.9 62.3l1.8 3.2M193.7 65.5l0 .2M193.7 65.7l-3.8 1.5M194.5 58.2l2.6 4.1M197.1 62.3M197.1 62.3l-3.4 3.2M193.7 65.7l.1 0M193.8 65.7l-.1 .4M193.6 66.5l-.4 2.9M193.2 69.4l-1.9 .4M190.1 70.1l-.1 0M218 33.4l-5.7 2.6M212.3 36l-1.8-1.9M202.6 32.7l-.3 4.5M202.3 37.2l-.3 1M202 38.2l-2.3 1.8M199.7 40l-5.2-.7M197.1 62.3l-.5 2.6M193.9 65.8l-.1-.1M193.2 69.4l1.6 1M194.8 70.4l-1.2 1.4M193.6 71.8l-.1-.1M189.9 71l-.2-.1M193.6 72l0-.2M194.8 70.4l.9 .1M194.7 46.7l4.3-.1M199 46.6l1.3 .3M200.3 46.9l-1.8 3.3M198.5 50.2l-3.6-.8M197.1 62.3l1.3 .4M198.4 62.7l.1 .2M198.5 62.9l-.1 1.3M197 56.5l4.9-.8M201.9 55.7l-1.5 5.4M200.4 61.1l-2 1.6M199.7 40l-.9 1.6M198.8 41.6l-1.1 1.1M197.7 42.7l-2.9 2.4M212.3 36l.4 1.7M212.7 37.7l-.2 4.5M212.5 42.2l-10.2-5M202 38.2l3.4 7.6M205.4 45.8l-.5 1.3M204.9 47.1l-4.5-.3M200.4 46.8l-1.6-5.2M198.5 50.2l3.6 3.2M202.6 55.2l-.7 .5M197.7 42.7l1.3 3.9M211.6 87.7l-3.8 4.5M207.8 92.2l-2.7-.8M203.3 59.9l-.5 1M201.9 62.2l-1.5-1.1M200.4 46.8l-.1 .1M198.5 62.9l.3 .2M198.8 63.1l.5 .7M204.9 47.1l.1 .5M205 47.6l-.7 5.4M200 63.6l-1.2-.5M212.5 42.2l.3 .9M212.1 43.6l-6.7 2.2M205 47.6l6.5 1.9M211.5 56.5l-1.2 0M207.7 56.1l-1.2-.3M207.8 92.2l4.4 2.9M212.2 95.1l-.5 4.1M213.5 45.1l.6 2M212.2 95.1l.4-.1M212.6 95l4-.5M216.6 94.5l2.9 6.9M214.2 89.1l-1.6 5.9M216.4 87l-.7 0M212.7 37.7l8.8-.4M221.5 37.3l-2.2 3.6M220.7 34l1.4 2.6M222.1 36.6l0 .1M222.1 36.7l-.6 .6M226.2 34.8l-4.1 1.8M220.2 92l-3.6 2.5M222.1 36.7l1.9 2.3M224 39l.2 .7M224.7 42.6l.6 2.8M234.5 39.6l3.9-3.9M224 39l1.8 .5M227.9 40.2l1.6 .5M55.9 47.7l16.9 0 0-.3 3.6 .9 2.7 1 1.3 .7 0 1.4-.3 .7 2.4-.5 0-.4 1.5-.4 .9-.6 2.1 0 .6-.4 .3-.7 .5-.4 .7 .1 .1 1 .5 .4M59.5 58l1.4 0 2.3 .7 1.7 0 0-.3 1 0 1.2 1.4 .9 .3 .9-.5 1.2 1.5 1.4 1M55.3 49.4l3 .2 1.2 0M59.5 47.7l0 4.4M55.2 52.1l8 0M60.2 47.7l0 .9 .9 1.3 2.1 .6 0 2.2 1.2 0M63.2 50.2l4.2 0M63.2 52.7l4.2 0M67.4 47.7l0 5M57.7 52.1l0 1.8 3.3 2.5 0 1.4M61.4 52.1l0 3.1-.4 .5M61.4 55.2l11.7 0M64.4 52.7l0 6M68.6 52.7l0 2.5M68 55.2l0 3.1-2.2 0M68 55.5l1.8 0 0 1.2 3.3 .6 .3 .4 0 2M67.4 49.6l4.5 0M67.4 51.4l4.5 0M68.6 53.3l4 0M71.9 47.7l0 2.2 0 1.2 0 .6 .4 1.2 .8 .4 0 2.2 0 1.8M71.9 51.1l3.2 0M72.3 52.9l2.7 0M73.1 55.5l2.9 0M73.4 57.7l1.7 0M75.1 51.1l.4 .6-.5 1.4 1.1 2.1-.3 1.2-.6 1.3-.3 1.2 1.1 0 .1 .5M75.5 51.7l1.7 0M77.3 52.2l0 2.3M79 52.2l0 1.7M76.4 55.2l.9-.6 .9-.1 .8-.6 1.3 .4 1.2-1.4M77.3 52.2l2.5 0M76.1 55.4l4.7 0 3.5 0M75.8 56.4l3.5 0M76.9 56.4l0 2.5-.1 .4M78.5 56.4l.3 1.9 0 .6-1.5 0M78.8 58.9l1.9 .3 .3-.1M80 56.4l1.3 1.8M79.3 56.4l2.1 0 1.3 .7M80.3 54.3l.5 .7 .9-.1 1.4-1.2 .1-.2M81.6 53.5l2.8 0M81.9 52.1l2.8 0M81.6 52.1l0 1.4M85.8 50.2l0 2.5M85.8 52.1l1 0M86.4 50.2l0 1.4M87.3 50l.2 1.4M85.9 51.6l1.5 0M75.6 49.3l1.6 .6M74.4 49.1l-.2 .8 .9 1.2M57.7 40.8l0 3.9 3.7 3M63.8 40.8l0 6.9M68.6 40.8l0 6.9M45.1 40.8l27.8 0M48.1 35.2l2.4 3.2 4.8 2.4M45.1 34.9l0 5.8 2.4 .8 1.8 .6 2.4 1.4M72.8 47.7l0-2.4 3.6-2.5M82.2 46.1l0 2.8 3 1.1M68.6 40.8l0-2.4-4.8-.7-6.1-1.8 0-1.3M95.7 46.2l-4.2-.4-1.8-.3 1.8-1.2-1.8-.3 1.5-3.3M89.2 48.9l1.1-.6"/>
<path class="gr" d="M39.6 23V133.3M57.7 23V133.3M75.8 23V133.3M93.9 23V133.3M112 23V133.3M130.1 23V133.3M148.2 23V133.3M166.3 23V133.3M184.4 23V133.3M202.5 23V133.3M220.6 23V133.3M21.5 115.6H238.5M21.5 96.9H238.5M21.5 78.2H238.5M21.5 59.5H238.5M21.5 40.9H238.5"/>
<path class="co" d="M28.8 37.4l1.2-2.1 1.8-.7 3.7-.8 2.9 .3 4.3 .5 2.4 .3 3 .3 3.6-.6 1.2-.1 2.4 .4 4.2 .5 4.3 .5 2.4-.3 4.8 .4 1.8-.4 .6-2.1 2.4 2.1 3-.7 1.9 1.6-2.5 .6-.6 1.3-4.2 1.8 0 1.3 .9 1.2 2.7 .6 3.4 .7 .3 1.5 1.5 .6 .4-1.5 1.1-1.3 .3-1.8-.9-2.1 2.4 0 2.4 .8 1.2 1.6 1.8-1.1 1.8 1.7 .9 1.3 2.1 1.5 .6 .9-2.4 .9-3.6 0-2.4 1.6 3-.8 .3 1.5 2.1 .6-2.7 1.2-.9-.8-2.1 1.1 .3 .8-2.4 .8-.6 1.2-.6 1 .3 1.1-1.5 .9-1.8 1.4 .3 2.2 .3 1.5-.9 0-.8-1.2-.5-1.5-1.2 0-2.1-.2-.3 .7-.9-.1-1.8-.2-1.8 1.1-.3 2 0 1.6 .8 1.7 1 .7 2.1-.3 .3-1.5 2.1-.3-.3 1.9-.4 1.5 2.5 .2 .5 .5-.3 2.5 1.1 1.2 1.5-.3 1.2 .5 .9-.4 .3-.7 .9-.5 1.2-.7 .6 .9 .6-.7 1.2 1 2.4-.1 1.2 .1 .6 1.2 1.2 .3 1.2 1.3 1.8 .2 1.2 .5 .6 .5 .6 1.4 0 1.1 1 .6 2.4 1 2.1 .3 1.5 .4 2 1.1 .1 1.6-1.2 1.8-1.2 1.6 0 2.7-.9 1.7-.9 1.5-1.8 .5-2.1 1.4-.2 1.5-1.4 1.6-1.2 1.7-.9 .8-1.2 .8-.6 1.2-2.7 .5-.2 1-1.6 .2 .6 1-.9 1.5-1.2 .9 .9 1-1.5 1.5-.3 1.2 .3 1.3 .9 .3-1.8 .2-1.2-.8-1.5-1.2-.6-2.5 .9-2.5 .1-1.6 .2-2.8 1.1-2.5 .1-3.1 .6-2.5 .1-3.4-1-.9-2.1-1.3-.9-1.8-1.2-2.5-1.4-1.9 .5-1.2 0-1.6 .3-.9 .6-.5 .9-1.4 .1-1.9-.7-.9-.9 .8-.9-.5-1.6-.9-1-.3-.2-1-.9-.9-1.2-.3-1.5-.6-1.5-1-1.2 .2-1.2-.3-1.5-.8-1.5-.6-1.2-1.3 .2-.8-.8-.9-1.2-1.4-1.2-1.2-1.2-1.3-1.2-1.2 .6 1.2 .6 1 .9 1.5 .9 1.6-.6-.2-.9-.9-1.2-1.7-.3-1.3-1.2-1.2-.5-.8-.8-.8-1.2-.3-.9-1.4-.3-.6-.9-1.6-.1-1.7 .1-2.1-.4-1.2 1 .1-1.2-1.1-1.5-.6-1.5-2.2-1.8-1.6-1.8-.9-2.4-.8-2.4-.2-1.5-.6-2.2 0-.9 1-1.5 .6-1.5 .9-1.5 .8-2.1 .5-.9 .1 1.8-1.1 1.8-1.2-2.4-.3-1.5-1-.6-.9 .6-.7 2.1-.8-2.1-.1-1.2-.1-.9-.5zM86.1 29.6l4.2-1.5 3.6-.9 6-.4 6.1-.6 6 0 4.8 .6 2.4 1-.6 1.2-.6 1.9 .6 .9-1.8 1.3 0 1.2-2.4 1.3-3.6 .3-1.8 1.2-2.4 .3-1.2 1.6-1.2 1.8-1.8-.6-1.8-.9-1.3-1.3-1.5-1.2 .3-1.2 1.2-1-1.8-.6-1.2-1.6-1.8-1.2-4.2-.3-3-.6zM115.6 37.4l1.2-.5 3.7-.1 1.5 .8-.9 .6-2.2 .5-2.4-.2 .3-.5zM94.3 48.6l2-1.2 .3-1.3 1.5 1.4 .2 1.1-.8 .5-1.2-.5zM124.7 55.2l.1-1.3-.4-.6 .4-1.2-.3-.7 .8-.4 2.4 .1 1.5 .1 .2-1 0-.8-.8-.6-1.2-.5 1.5-.4 .3-.6 .9 .1 .9-.4 .6-.5 .9-.4 .5-.9 1.3-.3 .9-.3 0-.9-.2-.8 1.4-.6-.1 .9-.2 .8 .6 .6 1.2-.3 .8 .3 1.3-.3 1.3-.2 .9 .2 .7-.6-.1-1 1.5-.1 .3-.7-.3-.6 2.7-.1 1.2-.4-1.8-.3-2.5 .4-.8-.5-.1-1.4 2.2-1.3 .3-.3-1.8-.2-.6 .8-1.5 .7-.9 .8-.2 .9 .9 .4-.4 .7-1 1.2-.3 .5-1 .5-.9-.2-.8-1.2-.1-.8-.5-.3-1.2 .8-1.2 0-.6-.5-.3-1.3 .2-.7 1.6-.8 1.5-.7 1.2-.9 1.2-1.1 .9-.6 1.9-.8 2.7-.5 1.5-.1 1.5 .1 1.5 .3 1.2 .7 1.8 .1 2.7 .9 .3 .8-1.8 .2-2.1-.3-1.2-.3 1.4 1.5 1.3 .4 1.8-.4 2.4-.9 .3-1.5 .9 .4 2.4-.1 2.2-.3 1.5 0 1.8-.1 1.2-.7 2.4 .3 2.1 .6-.9-1.1 .9-.9 .9-1.1 .9 .3 .6 1.1 .2 1.4 .7 .8 .9-1-1.2-1.5 1.5-.4 2.4 0 .3-.9 4-.3-.3-.5 2.1-.4 4.2-.3 2.4-.3 1.8-.8 1.8 .5 1.8 .2 2.1 .5-.9 1.1 .9 .5 2.8-.2 3.6 0 2.7 .5 .6 1.1 1.2 .1 2.1-.5 3-.5 3.6 .1 3.1 .6 3.6 .2 2.4 .9 3.6 0 1.8-.3 3.6 .1 2.4 .6 0 2.4-.9 .3-.9 1.3-2.4 .6-1.8 .9-2.4 0-1.5 .2-.3 1.2-.6 1-1.2 1.4-.9 .7-1.1 1.2-.4-1.3-.3-1.9 .8-1.1 1.3-.7 1.8-1.6-1.2-.2-2.4 .2-1.2 1.4-2.4-.2-3.1 .2-1.8 .2-2.4 1.5-1.5 1.1 .9 .6 2.1 .4 .5 .7-.5 2.2-1.2 1.1-1.8 1.9-1.8 .6-1.1 .3-.6 .8-1.3 .8 .6 .9 .6 1.4-.2 .5-1.6 .5-.1-1.3 .2-.8-.8 0-.4-1.2-1.6-.4-.5 .8 .2-1.1-1.5 1-.8 .4 .6 .8 2.3 0-1.4 .8-.6 .7 .9 1.5 .7 .9-.2 .6 .3 .6-.9 1.3-.6 .9-1.2 1.1-2.2 .9-1.8 .5-.4 .6-.5-.6-.9 0-.9 .6-.5 1 .7 1.2 1.2 1.1 .3 1.7-.3 1-1.2 .3-1.1 1.1-.1-1-1.1-.4-.3-.8-1-.7-.5 .1-.5 1.7 .7 1.3 .4 .9 .8 .5 .7 1 0 1.2 .4 .7-.7 0-1-.8-.6-1.4-.1-.9-1.1-.9 0-1.3 .2-1.9-.6-2.2-1-.2-1 .5 .1-1.5-.9-.9-.6-1.3-.9-.1-1.2 .3-1.1 .3-1 1.1-1.7 1.8-1.2 .7 0 1.5-.3 1.7-.8 .8-.6 .6-.7-.9-.8-1.9-.6-1.5-.7-2.5-.1-1.4-1.3 .3-.9-1 .7-.4-1-.3-.7-.7-.5-.5-3 .1-2.5-.3-.6-.9-1.1 .3-1.9-.8-.7-1.3-1.1 0-.3 .6 1.2 1.6 .5 .6 .5-.2 0 1 1.5 .1 1.2-.9 .1-.5 .2 1.1 1.4 .7 .6 .7-.8 1.2-.5 .9-1.3 .8-2 1.2-2 1-2.4 .8-1 .1-.4-1.7-.1-1-.8-1.2-1.2-1.6-.4-1.4-.8-1.1-1.2-1.5-.3-1-.3 1.2-.4-.4-.5-1 .6 1.6 .1 .4 1 1.7 .9 1.2 .2 1.9 .8 .7 .6 1.7 1.1 .8 1.1 .9-.1 .5 .8 .7 1.8-.5 2.3-.4-.1 .9-.7 1.8-1.2 1.9-1.2 1.6-1.5 1.5-1.2 .9-.9 1-.5 .9-.2 1.3 .4 .6 .2 1.2 .4 .6 .1 2.5-1 1.3-1.3 1.1-1 1.7 .2 1.5-1.5 1-.1 .6-.2 1.2-.9 1-.6 .9-1.2 .9-1.2 .5-1.8 .2-1.8 .5-1-.4-.1-1.4-.7-1.5-1.1-1.6-.5-2.5-.9-1.5-.7-1.9 .3-2.2 .9-1.5-.3-1.6-.6-1.9 0-.6-.8-.7-1-1.8 .1-1.2 .2-1.4-.6-.8-1.1 .1-.9-.4-.6-.8-1.5 0-1.8 .7-1.2 0-1.2 0-1.5 .5-1.2-.7-1.2-.9-.9-.9-.3-.7-.9-.9-1.1-1-.5-1.4 .7-1.1 .1-1.8-.5-1 .7-1.7 .9-1.4 .9-1 1.2-.7 .7-.8 .1-1.5 1-.7 1-.9 .5-.5 .9 .4 1.2 .1 1.2-.5 1.8-.6 2.4-.1 1.7-.2 .7 .2-.3 .6 .3 .4-.6 .7 .7 .6 1.1 .3 1.4 .3 1.1 .8 1.2 .4 .6-.4 0-.8 .9-.4 .9 .2 1.2 .5 2.4 .6 1.2-.5 .8 .2 1.1 0 .5-1 .5-1.1 0-1 .2-.4-1 .1-1.2 .4-1.2-.2-1.5-.1-.4-.5-.5-.7-.1-.9 .2-.2 1.4-.4 0-.1 1.2 0 1.2-.5 1.2 0 1.8 .6 1.2 0 .9-.3 .1-.7-1-.5-1.2-.7-.3-.4 .9-1.3-1.8 .3-.3 .9 .6 0-.6 .1-.9 .5-.4-.2-.5-.5 .6-.3-1.2-.4-.6 .4-.6 .5-.5 .7-.5 .6 .1 .7 .6 .4-.6 .2-.7 .2-.4 .1-.4-.2-.9 0-.6 .2-.3 .2 .3 .4-.2 .4 .8 .5-.6 .4-.2 .6-.6-.2-.3-.6 .2-.3-.8-.8-.4-.7 0-.7-.6-.5-.9-.5-1-.4-.3-.6-.4-.2-.4-.2-.8 .2 .1 .6 .7 .5 .5 1 .9 .3 1.6 .8-.9 .5-.4 .5-.4 .3 0-.9-.5-.4-.6-.4-.9-.5-.9-.6-.4-.8-.8-.3-.9 .3-.9 .5-1.2-.3-.5 .3 0 .7-1.3 .6-.6 .7-.2 .7-.3 .7-.7 .6-1.5 0-.7 .4-.4-.5-.7-.3zM198.5 91.9l.3 2.5 .6 2.5 0 2.2 .6 .9 1.3 0 1.8-.8 1.8-.5 1.2-.4 1.8-.4 1.5-.1 1.5 .8 1.1 1.3 1-1 .2 1.4 1 .3 .6 1.3 1.8 .5 1.7 .1 1-.8 1.3-.3 .6-2 1.2-1.6 .3-2.2-.3-1.5-.9-1-.9-1-.7-1.1-1.5-1-.3-1.2-.4-1.3-1.1-.6-.6-2-.5 1.4-.1 1.9-.6 .9-.9-.4-.9-.5-1.2-.7 .8-1.6-1.1-.1-1.5-.5-.9 .5-.9 1.6-.9 .1-.6-.7-1 .4-1.1 1.3-.9 1-.6 .8-1.2 .3-1.2 .4-1.6 .6zM75.8 33.5l3-1.2 3.1 0 2.4 .8 3 .9 1.8 .6 .9 1 2.7 .9 .3 .3-1.5 .9-.6 1 .3 .6-.9 .3-1.2-.5-1.8-.4-1.5-.5-2.4 0-.3-.8 1.8-.3 1.2-.6-.3-.6-1.8-.7-1.5-.6-3.1 0-2.4-.1-.6-.5zM74.6 30.6l1.8 .1 4.3 .1 2.4-.2 1.2-.8 1.8-.5 1.8-.7 3-.5 1.8-.7-1.2-.6-3.6-.3-4.8 0-4.9 .5-3.6 .6 1.2 .6 1.8 .6 .6 .5-2.4 .6zM71.6 28.3l3-.7 2.4 .4 .6 .8-2.4 .7-2.4-.2zM66.2 29.3l3-.5 1.8 .3-1.2 .7-2.4 0zM72.2 31.1l2.4 .7 5.5 0 1.8-.2-.6-.8-3.1-.2-3.6-.1-2.4 .2zM69.2 30.9l2.4-.2 .6 .8-1.8 .2zM59.5 31.4l1.9-.8 3.6-.1 2.4 .5-1.2 .5-2.4 .1zM55.3 30.7l3-.8 1.9 .5-2.5 .6zM54.4 33.4l.6-1.3 2.4-.3 3.1 .6-1.3 .7-2.1 .7zM58.3 33.7l.9-.8 2.2-.3 3.6 0 2.1 .3 2.1 .9 0 .8-1.2 .6-2.4 .2-3.6 .3-2.8-.5-.6-.9zM68.6 32.8l1.8-.6 1.5 .6-.3 .8-1.8-.1zM72.2 32.3l3-.2 .6 .7-2.1 .6zM69.8 35.2l2.1-.4 .6 .6-1.8 .2zM77.6 38l2.1-.8 1.6 1.2-1.9 .8-1.2-.5zM80.1 39.1l1.2 .2-.6 .2zM78.9 64.6l1.8-.8 1.2 .1 1.8 .9 1.7 .8-2 .2-.3-.5-1.8-.5-1.2 0zM85.2 65.9l1.8-.1 1.9 .8-1 .3-.9 .3-1.8-.5zM82.9 66.7l1.3 .3-.8 .1zM89.6 66.7l.9 .1-.2 .2zM83.1 61.6l.6 .4-.5 .9-.3-.6zM126.7 47l1.6-.3 2.6-.3 .2-1-.9-.5-.4-.6-.7-.7-.3-1.1 .2-.2-1.3 0 .5-.6-1.1 0-.7 .7 .3 .9 .5 .2-.1 .6 1.1-.1 0 .6-.9 .4 .3 .6-.6 .4 1.1 .2-.7 .2zM126.5 45.7l-.1-1 .3-.5-.9-.4-.8 .3-.9 .4 .2 .7-.4 .8 1.4 .1zM135.3 52.7l.6 0 0 1.1-.7 .1 0-.6zM135.3 51.7l.5-.2 0 .9-.5-.1zM137.6 54.5l1.9-.1-.3 1-1.6-.6zM144.3 56.2l1.6 .1-1 .2zM149.6 56.4l1.4-.4-.5 .7zM178.3 72.1l1.2 1.4-.8 1-.5-1.4zM208.6 57.3l1-.7 1-.5 1.5-.1 .9-.8 1.2-.8 .3-1.4 .9-.5 .3 1.1-.6 .9-.1 1.3-.6 .6-.8 .3-.9 0-.9 .6-1.5 0-.8 1.3-.8 .2-.3-1zM214.5 52.4l.9-.7 1.2 .4 1.2-.9-.6-.4-1.6-.9-.2 1.2-.6 .3zM215.7 49.6l.9-.3-.3-1.6 .9 0-.9-1.6 0-1.5-.3-.2-.2 2.1-.2 1.5zM202.9 64.5l.7-1.9-.5-.1-.6 1.1zM195.6 66.2l1.1-.5 .3 .3-.8 .9zM202.8 66.7l1 0-.1 1.5 1.1 1.4 .1 .8-1.5-.8-.6-.3-.5-1.3zM203.7 73.8l1.2-.6 .9-1.1 .6 1.7-.7 .9-1.1-1.2zM203.7 71l.6 1 1.2-.6 0-1-.9 0zM195.8 77.3l.6-.2 .6-.5 1.2-.4 1.5-1.3 1-1.1 1.2 1.2-.6 .5-.3 1.5 .8 .6-.8 .6-.7 1.2-.3 1.2-.9 .1-2.1-.6-.4-.3-.8-1zM187.6 74.8l1.3 .2 1.7 1.6 1.9 1.3 .6 1.2 .9 1-.1 1.7-.8 .1-1.5-1.2-.9-1.8-1.1-1.8-1.3-1.2zM193.5 82.4l.8-.5 1.2 .5 1.5-.2 1.1 .4 1 .5-1.5 .3-2.4-.3-1.2-.3zM199.1 83.2l.9 .4 1.9-.1 .6 .2 1.7-.4-2.9-.1zM204.6 84.6l.9-1 1.4-.2-1.7 1zM202 81.6l.7 .1 .1-1.6 .3-.3 .9 1.2 .4-2.2-1.3 0 .6-1.1 1.9-.4-.4 .7-2.7-.2-.3 .7-.5 1.4zM207 77.1l.6 .2-.3 .9-.4 .3zM206.4 80.1l.9 .5 1.2-.2-.6-.5zM209.1 78.8l.9-.4 1.2 .5 .6 1.4 1.5-1 1.8 .5 2.4 .9 .5 .9 1 .5 .5 1.4 1.1 1.1-1.6-.2-.9-1.2-1.2-.3-.6 .9-1.2 .1-1.2-.7-.7-1.6-1.7-.8-1.2-.1-.6-.7 .9-.4zM220.6 81.6l1.2-.8 .3 .4-.6 .6zM223.6 81.9l.5 .5 .7 1.1 1.2 .3 1.1 .5 .4 .4zM159.8 85.7l.8 2.1-.7 1-.6 2.2-.7 2.6-1.4 .4-.8-1.2-.2-1.2 .6-1-.2-1.5 .6-.9 1.2-.5 .6-1.1zM136.7 29.1l3 1.5 3.4-.5 3.3-1.4-3-.5-3 .2-3.7 .1zM161.5 33.7l2.4 .5 1.2-.1-1.5-1 1.5-1.3 3.6-.8 2.7-.6-1.5-.1-4.2 .6-1.8 .9-1.5 1zM187.4 28.7l3 .6 2.4-.4-2.4-1.1-3 .2zM212.7 31.5l3-.3 2.4 .2 2.5-.1-2.5-.5-3.6 .1zM158.4 28.1l4.9-.6 4.8 .4-3.6 .5zM233.8 99.6l1.2 .5 1.2 1.4 1.5 .2-.6 .9-.4 .8-1.1 .7-.2-1.1-.5-.4 .5-1.4-1-1.2zM234.3 103.5l.9 .5-.6 1-.3 .5-1.1 .6-.6 .7-.9 .4-1.2-.4 .9-1.1 1.8-1.4zM229 90.8l.9 .5 .9 .8-.3-.1zM237 89.1l.7 0-.1 .4-.5 0zM171.6 108.5l.9 .2-.5 .4zM217.5 103.5l2 .2-.2 1.4-.9 .2-.7-.8zM93 109.9l2.1 .2-.9 .7-.9-.2zM163.4 91.2l.3 .3zM164.7 90.6l.3 .3zM119.5 60.5l2.5-.4zM211.1 81.9l.3-.3-.2 .8zM87.9 111.2l.9 0-.3 .6zM31.8 127.4l3 .3-1.8 .5zM84.9 123l3-.3-1.2 .9zM36 65.6l.6 .5-.4 .3M33.7 64.4l.3 .1M34.7 64.8l.3 .1M24 45.8l2.4-.3 2.4-.6 1.2-.3M21.6 46l1.8 0M37.8 42.2l.6 .3-1.2 .3M21.6 35.3l2.4-.5 2.4-.1 1.2 .1-.3 .8-.9 1 1.4 .5-1.1 .4-.9 .7-1.8-.4-1.5-.4-.9 .3M21.6 33.7l1.2 .2 .3 0-1.5 .2M237.7 33.9l.9-.2 0 .4M21.6 130l7.2 0 3-.8 3-.3 1.8-.6 3-.3 1.9-1.6 1.2-.9 3-.5 6-.7 6-.3 6.1 0 3-.7 3-.6 3 0 6 0 4.3-.3 2.4-.6 2.4-1.3 2.4-1.2 1.8-.9 2.4-1 1.2 .2-.6 .8-1.8 .9-.6 1.2-.6 1.3 .6 1.2 0 1.3-2.4 1.2-2.4 .6-1.2 .7 3.6 .6 4.8 .6 4.8 .9 6.1-.6 4.2-1.2 1.8-1 3-.9 4.2-1.6 4.9-1.2 3-.3 3-.9 6 .3 6.1 0 6-.7 1.8-.9 4.2 .6 6-.9 3.1-.6 3 .9 3.6 .5 1.2 1.4 1.2 .6 1.2-.9 2.4-.3 2.4-1.6 4.9-.3 4.2-.3 3 0 3 0 3 0 3 .3 3.1-.3 6 0 6 0 3 .3 3.1 .3 4.8 .6 4.2 1.9 3.6 .6-.6 .9-2.4 1.9-1.8 1.3 3 .9 4.2 1.5 3 .8M158.4 50.2l1.2-1 1.6-.3 .9 1-.9 .6-.2 .8 .9 .8 .2 .9 .6 1.2-.2 1-1.6 .2-1.3-.6 .3-1.6-.9-1.1-.3-1z"/>
<rect x="21.5" y="23.0" width="217.0" height="110.3" class="frame"/>
<text transform="translate(39.65 18.80) scale(1 1.14)" class="tk" text-anchor="middle">150°W</text>
<text transform="translate(39.65 140.80) scale(1 1.14)" class="tk" text-anchor="middle">150°W</text>
<text transform="translate(75.83 18.80) scale(1 1.14)" class="tk" text-anchor="middle">90°W</text>
<text transform="translate(75.83 140.80) scale(1 1.14)" class="tk" text-anchor="middle">90°W</text>
<text transform="translate(93.92 18.80) scale(1 1.14)" class="tk" text-anchor="middle">60°W</text>
<text transform="translate(93.92 140.80) scale(1 1.14)" class="tk" text-anchor="middle">60°W</text>
<text transform="translate(112.01 18.80) scale(1 1.14)" class="tk" text-anchor="middle">30°W</text>
<text transform="translate(112.01 140.80) scale(1 1.14)" class="tk" text-anchor="middle">30°W</text>
<text transform="translate(130.10 18.80) scale(1 1.14)" class="tk" text-anchor="middle">0°</text>
<text transform="translate(130.10 140.80) scale(1 1.14)" class="tk" text-anchor="middle">0°</text>
<text transform="translate(148.19 18.80) scale(1 1.14)" class="tk" text-anchor="middle">30°E</text>
<text transform="translate(148.19 140.80) scale(1 1.14)" class="tk" text-anchor="middle">30°E</text>
<text transform="translate(166.28 18.80) scale(1 1.14)" class="tk" text-anchor="middle">60°E</text>
<text transform="translate(166.28 140.80) scale(1 1.14)" class="tk" text-anchor="middle">60°E</text>
<text transform="translate(184.37 18.80) scale(1 1.14)" class="tk" text-anchor="middle">90°E</text>
<text transform="translate(184.37 140.80) scale(1 1.14)" class="tk" text-anchor="middle">90°E</text>
<text transform="translate(202.46 18.80) scale(1 1.14)" class="tk" text-anchor="middle">120°E</text>
<text transform="translate(202.46 140.80) scale(1 1.14)" class="tk" text-anchor="middle">120°E</text>
<text transform="translate(220.55 18.80) scale(1 1.14)" class="tk" text-anchor="middle">150°E</text>
<text transform="translate(220.55 140.80) scale(1 1.14)" class="tk" text-anchor="middle">150°E</text>
<rect x="53.9" y="152.4" width="152.3" height="8.1" fill="url(#cbg)"/>
<rect x="53.9" y="152.4" width="152.3" height="8.1" class="cbf"/>
<path d="M70.56 160.5v2" class="tick"/>
<text transform="translate(70.56 169.20) scale(1 1.14)" class="tk" text-anchor="middle">−2</text>
<path d="M100.30 160.5v2" class="tick"/>
<text transform="translate(100.30 169.20) scale(1 1.14)" class="tk" text-anchor="middle">−1</text>
<path d="M130.05 160.5v2" class="tick"/>
<text transform="translate(130.05 169.20) scale(1 1.14)" class="tk" text-anchor="middle">0</text>
<path d="M159.80 160.5v2" class="tick"/>
<text transform="translate(159.80 169.20) scale(1 1.14)" class="tk" text-anchor="middle">1</text>
<path d="M189.54 160.5v2" class="tick"/>
<text transform="translate(189.54 169.20) scale(1 1.14)" class="tk" text-anchor="middle">2</text>
<text transform="translate(74.13 177.40) scale(1 1.14)" class="cap">annual mean of DRE</text><text transform="translate(138.21 174.60) scale(1 1.14)" class="ss">dustB</text><text transform="translate(138.21 178.60) scale(1 1.14)" class="ss">sw</text><text transform="translate(150.58 178.00) scale(1 1.14)" class="cap">|</text><text transform="translate(153.42 178.50) scale(1 1.14)" class="ss">toa</text><text transform="translate(161.89 177.40) scale(1 1.14)" class="cap">[W m</text><text transform="translate(178.15 174.40) scale(1 1.14)" class="ss2">−2</text><text transform="translate(182.85 177.40) scale(1 1.14)" class="cap">]</text>
</g>
<g transform="translate(240,179.8)">
<text transform="translate(10.80 13.90) scale(1 1.14)" class="let">d)</text>
<g clip-path="url(#mapclip)">
<path fill="#e5e5ff" d="M92.1 110.9l2.7 .3 2.7-.9 1.4-1.3 .5-.9 .4-1.9-.3-.9-2-2.5-3.6-2.6-2.7-.6-2.7 .3-1.1 .7-.8 1.9-.2 3.7 .2 1.9 .4 .9 1.1 .9zM224.2 101.8l2.7 .4 2.7-.4 .6-.3 .7-.9 .1-.9-.5-1-1.8-1.2-3.6-1.1-1.8 0-.8 .5-.4 .9 0 1.9 .4 .9zM163.6 99.7l14.4-.1 2.8-.4 1.8-.6 2.3-1.7 1.3-1.9 .5-2.8-.5-2.5-.9-1.4-1.8-1.4-1.8-.7-2.8-.6-3.6-.1-10.8 .3-4.6 .8-1.8 1.1-1.1 1.7 1.3 7.5 .7 1.3 .9 .7 1.9 .6zM203.4 98.8l1.8 .2 5.4-.3 1.8-.4 1.8-.8 3.9-2.5 .6-.9 .2-1-.4-1.8-2.6-3.8-1.7-1.3-.9-.3-2.7 0-3.6 .9-2.7 1.1-.9 .6-1.4 1.8-.8 1.9-.7 2.8 .2 1.9 .7 .9 1.1 .8zM63.2 97.8l3.6 .8 2.7-.1 5.4-3.8 1.9-2.5 .8-2.8-.6-2.8-1.2-1.6-.9-.7-1.8-.5-6.3 .7-6.3-.9-2.8 0-1.8 .3-2 .8-1.6 1-1.8 1.7-1.1 2-.4 2.8 .7 1.9 1.7 1.7 1.8 1 2.7 .7zM132.8 97l2.7 .3 9.1-1.2 1.9-1.1 .3-1.9-1.6-6.5-1.5-1.7-4.6-2-.6-1 .2-.9 1.3-2.1 1.9-1.2 1.8-.4 6.3-.3 1.8-.6 .7-4.7 .2-.6 .9-.7 .9-.1 .9 .5 .9 2.3 .9 1.4 10 .6 3.6-.2 1.8-.5 6.3-.7 3.7-.2 1.8-.7 .9-1.2 .6-1.8 .6-3.7 .8-1.9 .9-.9 1.9-1 2.4-.4 10.9-.9 9.9-.3 9.1-1.2 6.3-1.8 4.5 .6 1.8-.5 .5-1.1-.2-3.7 1.1-1.9 2.2-2.2 0-15.8-5.4-.7-13.6-.1-13.5-.6-11.8 .6-17.2-.9-30.7 .4-1.8-.4-2.7-1.9-1.9-.8-1.8 0-5.4 .6-5.4-.6-1.8 .4-1.5 1.5-.9 1.8-1.2 1.8-1.2 1-1.6 .7-3.6 .3-3.6-.4-.9-.3-9.9-.1-5.5-.6-3.6 .3-.2 .1 .1 1.9-1.7 1.9-.9 .1-.9-.4-1.8 .3 .4 .9 1.4 1.6 1.8 .4 .9 .6 .9 1.2 .3 .9-2.3 .9-5.2 .8-.9 0-.9-.4-.1-1.3 .5-.9-.1-4.7-1.2-1.4-1.9 1.4-.9 .3-1.8-.7-1.3 .4-1.4 .9-.7 .9-.2 1 .2 .9 .7 .5 3.6 .4 1.6 1 .2 .9-.9 .3-7.2 0-6.3 1-4.5 .3-5.5-.1-1.8-.4-2.7-1.3-1-.7-2.6-3.3-3.3-1.4-1.4-2.8-1.6-1.3-4.6-.5-8.1 .5-3.6 1.2-.9 .4-.4 .6-.5 1-.3 1.8-.3 15 .3 2.8 .9 1.9 1.2 .8 1.8 .7 15.4 .5 8.1-.2 1.8 .3 1.7 .7 1.9 1.8 .5 1.9-.7 1.9-2.3 2.8-.7 1.8 0 1 .5 1.6 .9 1.1 .9 .5 3.6 .8 7.3-.1 8.1 .8 2.7-.7 3.7-2.4 .5-.7 1.3-.6 2.7-.6 4.5-.2 5.4 .1 9.7 2.2 3.6 1 1.4 .9 .6 .9 .1 1.9-2.9 3.7-.6 2.8 .4 1.9 .9 1.9 1.3 1.8 1.8 1.7 2.7 1.1 4.5 .6 6.4 .3 5.4-.3zM124.4 82.9l.7-1 .5 0 .9 .2 .4 .8-1.3 .5z"/>
<path fill="#cdcdff" d="M89.4 109.1l3.6 .7 2.7-.1 1.5-.7 .8-.9 .4-1 .1-.9-1.1-1.9-3.8-2.8-1.5-.5-2.7 .1-.9 .5-.5 .9-.4 3.7 .5 1.9zM205.2 97.8l6.3-.5 1.8-.6 2.8-1.7 .9-.9 .4-1 0-.9-.8-1.9-1.5-2-1.8-1.2-1.8-.2-4.5 1.1-2.9 1.4-.9 .9-.9 1.9-.5 1.9-.1 1.8 .8 1.2 .9 .5zM134.6 94.6l.9 .2 1.8-.3 1.4-.4 1.3-1 .5-.9 .1-3.7-.2-1-1.9-1.8-2.1-1.2-1.8-.6-.9 .2-.9 .7-.5 .9-.2 1.8 .7 4.7 .9 1.8zM131.9 81l1.8 .3 1.8-.7 4-3.3 1.5-.6 1.8-.4 6.3-.3 1.8-.3 1.1-2.2 .6-2.8 1-.7 .9-.1 .9 .3 1.8 1.8 2.7 .2 3.7 1 3.6 .3 3.6-.5 2.7-1.4 3.9-3.7 4.2-2.8 1-.9 1.8-2.6 1.8-.9 3.6-.7 6.3-.2 7.3-.8 7.2-.2 3.6-.7 2.4-1.4 .9-1.8 .4-2.8 .4-1 .8-.9 1.4-.9 4.6-1.5 2.7-.4 5.4-.2 2.7-.9 1.5-1.7 .5-1.9 0-2.8-.5-1.9-.5-.9-1-.8-2.7-.8-12.6-.4-10.9-1.3-5.4-.1-10 .7-16.3-1-11.7 0-8.2 .8-3.6-1.1-1.8-.1-2.1 .4-1.6 .9 1.9 .3 1.4 1.6-1.6 .9 .4 .9 .7 .6 1.8 .2 1.6-.8 1.1-.1 .6-.8 .3-1.2 .9-.4 6.4 .5 .9-.1 .9-.5 .5 .8-.9 3.7-.5 4.9-.8 .7-6.5 3-2.7 1.9-1.1-.2-1.6-1.8-.9 0-.9 .9-.9 0-.9-.8-2.7 1.9-.9 .1-3.6 0-2.8-1.1-.9 .1-.9 .8-2.7 0-2.7 .9-1.8 .2-.6-.3-.3-.9-1-.9-.4-1 .2-.9-.9-.9 .5-1 .1-.9-1.5-1.9 .9-.9 .3-.2 1.3 1.1 1 1.9 1.1 .9 .2 1 1.8-.3 1.8-.8 .9-.9 5.5 .4 1.8-.1 1.2-1.1 .6-1.2 3.6-.5 .8-1.2-.8-.9-2.7-.2-.9-.4-.2-.3 .7-1-.5-.4-.9-.1-1.8 .7-1.2 .8-.5 .9 0 .9-1.1 1.3-.9 .4-1.8-1.5-1.8 .5-.9-.7-.1-.9 .9-.9 1.9-.3 2.7-2.3 3.7-1.8 .5-1.2-2.3-1.9-1.9-.5-6.3 1.1-4.5-.7-1.8 .3-1.6 1.7-.9 1.8-1.7 8.5-.2 2.8 .8 1.8 .9 1 .9 .4 1.8 .1 .9 .4 .8 .9-.4 1-3.1 1.4-2.7 5.2-1.3 .8-2.4 .7-.9 0-1.3-.7-.4-3.7-1-1.9-1.8-1.1-1.8 .2-1.1 .9-.9 1.9-.4 4.7-.6 .9-2.6 1.9-7.1 2.9-1.7 1.7-.4 1.9 1.1 1.9 1.2 .9 3.5 1.3 6.3 1.4 1.8 .6 1.8 1.3 1.8 1.8 1.8 .9 2.7 .2 7.3-1 2.7 .6zM124 45.5l0-.9 .7-.6 .9 .1 .4 .5 .1 .9-.5 .6-.9 .1zM68.6 75.4l3.6 .4 2.7-.5 1-.8 .7-1.9 0-1.9-.5-.9-1.2-1.1-1.8-.7-2.7-.4-1.8 .1-6.3 1.9-1.8 1.1-1 1-.3 .9 .3 .9 1 .7 1.8 .5zM66.8 63.7l1.8 .2 4.9-2.5 6.9-.7 1.8-.9 .7-1.2 .3-.9 .2-6.6-.4-1.8-.8-1-2.8-.8-8.1-.1-2.7 .4-1.2 .5-1 1-.4 .9-.6 4.7-1 3.7-.2 1.9 .8 1.8zM39.6 56.1l2.8 .6 1.8-.2 1.8-.7 2.3-1.9 .6-.9 .5-1.9-.1-1.8-2.2-3.8-.7-2.8-4.9-2.3-.9-.1-.9 .5-1 1.3-1.8 4-.8 3.2 0 1.8 .7 1.9 1 1.6zM92.1 49.3l1.8-.3 4.5-1.6 4.6-.7 1.8-.6 .9-.7 .9-1.7 .1-1.9-.3-1-.7-.9-.9-.6-2.7-.8-5.5-.1-2.7 .6-1.3 .9-.4 .9 1.1 1.9 2.4 1.9 .5 .9-.5 1-.9 .7-3.8 .2-.2 .9 .4 .8z"/>
<path fill="#b5b5ff" d="M93 108.2l2.7-.2 1-.9-.1-1.1-.9-1-2.7-1.7-1.8-.2-.9 .2-.8 2-.1 .9 .5 .9zM205.2 96.9l5.4-.5 1.8-.5 1.9-.9 1.3-.9 .6-1 .1-.9-.7-1.9-1.4-1.6-1.8-.9-3.6 .5-3.6 1.4-.9 .8-.9 1.5-.7 3 .7 1.4zM132.8 79.2l2.7-.4 3.6-2.4 .9-.3 2.8-.5 6.3-.3 1.8-.3 .9-1.9 .6-2.4 1.2-1 .9-.3 2.7 1.1 2.7 .3 4.6 1.6 3.6 0 3.6-1 1.8-1.3 3.6-3.8 3.6-3 .7-1.9 .2-2.8 1.6-.9 5.7-.3 6.3 .6 8.2-1.3 7.2-1.7 1.2-1.1 2-3.7 4.7-5.6 .8-1.9-.1-1.9-1.1-1.8-2.5-1.9-2.3-.9-2.7-.6-5.4-.1-9.1 .8-26.2-1.1-.9 .3-1 1.6-.4 2.8-.3 4.7-.3 .9-.9 1-3.4 1.3-5.7 3.3-1.6 .5-.9-.3-1.5-1.1-.3-.6-.9-.1-.9 1-.9 0-.9-.7-.9 .3-1.8 1.3-.9 .2-3.6-.1-2.8-1.2-.9 .9-.9 .3-1.8-.5-.9 .1-7.2 2.9-1.5 1.8-2.1 4.3-.9 1.2-.9 .7-10 1.5-2.7 .6-8.1 3.4-1.6 1.4-.3 .9 .4 .9 1.5 1.2 1.8 .7 7.5 1.9 5.1 2.8 3.6 .4 7.3-.1zM131.3 65.1l.3-.9 .3-.1 5.4-.3 4.6-.7 1.8 .4 .8 .7 .1 .9-.9 .5-1.8 .3zM69.5 59.5l9-1.2 1.5-.6 .5-1 .2-.9 .1-4.7-.4-1.4-.5-.4-1.4-.5-3.6-.2-3.6 0-2.2 .7-.6 .9-.2 .9-.6 5.6 .4 1.9zM131.9 44.9l.9 .1 1.3-.4 .7-.9-.4-1-2.5-1.7-1 .8-.4 .9 .2 1zM139.1 43.8l1.9 .3 1.8-.2 1.8-2.8 2.9-.3-2.9-.1-.9-.4-.9-1.4-.9 .1-.8 .9 .1 .9-.6 1-1.5 1.7-.9 .2zM132.8 37.5l.9 .3 2.7-.3 4.1-3.2-.5-.6-.9-.2-1.8 .3-4.5 1.4-1.8 0-2.7-.4-1 .4 0 1 1 .5 2.7 0 .9 .2z"/>
<path fill="#9d9dff" d="M204.3 95.4l1.8 .4 4.5-.6 1.8-.6 2.3-1.5 .4-.9-.3-.9-1.3-1.9-1.1-.5-1.8 0-2.7 .6-1.9 .8-1.6 1.9-.6 1.9zM131 77.3l1.8 .5 1.8 0 5.8-2.4 9.6-.7 .9-.4 1.3-3.6 .5-.7 .9-.8 .9-.2 2.7-.1 1.8 .2 3.7 2 2.7 .6 2.7-.1 2.7-.7 1.8-1.1 1.8-1.5 2.7-3.8 2-2.2 .3-.9-.3-2.8 .2-.9 .5-.5 1.9-.6 7.2-.8 4.5 .5 2.7-.1 5.5-.8 1.6-.5 1.1-1 .6-.9 .7-3.7 .5-.5 4.5-.8 1.8-1.1 .9-.9 1.2-2.3 .1-1.9-.4-1.4-.9-1.4-.9-.6-1.8-.7-1.8-.2-3.6 .1-6.4 .9-6.3-.7-3.6-.1-11.8 1.1-3.6-.9-2.7-.2-.9 .3-.9 1.5-.5 5.1-1 1.9-4.8 2.3-3.7 3-3.6 .9-3.6-.9-2.7-.1-2.7 .7-2.7 .1-3.7-.7-1.8 .5-3.1-.2-6 2.8-.9 .9-2.9 5.6-.1 .9 .4 .6 .9 .6 .9 .1 2.9-1.3 1.6-.4 5.4 .1 4.6-.8 1.8 0 6.3 3.6 .3 .3-.9 1-6.6 .7-17.2-.7-.9-.2-2.7-2.1-2.8-.3-5.4 .8-5.2 1.8-3.5 1.8-1.4 1-.6 .9 .7 .9 2.1 1 5.2 1.5 4.5 1.8 4.6 1.2 6.3 .2zM70.4 56.8l1.3-.1 1.3-.9 .6-.9 .3-1.9-.3-.9-.5-.5-.9-.3-.9 .3-.3 .5-.8 2.8zM141 42.8l.9 .2 .4-.3 .6-.9-.1-.7-.9 .5z"/>
<path fill="#8585ff" d="M207 93.3l1.8-.1 1.8-.5 1.2-.5 .6-.9-.9-.7-.9-.1-2.7 .7-1.2 1-.1 .9zM131.9 76.5l2.7 .2 6.4-1.8 9-.7 .9-.4 1.1-3.1 .7-1.3 .8-.5 .3-1-1.1-.8-.9 0-9 .3-18.1-.3-.9-.5-1.8-1.8-.9-.5-1.9-.2-3.6 .4-1.8 .6-4.6 2.8-.8 1-.1 .9 1.1 .9 4.4 2.2 3.6 .7 2.8 1.6 7.2 .5zM164.5 71l2.7 0 2.7-.5 2.7-1.4 1.8-1.6 1-1.4 .7-1.9 .4-2.8-.2-3.7 1.1-1 3.4-.9 5.4-.5 2.7-.7 6.3 .4 6.4-1 1.4-1 .4-.8 0-1.1-.3-.9-1.5-1.5-1.9-.7-2.5-.6-1.7-.9-.3-1 1.1-1.8 .1-1-.4-.9-1-1-2.5-.9-2.7 0-2.4 .9-.7 1-.5 1.9-.8 .9-8.3 2.1-7.2-.4-6.3 2.9-2.7 3.1-1 .7-1.8 .8-8.1 .4-9-1-4.6 .2-1.7 .5-1.7 1-1.1 .9-.5 .9 0 1 .5 .9 1.2 .9 2.4 .6 2.7 0 6.4-1.6 2.7-.1 .9 .2 1.3 2.8 1 .9 2.2 1.5 4.2 1.3 2.6 2.8 2.2 1.9z"/>
<path fill="#6d6dff" d="M130.1 75.4l2.7 .6 1.8 0 6.4-1.6 9-.7 .9-.5 1.6-4.3-.7-.8-.9-.2-15.4-.3-10.8 .1-.9-.3-2.7-2.6-1.9-.3-3.6 .5-1.8 .7-1.4 1.3-.5 .9-.2 1 .7 1.8 2.3 1.5 2.7 .4 3.7 2.1zM163.6 70.1l2.7 .4 2.7-.4 1.8-.6 1.8-1 1.8-1.8 .8-1.6 0-2.8-.8-1.8-1.8-1.9-.5-.9 .2-1 1.2-1 .9-.2 2.7 .1 9.1-1.1 2.7-1.2 .9-.1 4.5 .5 4.5-.6 1.9-.5 .6-.5 0-1-1.6-1.1-4.5-.9-3.6-1.3-6.3-.6-3 .2-5.2 1.1-8.1-.3-3.6 1.1-1.4 .9-1.4 1.9-2.7 2.4-1.8 1.2-4.5 1.7-1.3 1.2-.4 .9 0 1 .5 .9 1.2 .8 2.7 .5 .9 .5 3.4 4.7 1.2 1.1z"/>
<path fill="#5555ff" d="M127.4 74.5l7.2 .9 6.4-1.4 9-.8 .9-.6 .8-2.8-.3-.9-1.4-.3-14.5-.6-10.8 .3-.9-.3-2.7-2.7-1.9-.5-4.5 .9-1.6 1.3-.5 1.9 .3 .9 .6 .9 1.2 .8 3.6 .9 2.8 1.7zM165.4 69.9l3.6-.3 2.7-1.1 1.9-1.5 1.1-1.9 0-1.8-.6-1.9-1.5-1.6-3.1-2.1-.5-1 .5-3.7 .5-.9-.2-1-2.6 0-2.7 1.4-2.7 1.9-2.8 2.7-2.3 1.5-1 .9 .5 1 1 .7 .9 1.2 1.4 2.7 1.9 2.8 2.2 1.6zM176.2 54.4l1.8 .2 8.2-1.1 1-.5 .6-.9 0-1-.7-.6-1.8-.4-9.1 .7-.7 .3-.7 1 .1 .9 .6 .9z"/>
<path fill="#3d3dff" d="M131 74.6l3.6 .3 7.3-1.5 8.1-.8 .9-1.1 .1-1.7-1-.5-12.7-.8-12.6 .3-.9-.2-.8-.7-1.9-2.2-1.9-.5-2.7 .3-1.7 .6-1.1 .9-.5 .9 .3 1.9 .8 .9 1.3 .6 2.7 .5 2.8 1.7 6.3 .5zM163.6 69l1.8 .4 1.8 0 3.6-1 1.8-1 .9-.9 .7-1.4 .1-.9-.5-1.9-1.2-1.6-6.1-3-2-2.2-.9-.1-.9 .3-3.2 2.9-.9 1.9 .4 1.8 1.2 2.8 2 2.8z"/>
<path fill="#2525ff" d="M128.3 73.6l4.5 .7 2.7 0 6.4-1.4 7.2-1.1 .6-.1 .4-1-1-.5-2.4-.4-10-.9-12 .6-.9-.3-.9-.8-1.8-2.3-1.9-.6-3.6 .6-1.4 .9-.5 .9-.1 1 .4 .9 1.6 1.1 2.7 .5 2.8 1.5 .9 .2 3.6 .1zM165.4 68.9l3.6-.4 3.4-1.5 .9-.9 .4-1-.1-1.8-1-1.8-.9-.7-7.2-2.9-1.8-.1-1.8 .8-.9 .9-.4 1 .1 1.8 1.2 2.7 1.8 2.7 .9 .7z"/>
<path fill="#0d0dff" d="M131 73.5l2.7 .4 2.7-.2 7.4-2 .6-1-3.5-.9-5.4-.5-3.6 .2-7.2 .9-.9-.4-.9-.9-1.8-2.6-.9-.6-1-.1-3.6 .6-1 .6-.5 .9-.1 1 .5 .9 1.1 .7 2.7 .5 3.7 1.5 3.6-.2zM164.5 68.2l1.8 .2 1.8-.1 3.6-1.3 1-.9 .5-1 .1-.9-.7-1.8-1.8-1.3-6.3-2.2-1.8-.1-1.6 .7-.6 1-.2 .9 .4 1.9 2.1 3.7z"/>
<path fill="#0000f4" d="M130.1 72.6l3.6 .8 1.8 0 3-.8 2-.9 0-1-4.1-.9-4.5 .3-2.7 .6-.7 1zM119.2 71l1.9 .6 .9 0 .9-.9-.6-1.8-1.2-2-.9-.6-1.9-.2-2.7 .6-.9 .8-.3 1.4 .6 .9 .6 .4zM164.5 67.5l2.7 .3 3.6-.9 1.2-.8 .7-1 0-.9-.3-.9-.7-.9-.9-.5-3.6-.9-2.7-1.1-1.8-.2-.9 .5-.6 1.2 .1 .9 1.8 3.8 .6 .9z"/>
<path fill="#0000e4" d="M132.8 72.6l1.8 .2 1.6-.2 1.7-.9-.7-1-2.6-.2-1.8 .2-1.4 1zM120.2 70.9l.9 .1 .7-.3 .3-.9-.7-1.9-1.2-1.3-1.9-.2-1.8 .3-.9 .4-.7 .8-.1 1 .8 .9zM165.4 67l2.7 .1 2.7-.9 1.1-1.1-.2-1.5-.9-.8-.9-.3-2.7-.2-2.7-1-1.4 .1 1.1 4.7z"/>
<path fill="#0000d3" d="M117.4 69.9l2.8 .6 .9-.2 .4-.5 0-.9-.4-1-.9-.9-1-.3-2.5 .3-1.4 .9 0 1 1.2 .8zM166.3 65.2l.9 .6 1.8-.2 1.3-.5-.1-.9-2.4 0z"/>
<path fill="#0000c2" d="M119.2 69.9l1.5-.1 .3-.9-.8-1.4-1-.5-.9 0-2.4 .9 0 1z"/>
<path fill="#0000b1" d="M117.4 69l1.8 .3 1-.1 .2-.3-.4-1-.8-.3-.9 0-1.4 .3 .1 1z"/>
</g>
<path class="bd" d="M61.4 60.1l.2 .1M63.2 62.8l0 .2M65 58.3l-.4 1.1M64.6 59.4l-1 1.4M64.6 59.4l4.9 3.6M69.5 63l-.2 .7M69.3 63.7l-2.6 .6M85.6 106l.1 .2M85.7 106.2l-.3 .3M68.7 58.3l1.2 4.3M69.9 62.6l-.4 .4M69.9 62.6l1.3-.6M72.4 66.8l-1 .8M71.4 67.6l-1.4-2.3M70 65.3l-.7-1.6M70 65.3l-2.3 1.1M71.4 67.6l-.1 .4M71.8 58.3l.9 1.6M74.9 58.3l-.9 1.3M75.7 65.7l.3 .2M76 65.9l-1.5 2.9M75.9 69.3l-.2 0M76 65.9l.5 .3M76.5 66.2l.4 1.2M76.7 68.4l-.8 .9M75.9 69.3l.1 .2M77.2 65.7l-.7 .5M126.1 56.9l2.3 4M128.4 60.9l-4-1.3M79.6 69.5l-.6 .3M79 69.8l-1-1.3M79 69.8l0 .1M79 69.9l-1 .5M79 69.9l.2 .4M79.2 70.3l-.7 1M79.5 70.7l-.3-.4M80.1 72.4M82 72.6l.4 .3M83.7 74.4l.2 .3M83.9 74.7l-.2 .2M81.8 79.7l3.4 .6M85.2 80.3l-.7 4M84.5 84.3l-1.1 .2M84.8 71.8l-.5 2.8M84.3 74.6l-.4 .1M87.2 98.2l1 4.7M88.2 102.9l-.6 1.8M87.6 104.7l-1.2 1.5M86.4 106.2l-.7 0M92.2 71.9l.4 4M92.6 75.9l-1.7 1.9M90.9 77.8l-1.3 0M89.6 77.8l-3.5-2.6M86.1 75.2l1.5-3.8M99 75.7l-3.7 .4M95.3 76.1l-2.7-.2M86.1 75.2l-1.8-.6M87.5 94.4l.3 1.3M87.8 95.7l-.6 .7M84.5 84.3l2.3 .7M86.8 85l.6 .7M87.4 85.7l-2.8 1.4M89.6 77.8l-2 1.7M87.6 79.5l-2.4 .8M87.6 79.5l-.8 5.5M87.4 85.7l.4 .3M87.8 86l.4 .6M88.2 86.6l-1.3 2.1M88.2 86.6l.6 .1M88.8 86.7l1.4 4.5M90.2 91.2l-2.4 2.1M90.9 77.8l.6 1.9M91.5 79.7l-3.7 6.3M86.4 106.2l2.9 2.5M95.3 76.1l2 6.6M97.3 82.7l-.2 .4M97.1 83.1l-2.5 1.7M94.6 84.8l-3.1-5.1M94.6 84.8l-.1 1.2M94.5 86l-.2 .3M94.3 86.3l-5.5 .4M87.8 95.7l4.3 1.4M92.1 97.1l1 1.8M93.1 98.9l-4.9 4M90.2 91.2l.7-.1M90.9 91.1l2.7 3.3M93.6 94.4l0 .2M93.6 94.6l-1.5 2.5M93.1 98.9l1.1 .9M94.2 99.8l.1 2.1M90.9 104.2l-3.3 .5M94.3 86.3M94.3 86.3l-3.1 4.5M91.2 90.8l-.3 .3M94.5 86l6.6 1.6M101.1 87.6l.1 .1M101.2 87.7l0 1.6M101.2 89.3l-4 1.7M97.2 91l-1.6-1.3M95.6 89.7l-1.3-3.4M91.2 90.8l3 1.1M94.2 91.9l-.6 2.5M94.2 91.9l1.4-2.2M97.2 91l.6 3.1M97.8 94.1l-4.2 .5M97.8 94.1l1.7 1.5M99.5 95.6l.3 .5M99.8 96.1l-.4 1M98.2 98.7l-4 1.1M97.1 83.1l3 .7M100.1 83.8l1 3.8M100.1 78.6l-2.8 4.1M101.2 79.2l.4 3.4M101.6 82.6l-1.5 1.2M105.1 80.3l1 1.3M106.1 81.6l-.5 3.2M105.6 84.8M105.6 84.8l-4-2.2M101.2 89.3l.4 .5M101.6 89.8l-2.1 5.8M101.6 89.8l2.6 1.4M104.2 91.2l0 .2M104.2 91.4l.2 1M100.3 96l-.5 .1M105.6 84.8l-4.4 2.9M105.6 84.8l1.3 1M106.3 87.9l-2.1 3.3M124.9 44.4l.4 .3M125.3 44.7l.1 1.1M105.3 91.2l-1.1 .2M106.1 81.6l1.2-.6M128.4 60.9l.1 .1M128.5 61l-8.2 7.2M123.2 73.6l3.4 1.2M126.6 74.8l.1 0M119.9 69l10-1.3M129.9 67.7l-.2 3M129.7 70.7l-3.1 4.1M124.9 51.7l1.7 .3M126.6 52l-.2 .9M126.4 52.9l-1 1.9M127.2 51.3l0 .1M127.2 51.4l-.1 .2M127.1 51.6l-.3 .1M126.8 51.7l-.3-.4M128.5 61l3.6 0M132.1 61l-2.2 6.7M126.8 51.7l-.2 .3M126.4 52.9l3 1.8M130.3 56l2.2 4.9M132.5 60.9l-.4 .1M125.3 44.7l.1 0M125.4 44.7l.7 .2M127.7 45.4l.5 .1M128.2 45.5l-.1 .4M128 46.5M127.3 42l-.4 1.2M126 44.2l-.6 .5M129.5 44.3l-1.2 1.1M128.3 45.4l-.3-.4M128.3 45.4l-.1 .1M127.1 51.6l2.6 1M129.7 52.6l.1 1.1M129.1 48l.1 0M129.2 48l.7 1.6M129.9 49.6l-.3 .2M127.3 51.3l-.1 .1M129.7 47.7l-.5 .3M129.7 52.6l1.4-1.2M131.1 51.4l.4 .7M133.9 55.4l0 .1M133.9 55.5l-.1 4.1M133.8 59.6l-.2 1.2M133.6 60.8l-1.1 .1M129.9 49.6l1.4 .7M131.3 50.3l-.2 1.1M131.8 46.7l.4 .3M132.2 47l.2 2.5M132.4 49.5l-.2 .2M132.2 49.7l-.9 .6M133.6 60.8l5.8 2.9M139.4 63.7l-2.2 6M137.2 69.7l-7.5 1M141.4 98.5l0 .1M141.4 98.6l.2 .8M137.2 69.7l-.2 5.3M137 75l-.8 1.2M132.2 49.7l1 1.3M133.2 51M133.9 55.4l0 .1M134.4 39.3l-.1 .5M134.3 39.8l-.9 .6M136.9 51.5l.7 .1M137.6 51.6l.6 .6M138.2 52.2l0 .1M136.3 56l-2.5 3.6M134.3 39.8l.8 1.4M135.1 41.2l-.5 .6M136.1 47.9l.3 .4M136.4 48.3l-1 1.1M135.4 49.4l-.9-.2M134.5 49.2l-.3-2.1M134.2 47.1l1.9 .8M136.1 47.9l-.9-1.9M135.2 46l.1-.1M135.3 45.9l.8-1M136.1 44.9l1.6 .9M137.7 45.8l.5 1.3M138.2 47.1l.1 .6M138.3 47.7l-1.9 .6M132.2 47l.9-.4M133.1 46.6l1 .2M134.1 46.8l.1 .3M134.5 49.2l-2.1 .3M133.5 45.3l-.4 1.3M133.2 51l.6 .1M134 45.2l1.3 .7M135.2 46l-1.1 .8M135.4 49.4l.2 .9M136.6 38.2l0 .6M136.6 38.8l-1-.1M136.6 38.8l.1 0M136.7 38.8l0 2M136.7 40.8l-.1 .2M136 41.2l-.9 0M135.5 44.3l.6 .4M136.1 44.7l0 .2M138.3 47.7l.7 .6M139 48.3l-.5 1.3M137.8 51.1l-.2 .5M148.3 97.2l.3-1.4M148.6 95.8l1-.9M157.3 88.6l2.7-.3M141.4 98.6l2.3-7.5M143.7 91.1l4-1.6M147.7 89.5l.9 6.3M140.9 59.4l.7 2.3M141.6 61.7l-1.3 1.8M140.3 63.5l-.9 .2M136.2 44.4l-.1 .3M144.9 34.3l0 .1M144.9 34.4l-1.1 2.6M141.1 38.8l-1.1-.3M140 38.5l-.3-.4M139.7 38.1l-.2-2.3M139.7 38.1l-3 .7M136.7 40.8l1.7 .3M138.4 41.1l.3 .7M138.7 41.8l-.9 1.3M137.8 43.1M137.8 43.1l.2 .2M138.4 44.8l-.7 1M138 86.6l2.8 1.3M140.8 87.9l2.9 3.2M138.2 47.1l2.2-2.2M140.4 44.9l1.2 .6M141.6 45.5l-.5 2.7M141.1 48.2l-1.4 .2M139.7 48.4l-.7-.1M140 38.5l-.2 .4M139.8 38.9l-1.4 2.2M138.7 41.8l1.2 .5M139.9 42.3l0 .2M139.7 48.4l.3 2.4M139.2 52.4l-.1 0M139.1 52.4l-.9-.2M139.1 52.4l0 .5M140.2 44.5l.2 .4M139.8 38.9l.5 3M140.2 42.1l-.3 .2M140.3 63.5l5.7 4.2M146 67.7l-.2 5.7M145.8 73.4l-1.6 2.3M144.2 75.7l-7.2-.7M141.8 59.4l0 2.1M141.8 61.5l-.2 .2M136 77.8l8.1 3.1M144.1 80.9l-5.7 3.6M142.1 44.6l.2 .5M142.3 45.1l-.7 .4M140.8 87.9l4-4.4M144.8 83.5l3 6M147.8 89.5l-.1 0M144.2 75.7l1.1 4.9M145.3 80.6l-.1 .1M145.2 80.7l-1.1 .2M141.1 48.2l.6 .4M141.7 48.6l-.3 2.9M145.2 80.7l-.4 2.8M142.3 45.1l.7-.1M143 45l1.9 1.1M144.9 46.1l-2.2 2.6M142.7 48.7l-1-.1M142.7 48.7l.8 .8M143.5 49.5l-.7 3.1M142.8 52.6l-.6 .4M141.8 61.5l.7-.5M142.5 61l7.4-.4M153.2 67.3l-.2 .2M153 67.5l-7 .2M142.8 52.6l1.3 0M144.1 52.6l.1 .1M144.7 58.5M144.7 58.5l-2.2 2.5M145.3 80.6l1.1 .1M146.4 80.7l4.4 8M150.8 88.7l-3 .8M143.6 42.9l-.6 2.1M148.9 34.8l-.2 .4M148.7 35.2l-1.8 1.2M146.9 36.4l-2-2M144 38.7l.9 1M144.9 39.7l-.4 .9M146.9 36.4l.7 1M147.6 37.4l-.5 1.2M147.1 38.6l-1.9 1.1M145.2 39.7l-.3 0M143.5 49.5l.7 .1M144.2 49.6l.5 .7M144.7 50.3l.2 1.5M144.9 51.8l-.8 .8M145.2 39.7l.5 .7M146.4 41.5l0 .1M146.4 41.6l-1.5 .8M144.9 42.4l-.3-.1M144.9 42.4l2 3.5M146.9 45.9l-.1 .1M146.8 46l-1.9 .1M144.7 50.3l2.5 .3M146.7 51.8M146.7 51.8l-1.8 0M146.8 46l0 1.9M146.8 47.9l-2.6 1.7M146.7 51.8l0 .5M146.7 52.3l-.3 .3M146.9 45.9l1.7-1M148.6 44.9l1.5 .6M150.1 45.5l.8 .8M150.9 46.3l.7 2.8M151.3 49.8l-.7 .5M147.8 49.9l-1-2M147.6 37.4l1.9 .4M149.5 37.8l.1 3.6M149.6 41.4l-1 .8M148.6 42.2l-.9-.8M147.7 41.4l-.1-.1M147.5 40.5l-.4-1.9M146.4 41.6l1.3-.2M148.6 42.2l0 2.7M146.7 52.3l.1 .2M147 53.1l.2 .5M147.2 53.6l-.9 .4M149.7 52.5l0 3M149.6 55.5l-2.4-1.9M144.8 58.5l-.1 0M151.2 58.2l-.2 1.4M145.8 73.4l3.3 1.6M149.1 75l4.2 3.8M153.3 78.8l-6.9 1.9M150.8 88.7l2.6 0M149.6 41.4l2.4-.3M152 41.1l.8 1M152.8 42.1M152.8 42.1l-2.7 3.4M148.7 35.2l.7-.2M151.5 35.5l.3 .9M151.8 36.4l-.1 .3M150.3 37.6l-.8 .2M152.3 38.6l-.3 2.5M153 50l.2 .1M153.2 50.1l.5 .5M153.9 52.9l-1.7 3.2M152.2 56.1l-.2 .1M153 67.5l0 .6M153 68.1l-3.9 6.9M153 35.9l-1.2 .5M153.3 78.8l.3 .1M153.6 78.9l1.1 .7M153 68.1l.6 10.8M155.1 66.1l.3 0M155.4 66.1l1.5 3.9M157.5 71.8l1.3 3.5M199.7 98.1l3.3 .9M154.9 38.1l-.1 .2M154.8 38.3l-.1 .2M154.7 38.5l-.7-.1M152.2 56.1l3.3 1.7M155.5 57.8l.3 7.7M155.8 65.5l-.1 .4M155.7 65.9l-.3 .2M150.9 46.3l2-.6M152.9 45.7l1.4 2.6M154.3 48.3l-1.1 1.8M152.8 42.1l2 1.4M154.8 43.5l.1 1.1M154.9 44.6l-2 1.1M152.8 42.1l1.9-2M154.7 40.1l1.2 2.3M155.9 42.4l-1.1 1.1M154.7 38.5l.3 .3M155 38.8l-.3 1.3M155.5 51.8l3.4 3.5M158.9 55.3l-.2 .3M158.7 55.6l-3.2 2.2M154.9 44.6l1.3 1.5M156.2 46.1l-1.9 2.2M156.2 46.1l3.4 .9M159.6 47l-.9 1.6M158.7 48.6l-3.3 2.9M162.7 35.8l-1.1 1.8M161.6 37.6l-.2 0M161.4 37.6l-.4-1.6M154.8 38.3l.5-.4M157 36.6l.4-.4M157.4 36.2l.2 .2M157.6 36.4l-.6 3.2M157 39.6l-2-.8M157 39.6l.3 .3M157.3 39.9l-1.3 2.4M156 42.3l-.1 .1M156 42.3l1.4 .5M157.4 42.8l2.6 4M160 46.8l-.4 .2M158.7 48.6l.2 .9M159.6 53.2l.1 .1M159.4 54.9l-.5 .4M157.3 36l.1 .2M161.4 37.6l-.6 .1M160.8 37.7l-3.2-1.3M155.7 65.9l6.3 1.9M158.7 55.6l1.6 3.7M159.7 61.4l-3.9 4.1M160.8 37.7l-2.6 2.3M158.2 40l-.9-.1M158.2 40l.8 1.6M159 41.6l-1.6 1.2M160 46.8l.2 0M160.2 46.8l.7 .8M160.9 47.6l1.3 2M162.3 49.9l.4 .5M162.7 50.4l0 .1M162.7 50.5l-.7 1.3M161.6 37.6l1.1 1M162.7 38.6l.4 .6M163.1 39.2l-2.5 3.4M160.6 42.6l-1.6-1M160.6 42.6l0 3.5M160.6 46.1l-.4 .7M162.8 55.2l2.5 1M165.3 56.2l.2 .6M165.5 56.8l-3.8 3.5M161.7 60.3l-.6 0M164.3 66.4l.9-1.1M165.2 65.3l.1-.1M161.7 60.3l.8 .8M163.6 62.8l1.6 2.5M160.6 46.1l3.1-1.4M163.7 44.7l1.8 3.1M165.5 47.8l-4.6-.2M163.1 39.2l4.6 2.3M167.7 41.5l-.1 .2M167.6 41.7l-3.9 3M162.7 50.5l1.5 1.2M164.2 51.7l1.5 3.5M165.7 55.2l-.4 1M162.9 61.3l5.2-1.4M162.7 38.6l2.4-2.8M167.3 35.1l2.8 4.1M170.1 39.2l-1.6 1.8M168.5 41l-.8 .5M162.7 50.4l3.2-1.2M165.9 49.2l.8 1.8M166.7 51l-2.5 .7M165.5 47.8l.8 .3M166.3 48.1l-.4 1.1M165.5 56.8l2.6 2.3M171.2 34.2l.9 1.2M172.1 35.4l-.3 2.6M171.8 38l-1.2 1M170.6 39l-.5 .2M168.5 41l5.2 5.2M173.7 46.2l0 .1M173.7 46.3l-3.9 1.7M169.8 48l-1.5-1.3M168.3 46.7l-.7-5M166.7 51l1.4 1.4M168.1 52.4l-2.4 2.8M168.1 52.4l2.4-.5M170.5 51.9l2.3 1.4M172.8 53.3l.1 3.6M172.9 56.9l-1.8 1.5M168.3 46.7l-2 1.4M169.8 48l.7 3.9M170.6 39l4.2 4.2M174.8 43.2l-1.1 3M176.3 72.1l.1 0M176.4 72.1l.8 .3M174.3 66.4M174.3 66.4l0 .2M173.7 46.3l.6 .6M174.3 46.9l.6 4.7M174.9 51.6l-2.1 1.7M172.9 56.9l3 1.6M175.9 58.5l.4 1.3M176.3 59.8l-3.8 4.9M181.7 32.4l-2 5.6M179.7 38l-7.9 0M172.1 35.4l1.2-1.9M174.9 51.6l2.4-.1M177.3 51.5l1.7 5.2M179 56.7l-3.1 1.8M179.7 38l.3 1.5M180 39.5l-1.6 2.7M178.4 42.2l-3.6 1M178.4 42.2M178.4 42.2l-1.3 4.1M177.1 46.3l-2.8 .6M176.3 59.8l.6 .7M176.9 60.5l-1 5.8M175.9 66.3l-1.6 .1M197.4 32.1l-5.8 5.6M191.6 37.7l-1.7 .4M189.9 38.1l-4.5-6.7M189.9 38.1l-.8 2.7M189.1 40.8l-2.7 1.8M186.4 42.6l-1.5 .3M184.9 42.9l-.6-.1M184.3 42.8l-4.3-3.3M175.9 66.3l1.3 .3M177.2 66.6l1.1 1.2M178.3 67.8l-2 2.9M176.3 70.7l-.8-.5M176.3 70.7l.1 1.4M178.3 67.8l.5 .3M178.8 68.1M178.4 42.2l2 4.4M180.4 46.6l-2.5 .4M177.9 47l-.8-.7M184.3 42.8l-2.8 4.3M181.5 47.1l-1.1-.5M177.9 47l.4 4M178.3 51l-1 .5M179 56.7l.1 0M179.1 56.7l1.1 4.2M180.2 60.9l-.7 .9M179.5 61.8l-2.6-1.3M178.3 51l.7 0M179 51l3.4 3.9M182.4 54.9l-.1 .3M182.3 55.2l-2.2 1.4M180.1 56.6l-1 .1M179.5 61.8l.4 1.2M179.9 63l-2.7 3.6M181.5 47.1l.3 2M181.8 49.1l-2.8 1.9M178.8 68.1l1-.7M179.9 63l1.2 .5M181.1 63.5l1 1M182.1 64.5l-.2 .6M182.3 55.2l.6 1.3M182.9 56.5l1 3.6M183.9 60.1M183.9 60.1l-2.2-.3M181.7 59.8l-1.6-3.2M180.2 60.9l1.5-1.1M183.9 60.1l0 .2M183.9 60.3l-2.8 3.2M181.8 49.1l3.4 1.6M185.2 50.7l-1.8 3.6M183.4 54.3l-1 .6M184.9 42.9l1.1 7.2M186 50.1l-.5 .5M185.5 50.6l-.3 .1M182.1 64.5l1.2 0M183.9 60.3l.6 3.9M182.9 56.5l5.7 2M188.6 58.5l.3 .4M188.9 58.9l-5 1.2M183.4 54.3l4.3 2.6M187.7 56.9l.9 1.6M188.9 58.9l.6 .4M189.5 59.3l-2.4 5.3M187.1 64.6l-.9 .4M186.2 65l-.1-.1M186.2 65l-.1 .1M204.6 88.8l.5 2.6M205.1 91.4l-5.5 4.9M185.5 50.6l2.1 3.1M187.6 53.7l.1 3.2M187.1 64.6l2.1 1.8M189.2 66.4l-1.3 1.1M189.7 70.9M189.7 70.9l.1 .1M189.1 40.8l1.3 1.4M190.4 42.2l-.5 6.8M189.9 49l-.2 0M189.7 49l-3.3-6.4M191.6 37.7l2.9 1.6M194.5 39.3l-.6 5M193.9 44.3l-3.5-2.1M187.6 53.7l4.1-1.1M191.7 52.6l.6 5.6M192.3 58.2l-1.4 .9M190.9 59.1l-1.4 .2M190.9 59.1l1 3.2M191.9 62.3l-2.5 4.3M189.4 66.6l-.2-.2M189.7 49l-3.7 1.1M189.9 49l2.4 .9M192.3 49.9l-.6 2.7M189.4 66.6l.5 .6M189.9 67.2l.1 2.9M190 70.1l-.2 .4M193.9 44.3l.9 .8M194.8 45.1l-.1 1.6M194.7 46.7l-.5 2.3M194.2 49l-1.9 .9M194.2 49l.7 .4M194.9 49.4l2.1 7.1M197 56.5l-2.5 1.7M194.5 58.2l-2.2 0M191.9 62.3l1.8 3.2M193.7 65.5l0 .2M193.7 65.7l-3.8 1.5M194.5 58.2l2.6 4.1M197.1 62.3M197.1 62.3l-3.4 3.2M193.7 65.7l.1 0M193.8 65.7l-.1 .4M193.6 66.5l-.4 2.9M193.2 69.4l-1.9 .4M190.1 70.1l-.1 0M218 33.4l-5.7 2.6M212.3 36l-1.8-1.9M202.6 32.7l-.3 4.5M202.3 37.2l-.3 1M202 38.2l-2.3 1.8M199.7 40l-5.2-.7M197.1 62.3l-.5 2.6M193.9 65.8l-.1-.1M193.2 69.4l1.6 1M194.8 70.4l-1.2 1.4M193.6 71.8l-.1-.1M189.9 71l-.2-.1M193.6 72l0-.2M194.8 70.4l.9 .1M194.7 46.7l4.3-.1M199 46.6l1.3 .3M200.3 46.9l-1.8 3.3M198.5 50.2l-3.6-.8M197.1 62.3l1.3 .4M198.4 62.7l.1 .2M198.5 62.9l-.1 1.3M197 56.5l4.9-.8M201.9 55.7l-1.5 5.4M200.4 61.1l-2 1.6M199.7 40l-.9 1.6M198.8 41.6l-1.1 1.1M197.7 42.7l-2.9 2.4M212.3 36l.4 1.7M212.7 37.7l-.2 4.5M212.5 42.2l-10.2-5M202 38.2l3.4 7.6M205.4 45.8l-.5 1.3M204.9 47.1l-4.5-.3M200.4 46.8l-1.6-5.2M198.5 50.2l3.6 3.2M202.6 55.2l-.7 .5M197.7 42.7l1.3 3.9M211.6 87.7l-3.8 4.5M207.8 92.2l-2.7-.8M203.3 59.9l-.5 1M201.9 62.2l-1.5-1.1M200.4 46.8l-.1 .1M198.5 62.9l.3 .2M198.8 63.1l.5 .7M204.9 47.1l.1 .5M205 47.6l-.7 5.4M200 63.6l-1.2-.5M212.5 42.2l.3 .9M212.1 43.6l-6.7 2.2M205 47.6l6.5 1.9M211.5 56.5l-1.2 0M207.7 56.1l-1.2-.3M207.8 92.2l4.4 2.9M212.2 95.1l-.5 4.1M213.5 45.1l.6 2M212.2 95.1l.4-.1M212.6 95l4-.5M216.6 94.5l2.9 6.9M214.2 89.1l-1.6 5.9M216.4 87l-.7 0M212.7 37.7l8.8-.4M221.5 37.3l-2.2 3.6M220.7 34l1.4 2.6M222.1 36.6l0 .1M222.1 36.7l-.6 .6M226.2 34.8l-4.1 1.8M220.2 92l-3.6 2.5M222.1 36.7l1.9 2.3M224 39l.2 .7M224.7 42.6l.6 2.8M234.5 39.6l3.9-3.9M224 39l1.8 .5M227.9 40.2l1.6 .5M55.9 47.7l16.9 0 0-.3 3.6 .9 2.7 1 1.3 .7 0 1.4-.3 .7 2.4-.5 0-.4 1.5-.4 .9-.6 2.1 0 .6-.4 .3-.7 .5-.4 .7 .1 .1 1 .5 .4M59.5 58l1.4 0 2.3 .7 1.7 0 0-.3 1 0 1.2 1.4 .9 .3 .9-.5 1.2 1.5 1.4 1M55.3 49.4l3 .2 1.2 0M59.5 47.7l0 4.4M55.2 52.1l8 0M60.2 47.7l0 .9 .9 1.3 2.1 .6 0 2.2 1.2 0M63.2 50.2l4.2 0M63.2 52.7l4.2 0M67.4 47.7l0 5M57.7 52.1l0 1.8 3.3 2.5 0 1.4M61.4 52.1l0 3.1-.4 .5M61.4 55.2l11.7 0M64.4 52.7l0 6M68.6 52.7l0 2.5M68 55.2l0 3.1-2.2 0M68 55.5l1.8 0 0 1.2 3.3 .6 .3 .4 0 2M67.4 49.6l4.5 0M67.4 51.4l4.5 0M68.6 53.3l4 0M71.9 47.7l0 2.2 0 1.2 0 .6 .4 1.2 .8 .4 0 2.2 0 1.8M71.9 51.1l3.2 0M72.3 52.9l2.7 0M73.1 55.5l2.9 0M73.4 57.7l1.7 0M75.1 51.1l.4 .6-.5 1.4 1.1 2.1-.3 1.2-.6 1.3-.3 1.2 1.1 0 .1 .5M75.5 51.7l1.7 0M77.3 52.2l0 2.3M79 52.2l0 1.7M76.4 55.2l.9-.6 .9-.1 .8-.6 1.3 .4 1.2-1.4M77.3 52.2l2.5 0M76.1 55.4l4.7 0 3.5 0M75.8 56.4l3.5 0M76.9 56.4l0 2.5-.1 .4M78.5 56.4l.3 1.9 0 .6-1.5 0M78.8 58.9l1.9 .3 .3-.1M80 56.4l1.3 1.8M79.3 56.4l2.1 0 1.3 .7M80.3 54.3l.5 .7 .9-.1 1.4-1.2 .1-.2M81.6 53.5l2.8 0M81.9 52.1l2.8 0M81.6 52.1l0 1.4M85.8 50.2l0 2.5M85.8 52.1l1 0M86.4 50.2l0 1.4M87.3 50l.2 1.4M85.9 51.6l1.5 0M75.6 49.3l1.6 .6M74.4 49.1l-.2 .8 .9 1.2M57.7 40.8l0 3.9 3.7 3M63.8 40.8l0 6.9M68.6 40.8l0 6.9M45.1 40.8l27.8 0M48.1 35.2l2.4 3.2 4.8 2.4M45.1 34.9l0 5.8 2.4 .8 1.8 .6 2.4 1.4M72.8 47.7l0-2.4 3.6-2.5M82.2 46.1l0 2.8 3 1.1M68.6 40.8l0-2.4-4.8-.7-6.1-1.8 0-1.3M95.7 46.2l-4.2-.4-1.8-.3 1.8-1.2-1.8-.3 1.5-3.3M89.2 48.9l1.1-.6"/>
<path class="gr" d="M39.6 23V133.3M57.7 23V133.3M75.8 23V133.3M93.9 23V133.3M112 23V133.3M130.1 23V133.3M148.2 23V133.3M166.3 23V133.3M184.4 23V133.3M202.5 23V133.3M220.6 23V133.3M21.5 115.6H238.5M21.5 96.9H238.5M21.5 78.2H238.5M21.5 59.5H238.5M21.5 40.9H238.5"/>
<path class="co" d="M28.8 37.4l1.2-2.1 1.8-.7 3.7-.8 2.9 .3 4.3 .5 2.4 .3 3 .3 3.6-.6 1.2-.1 2.4 .4 4.2 .5 4.3 .5 2.4-.3 4.8 .4 1.8-.4 .6-2.1 2.4 2.1 3-.7 1.9 1.6-2.5 .6-.6 1.3-4.2 1.8 0 1.3 .9 1.2 2.7 .6 3.4 .7 .3 1.5 1.5 .6 .4-1.5 1.1-1.3 .3-1.8-.9-2.1 2.4 0 2.4 .8 1.2 1.6 1.8-1.1 1.8 1.7 .9 1.3 2.1 1.5 .6 .9-2.4 .9-3.6 0-2.4 1.6 3-.8 .3 1.5 2.1 .6-2.7 1.2-.9-.8-2.1 1.1 .3 .8-2.4 .8-.6 1.2-.6 1 .3 1.1-1.5 .9-1.8 1.4 .3 2.2 .3 1.5-.9 0-.8-1.2-.5-1.5-1.2 0-2.1-.2-.3 .7-.9-.1-1.8-.2-1.8 1.1-.3 2 0 1.6 .8 1.7 1 .7 2.1-.3 .3-1.5 2.1-.3-.3 1.9-.4 1.5 2.5 .2 .5 .5-.3 2.5 1.1 1.2 1.5-.3 1.2 .5 .9-.4 .3-.7 .9-.5 1.2-.7 .6 .9 .6-.7 1.2 1 2.4-.1 1.2 .1 .6 1.2 1.2 .3 1.2 1.3 1.8 .2 1.2 .5 .6 .5 .6 1.4 0 1.1 1 .6 2.4 1 2.1 .3 1.5 .4 2 1.1 .1 1.6-1.2 1.8-1.2 1.6 0 2.7-.9 1.7-.9 1.5-1.8 .5-2.1 1.4-.2 1.5-1.4 1.6-1.2 1.7-.9 .8-1.2 .8-.6 1.2-2.7 .5-.2 1-1.6 .2 .6 1-.9 1.5-1.2 .9 .9 1-1.5 1.5-.3 1.2 .3 1.3 .9 .3-1.8 .2-1.2-.8-1.5-1.2-.6-2.5 .9-2.5 .1-1.6 .2-2.8 1.1-2.5 .1-3.1 .6-2.5 .1-3.4-1-.9-2.1-1.3-.9-1.8-1.2-2.5-1.4-1.9 .5-1.2 0-1.6 .3-.9 .6-.5 .9-1.4 .1-1.9-.7-.9-.9 .8-.9-.5-1.6-.9-1-.3-.2-1-.9-.9-1.2-.3-1.5-.6-1.5-1-1.2 .2-1.2-.3-1.5-.8-1.5-.6-1.2-1.3 .2-.8-.8-.9-1.2-1.4-1.2-1.2-1.2-1.3-1.2-1.2 .6 1.2 .6 1 .9 1.5 .9 1.6-.6-.2-.9-.9-1.2-1.7-.3-1.3-1.2-1.2-.5-.8-.8-.8-1.2-.3-.9-1.4-.3-.6-.9-1.6-.1-1.7 .1-2.1-.4-1.2 1 .1-1.2-1.1-1.5-.6-1.5-2.2-1.8-1.6-1.8-.9-2.4-.8-2.4-.2-1.5-.6-2.2 0-.9 1-1.5 .6-1.5 .9-1.5 .8-2.1 .5-.9 .1 1.8-1.1 1.8-1.2-2.4-.3-1.5-1-.6-.9 .6-.7 2.1-.8-2.1-.1-1.2-.1-.9-.5zM86.1 29.6l4.2-1.5 3.6-.9 6-.4 6.1-.6 6 0 4.8 .6 2.4 1-.6 1.2-.6 1.9 .6 .9-1.8 1.3 0 1.2-2.4 1.3-3.6 .3-1.8 1.2-2.4 .3-1.2 1.6-1.2 1.8-1.8-.6-1.8-.9-1.3-1.3-1.5-1.2 .3-1.2 1.2-1-1.8-.6-1.2-1.6-1.8-1.2-4.2-.3-3-.6zM115.6 37.4l1.2-.5 3.7-.1 1.5 .8-.9 .6-2.2 .5-2.4-.2 .3-.5zM94.3 48.6l2-1.2 .3-1.3 1.5 1.4 .2 1.1-.8 .5-1.2-.5zM124.7 55.2l.1-1.3-.4-.6 .4-1.2-.3-.7 .8-.4 2.4 .1 1.5 .1 .2-1 0-.8-.8-.6-1.2-.5 1.5-.4 .3-.6 .9 .1 .9-.4 .6-.5 .9-.4 .5-.9 1.3-.3 .9-.3 0-.9-.2-.8 1.4-.6-.1 .9-.2 .8 .6 .6 1.2-.3 .8 .3 1.3-.3 1.3-.2 .9 .2 .7-.6-.1-1 1.5-.1 .3-.7-.3-.6 2.7-.1 1.2-.4-1.8-.3-2.5 .4-.8-.5-.1-1.4 2.2-1.3 .3-.3-1.8-.2-.6 .8-1.5 .7-.9 .8-.2 .9 .9 .4-.4 .7-1 1.2-.3 .5-1 .5-.9-.2-.8-1.2-.1-.8-.5-.3-1.2 .8-1.2 0-.6-.5-.3-1.3 .2-.7 1.6-.8 1.5-.7 1.2-.9 1.2-1.1 .9-.6 1.9-.8 2.7-.5 1.5-.1 1.5 .1 1.5 .3 1.2 .7 1.8 .1 2.7 .9 .3 .8-1.8 .2-2.1-.3-1.2-.3 1.4 1.5 1.3 .4 1.8-.4 2.4-.9 .3-1.5 .9 .4 2.4-.1 2.2-.3 1.5 0 1.8-.1 1.2-.7 2.4 .3 2.1 .6-.9-1.1 .9-.9 .9-1.1 .9 .3 .6 1.1 .2 1.4 .7 .8 .9-1-1.2-1.5 1.5-.4 2.4 0 .3-.9 4-.3-.3-.5 2.1-.4 4.2-.3 2.4-.3 1.8-.8 1.8 .5 1.8 .2 2.1 .5-.9 1.1 .9 .5 2.8-.2 3.6 0 2.7 .5 .6 1.1 1.2 .1 2.1-.5 3-.5 3.6 .1 3.1 .6 3.6 .2 2.4 .9 3.6 0 1.8-.3 3.6 .1 2.4 .6 0 2.4-.9 .3-.9 1.3-2.4 .6-1.8 .9-2.4 0-1.5 .2-.3 1.2-.6 1-1.2 1.4-.9 .7-1.1 1.2-.4-1.3-.3-1.9 .8-1.1 1.3-.7 1.8-1.6-1.2-.2-2.4 .2-1.2 1.4-2.4-.2-3.1 .2-1.8 .2-2.4 1.5-1.5 1.1 .9 .6 2.1 .4 .5 .7-.5 2.2-1.2 1.1-1.8 1.9-1.8 .6-1.1 .3-.6 .8-1.3 .8 .6 .9 .6 1.4-.2 .5-1.6 .5-.1-1.3 .2-.8-.8 0-.4-1.2-1.6-.4-.5 .8 .2-1.1-1.5 1-.8 .4 .6 .8 2.3 0-1.4 .8-.6 .7 .9 1.5 .7 .9-.2 .6 .3 .6-.9 1.3-.6 .9-1.2 1.1-2.2 .9-1.8 .5-.4 .6-.5-.6-.9 0-.9 .6-.5 1 .7 1.2 1.2 1.1 .3 1.7-.3 1-1.2 .3-1.1 1.1-.1-1-1.1-.4-.3-.8-1-.7-.5 .1-.5 1.7 .7 1.3 .4 .9 .8 .5 .7 1 0 1.2 .4 .7-.7 0-1-.8-.6-1.4-.1-.9-1.1-.9 0-1.3 .2-1.9-.6-2.2-1-.2-1 .5 .1-1.5-.9-.9-.6-1.3-.9-.1-1.2 .3-1.1 .3-1 1.1-1.7 1.8-1.2 .7 0 1.5-.3 1.7-.8 .8-.6 .6-.7-.9-.8-1.9-.6-1.5-.7-2.5-.1-1.4-1.3 .3-.9-1 .7-.4-1-.3-.7-.7-.5-.5-3 .1-2.5-.3-.6-.9-1.1 .3-1.9-.8-.7-1.3-1.1 0-.3 .6 1.2 1.6 .5 .6 .5-.2 0 1 1.5 .1 1.2-.9 .1-.5 .2 1.1 1.4 .7 .6 .7-.8 1.2-.5 .9-1.3 .8-2 1.2-2 1-2.4 .8-1 .1-.4-1.7-.1-1-.8-1.2-1.2-1.6-.4-1.4-.8-1.1-1.2-1.5-.3-1-.3 1.2-.4-.4-.5-1 .6 1.6 .1 .4 1 1.7 .9 1.2 .2 1.9 .8 .7 .6 1.7 1.1 .8 1.1 .9-.1 .5 .8 .7 1.8-.5 2.3-.4-.1 .9-.7 1.8-1.2 1.9-1.2 1.6-1.5 1.5-1.2 .9-.9 1-.5 .9-.2 1.3 .4 .6 .2 1.2 .4 .6 .1 2.5-1 1.3-1.3 1.1-1 1.7 .2 1.5-1.5 1-.1 .6-.2 1.2-.9 1-.6 .9-1.2 .9-1.2 .5-1.8 .2-1.8 .5-1-.4-.1-1.4-.7-1.5-1.1-1.6-.5-2.5-.9-1.5-.7-1.9 .3-2.2 .9-1.5-.3-1.6-.6-1.9 0-.6-.8-.7-1-1.8 .1-1.2 .2-1.4-.6-.8-1.1 .1-.9-.4-.6-.8-1.5 0-1.8 .7-1.2 0-1.2 0-1.5 .5-1.2-.7-1.2-.9-.9-.9-.3-.7-.9-.9-1.1-1-.5-1.4 .7-1.1 .1-1.8-.5-1 .7-1.7 .9-1.4 .9-1 1.2-.7 .7-.8 .1-1.5 1-.7 1-.9 .5-.5 .9 .4 1.2 .1 1.2-.5 1.8-.6 2.4-.1 1.7-.2 .7 .2-.3 .6 .3 .4-.6 .7 .7 .6 1.1 .3 1.4 .3 1.1 .8 1.2 .4 .6-.4 0-.8 .9-.4 .9 .2 1.2 .5 2.4 .6 1.2-.5 .8 .2 1.1 0 .5-1 .5-1.1 0-1 .2-.4-1 .1-1.2 .4-1.2-.2-1.5-.1-.4-.5-.5-.7-.1-.9 .2-.2 1.4-.4 0-.1 1.2 0 1.2-.5 1.2 0 1.8 .6 1.2 0 .9-.3 .1-.7-1-.5-1.2-.7-.3-.4 .9-1.3-1.8 .3-.3 .9 .6 0-.6 .1-.9 .5-.4-.2-.5-.5 .6-.3-1.2-.4-.6 .4-.6 .5-.5 .7-.5 .6 .1 .7 .6 .4-.6 .2-.7 .2-.4 .1-.4-.2-.9 0-.6 .2-.3 .2 .3 .4-.2 .4 .8 .5-.6 .4-.2 .6-.6-.2-.3-.6 .2-.3-.8-.8-.4-.7 0-.7-.6-.5-.9-.5-1-.4-.3-.6-.4-.2-.4-.2-.8 .2 .1 .6 .7 .5 .5 1 .9 .3 1.6 .8-.9 .5-.4 .5-.4 .3 0-.9-.5-.4-.6-.4-.9-.5-.9-.6-.4-.8-.8-.3-.9 .3-.9 .5-1.2-.3-.5 .3 0 .7-1.3 .6-.6 .7-.2 .7-.3 .7-.7 .6-1.5 0-.7 .4-.4-.5-.7-.3zM198.5 91.9l.3 2.5 .6 2.5 0 2.2 .6 .9 1.3 0 1.8-.8 1.8-.5 1.2-.4 1.8-.4 1.5-.1 1.5 .8 1.1 1.3 1-1 .2 1.4 1 .3 .6 1.3 1.8 .5 1.7 .1 1-.8 1.3-.3 .6-2 1.2-1.6 .3-2.2-.3-1.5-.9-1-.9-1-.7-1.1-1.5-1-.3-1.2-.4-1.3-1.1-.6-.6-2-.5 1.4-.1 1.9-.6 .9-.9-.4-.9-.5-1.2-.7 .8-1.6-1.1-.1-1.5-.5-.9 .5-.9 1.6-.9 .1-.6-.7-1 .4-1.1 1.3-.9 1-.6 .8-1.2 .3-1.2 .4-1.6 .6zM75.8 33.5l3-1.2 3.1 0 2.4 .8 3 .9 1.8 .6 .9 1 2.7 .9 .3 .3-1.5 .9-.6 1 .3 .6-.9 .3-1.2-.5-1.8-.4-1.5-.5-2.4 0-.3-.8 1.8-.3 1.2-.6-.3-.6-1.8-.7-1.5-.6-3.1 0-2.4-.1-.6-.5zM74.6 30.6l1.8 .1 4.3 .1 2.4-.2 1.2-.8 1.8-.5 1.8-.7 3-.5 1.8-.7-1.2-.6-3.6-.3-4.8 0-4.9 .5-3.6 .6 1.2 .6 1.8 .6 .6 .5-2.4 .6zM71.6 28.3l3-.7 2.4 .4 .6 .8-2.4 .7-2.4-.2zM66.2 29.3l3-.5 1.8 .3-1.2 .7-2.4 0zM72.2 31.1l2.4 .7 5.5 0 1.8-.2-.6-.8-3.1-.2-3.6-.1-2.4 .2zM69.2 30.9l2.4-.2 .6 .8-1.8 .2zM59.5 31.4l1.9-.8 3.6-.1 2.4 .5-1.2 .5-2.4 .1zM55.3 30.7l3-.8 1.9 .5-2.5 .6zM54.4 33.4l.6-1.3 2.4-.3 3.1 .6-1.3 .7-2.1 .7zM58.3 33.7l.9-.8 2.2-.3 3.6 0 2.1 .3 2.1 .9 0 .8-1.2 .6-2.4 .2-3.6 .3-2.8-.5-.6-.9zM68.6 32.8l1.8-.6 1.5 .6-.3 .8-1.8-.1zM72.2 32.3l3-.2 .6 .7-2.1 .6zM69.8 35.2l2.1-.4 .6 .6-1.8 .2zM77.6 38l2.1-.8 1.6 1.2-1.9 .8-1.2-.5zM80.1 39.1l1.2 .2-.6 .2zM78.9 64.6l1.8-.8 1.2 .1 1.8 .9 1.7 .8-2 .2-.3-.5-1.8-.5-1.2 0zM85.2 65.9l1.8-.1 1.9 .8-1 .3-.9 .3-1.8-.5zM82.9 66.7l1.3 .3-.8 .1zM89.6 66.7l.9 .1-.2 .2zM83.1 61.6l.6 .4-.5 .9-.3-.6zM126.7 47l1.6-.3 2.6-.3 .2-1-.9-.5-.4-.6-.7-.7-.3-1.1 .2-.2-1.3 0 .5-.6-1.1 0-.7 .7 .3 .9 .5 .2-.1 .6 1.1-.1 0 .6-.9 .4 .3 .6-.6 .4 1.1 .2-.7 .2zM126.5 45.7l-.1-1 .3-.5-.9-.4-.8 .3-.9 .4 .2 .7-.4 .8 1.4 .1zM135.3 52.7l.6 0 0 1.1-.7 .1 0-.6zM135.3 51.7l.5-.2 0 .9-.5-.1zM137.6 54.5l1.9-.1-.3 1-1.6-.6zM144.3 56.2l1.6 .1-1 .2zM149.6 56.4l1.4-.4-.5 .7zM178.3 72.1l1.2 1.4-.8 1-.5-1.4zM208.6 57.3l1-.7 1-.5 1.5-.1 .9-.8 1.2-.8 .3-1.4 .9-.5 .3 1.1-.6 .9-.1 1.3-.6 .6-.8 .3-.9 0-.9 .6-1.5 0-.8 1.3-.8 .2-.3-1zM214.5 52.4l.9-.7 1.2 .4 1.2-.9-.6-.4-1.6-.9-.2 1.2-.6 .3zM215.7 49.6l.9-.3-.3-1.6 .9 0-.9-1.6 0-1.5-.3-.2-.2 2.1-.2 1.5zM202.9 64.5l.7-1.9-.5-.1-.6 1.1zM195.6 66.2l1.1-.5 .3 .3-.8 .9zM202.8 66.7l1 0-.1 1.5 1.1 1.4 .1 .8-1.5-.8-.6-.3-.5-1.3zM203.7 73.8l1.2-.6 .9-1.1 .6 1.7-.7 .9-1.1-1.2zM203.7 71l.6 1 1.2-.6 0-1-.9 0zM195.8 77.3l.6-.2 .6-.5 1.2-.4 1.5-1.3 1-1.1 1.2 1.2-.6 .5-.3 1.5 .8 .6-.8 .6-.7 1.2-.3 1.2-.9 .1-2.1-.6-.4-.3-.8-1zM187.6 74.8l1.3 .2 1.7 1.6 1.9 1.3 .6 1.2 .9 1-.1 1.7-.8 .1-1.5-1.2-.9-1.8-1.1-1.8-1.3-1.2zM193.5 82.4l.8-.5 1.2 .5 1.5-.2 1.1 .4 1 .5-1.5 .3-2.4-.3-1.2-.3zM199.1 83.2l.9 .4 1.9-.1 .6 .2 1.7-.4-2.9-.1zM204.6 84.6l.9-1 1.4-.2-1.7 1zM202 81.6l.7 .1 .1-1.6 .3-.3 .9 1.2 .4-2.2-1.3 0 .6-1.1 1.9-.4-.4 .7-2.7-.2-.3 .7-.5 1.4zM207 77.1l.6 .2-.3 .9-.4 .3zM206.4 80.1l.9 .5 1.2-.2-.6-.5zM209.1 78.8l.9-.4 1.2 .5 .6 1.4 1.5-1 1.8 .5 2.4 .9 .5 .9 1 .5 .5 1.4 1.1 1.1-1.6-.2-.9-1.2-1.2-.3-.6 .9-1.2 .1-1.2-.7-.7-1.6-1.7-.8-1.2-.1-.6-.7 .9-.4zM220.6 81.6l1.2-.8 .3 .4-.6 .6zM223.6 81.9l.5 .5 .7 1.1 1.2 .3 1.1 .5 .4 .4zM159.8 85.7l.8 2.1-.7 1-.6 2.2-.7 2.6-1.4 .4-.8-1.2-.2-1.2 .6-1-.2-1.5 .6-.9 1.2-.5 .6-1.1zM136.7 29.1l3 1.5 3.4-.5 3.3-1.4-3-.5-3 .2-3.7 .1zM161.5 33.7l2.4 .5 1.2-.1-1.5-1 1.5-1.3 3.6-.8 2.7-.6-1.5-.1-4.2 .6-1.8 .9-1.5 1zM187.4 28.7l3 .6 2.4-.4-2.4-1.1-3 .2zM212.7 31.5l3-.3 2.4 .2 2.5-.1-2.5-.5-3.6 .1zM158.4 28.1l4.9-.6 4.8 .4-3.6 .5zM233.8 99.6l1.2 .5 1.2 1.4 1.5 .2-.6 .9-.4 .8-1.1 .7-.2-1.1-.5-.4 .5-1.4-1-1.2zM234.3 103.5l.9 .5-.6 1-.3 .5-1.1 .6-.6 .7-.9 .4-1.2-.4 .9-1.1 1.8-1.4zM229 90.8l.9 .5 .9 .8-.3-.1zM237 89.1l.7 0-.1 .4-.5 0zM171.6 108.5l.9 .2-.5 .4zM217.5 103.5l2 .2-.2 1.4-.9 .2-.7-.8zM93 109.9l2.1 .2-.9 .7-.9-.2zM163.4 91.2l.3 .3zM164.7 90.6l.3 .3zM119.5 60.5l2.5-.4zM211.1 81.9l.3-.3-.2 .8zM87.9 111.2l.9 0-.3 .6zM31.8 127.4l3 .3-1.8 .5zM84.9 123l3-.3-1.2 .9zM36 65.6l.6 .5-.4 .3M33.7 64.4l.3 .1M34.7 64.8l.3 .1M24 45.8l2.4-.3 2.4-.6 1.2-.3M21.6 46l1.8 0M37.8 42.2l.6 .3-1.2 .3M21.6 35.3l2.4-.5 2.4-.1 1.2 .1-.3 .8-.9 1 1.4 .5-1.1 .4-.9 .7-1.8-.4-1.5-.4-.9 .3M21.6 33.7l1.2 .2 .3 0-1.5 .2M237.7 33.9l.9-.2 0 .4M21.6 130l7.2 0 3-.8 3-.3 1.8-.6 3-.3 1.9-1.6 1.2-.9 3-.5 6-.7 6-.3 6.1 0 3-.7 3-.6 3 0 6 0 4.3-.3 2.4-.6 2.4-1.3 2.4-1.2 1.8-.9 2.4-1 1.2 .2-.6 .8-1.8 .9-.6 1.2-.6 1.3 .6 1.2 0 1.3-2.4 1.2-2.4 .6-1.2 .7 3.6 .6 4.8 .6 4.8 .9 6.1-.6 4.2-1.2 1.8-1 3-.9 4.2-1.6 4.9-1.2 3-.3 3-.9 6 .3 6.1 0 6-.7 1.8-.9 4.2 .6 6-.9 3.1-.6 3 .9 3.6 .5 1.2 1.4 1.2 .6 1.2-.9 2.4-.3 2.4-1.6 4.9-.3 4.2-.3 3 0 3 0 3 0 3 .3 3.1-.3 6 0 6 0 3 .3 3.1 .3 4.8 .6 4.2 1.9 3.6 .6-.6 .9-2.4 1.9-1.8 1.3 3 .9 4.2 1.5 3 .8M158.4 50.2l1.2-1 1.6-.3 .9 1-.9 .6-.2 .8 .9 .8 .2 .9 .6 1.2-.2 1-1.6 .2-1.3-.6 .3-1.6-.9-1.1-.3-1z"/>
<rect x="21.5" y="23.0" width="217.0" height="110.3" class="frame"/>
<text transform="translate(39.65 18.80) scale(1 1.14)" class="tk" text-anchor="middle">150°W</text>
<text transform="translate(39.65 140.80) scale(1 1.14)" class="tk" text-anchor="middle">150°W</text>
<text transform="translate(75.83 18.80) scale(1 1.14)" class="tk" text-anchor="middle">90°W</text>
<text transform="translate(75.83 140.80) scale(1 1.14)" class="tk" text-anchor="middle">90°W</text>
<text transform="translate(93.92 18.80) scale(1 1.14)" class="tk" text-anchor="middle">60°W</text>
<text transform="translate(93.92 140.80) scale(1 1.14)" class="tk" text-anchor="middle">60°W</text>
<text transform="translate(112.01 18.80) scale(1 1.14)" class="tk" text-anchor="middle">30°W</text>
<text transform="translate(112.01 140.80) scale(1 1.14)" class="tk" text-anchor="middle">30°W</text>
<text transform="translate(130.10 18.80) scale(1 1.14)" class="tk" text-anchor="middle">0°</text>
<text transform="translate(130.10 140.80) scale(1 1.14)" class="tk" text-anchor="middle">0°</text>
<text transform="translate(148.19 18.80) scale(1 1.14)" class="tk" text-anchor="middle">30°E</text>
<text transform="translate(148.19 140.80) scale(1 1.14)" class="tk" text-anchor="middle">30°E</text>
<text transform="translate(166.28 18.80) scale(1 1.14)" class="tk" text-anchor="middle">60°E</text>
<text transform="translate(166.28 140.80) scale(1 1.14)" class="tk" text-anchor="middle">60°E</text>
<text transform="translate(184.37 18.80) scale(1 1.14)" class="tk" text-anchor="middle">90°E</text>
<text transform="translate(184.37 140.80) scale(1 1.14)" class="tk" text-anchor="middle">90°E</text>
<text transform="translate(202.46 18.80) scale(1 1.14)" class="tk" text-anchor="middle">120°E</text>
<text transform="translate(202.46 140.80) scale(1 1.14)" class="tk" text-anchor="middle">120°E</text>
<text transform="translate(220.55 18.80) scale(1 1.14)" class="tk" text-anchor="middle">150°E</text>
<text transform="translate(220.55 140.80) scale(1 1.14)" class="tk" text-anchor="middle">150°E</text>
<rect x="53.9" y="152.4" width="152.3" height="8.1" fill="url(#cbg)"/>
<rect x="53.9" y="152.4" width="152.3" height="8.1" class="cbf"/>
<path d="M68.64 160.5v2" class="tick"/>
<text transform="translate(68.64 169.20) scale(1 1.14)" class="tk" text-anchor="middle">−10</text>
<path d="M99.34 160.5v2" class="tick"/>
<text transform="translate(99.34 169.20) scale(1 1.14)" class="tk" text-anchor="middle">−5</text>
<path d="M130.05 160.5v2" class="tick"/>
<text transform="translate(130.05 169.20) scale(1 1.14)" class="tk" text-anchor="middle">0</text>
<path d="M160.76 160.5v2" class="tick"/>
<text transform="translate(160.76 169.20) scale(1 1.14)" class="tk" text-anchor="middle">5</text>
<path d="M191.46 160.5v2" class="tick"/>
<text transform="translate(191.46 169.20) scale(1 1.14)" class="tk" text-anchor="middle">10</text>
<text transform="translate(77.19 177.40) scale(1 1.14)" class="cap">annual mean of DRE</text><text transform="translate(141.27 174.60) scale(1 1.14)" class="ss">all</text><text transform="translate(141.27 178.60) scale(1 1.14)" class="ss">sw</text><text transform="translate(147.53 178.00) scale(1 1.14)" class="cap">|</text><text transform="translate(150.36 178.50) scale(1 1.14)" class="ss">toa</text><text transform="translate(158.83 177.40) scale(1 1.14)" class="cap">[W m</text><text transform="translate(175.09 174.40) scale(1 1.14)" class="ss2">−2</text><text transform="translate(179.79 177.40) scale(1 1.14)" class="cap">]</text>
</g>
<text transform="translate(18.60 42.85) scale(1 1.14)" class="tk" text-anchor="end">60°N</text>
<text transform="translate(258.30 42.85) scale(1 1.14)" class="tk" text-anchor="end">60°N</text>
<text transform="translate(481.30 42.85) scale(1 1.14)" class="tk">60°N</text>
<text transform="translate(18.60 61.53) scale(1 1.14)" class="tk" text-anchor="end">30°N</text>
<text transform="translate(258.30 61.53) scale(1 1.14)" class="tk" text-anchor="end">30°N</text>
<text transform="translate(481.30 61.53) scale(1 1.14)" class="tk">30°N</text>
<text transform="translate(18.60 80.20) scale(1 1.14)" class="tk" text-anchor="end">0°</text>
<text transform="translate(258.30 80.20) scale(1 1.14)" class="tk" text-anchor="end">0°</text>
<text transform="translate(481.30 80.20) scale(1 1.14)" class="tk">0°</text>
<text transform="translate(18.60 98.88) scale(1 1.14)" class="tk" text-anchor="end">30°S</text>
<text transform="translate(258.30 98.88) scale(1 1.14)" class="tk" text-anchor="end">30°S</text>
<text transform="translate(481.30 98.88) scale(1 1.14)" class="tk">30°S</text>
<text transform="translate(18.60 117.55) scale(1 1.14)" class="tk" text-anchor="end">60°S</text>
<text transform="translate(258.30 117.55) scale(1 1.14)" class="tk" text-anchor="end">60°S</text>
<text transform="translate(481.30 117.55) scale(1 1.14)" class="tk">60°S</text>
<text transform="translate(18.60 222.65) scale(1 1.14)" class="tk" text-anchor="end">60°N</text>
<text transform="translate(258.30 222.65) scale(1 1.14)" class="tk" text-anchor="end">60°N</text>
<text transform="translate(481.30 222.65) scale(1 1.14)" class="tk">60°N</text>
<text transform="translate(18.60 241.33) scale(1 1.14)" class="tk" text-anchor="end">30°N</text>
<text transform="translate(258.30 241.33) scale(1 1.14)" class="tk" text-anchor="end">30°N</text>
<text transform="translate(481.30 241.33) scale(1 1.14)" class="tk">30°N</text>
<text transform="translate(18.60 260.00) scale(1 1.14)" class="tk" text-anchor="end">0°</text>
<text transform="translate(258.30 260.00) scale(1 1.14)" class="tk" text-anchor="end">0°</text>
<text transform="translate(481.30 260.00) scale(1 1.14)" class="tk">0°</text>
<text transform="translate(18.60 278.68) scale(1 1.14)" class="tk" text-anchor="end">30°S</text>
<text transform="translate(258.30 278.68) scale(1 1.14)" class="tk" text-anchor="end">30°S</text>
<text transform="translate(481.30 278.68) scale(1 1.14)" class="tk">30°S</text>
<text transform="translate(18.60 297.35) scale(1 1.14)" class="tk" text-anchor="end">60°S</text>
<text transform="translate(258.30 297.35) scale(1 1.14)" class="tk" text-anchor="end">60°S</text>
<text transform="translate(481.30 297.35) scale(1 1.14)" class="tk">60°S</text>
</svg></body></html>
